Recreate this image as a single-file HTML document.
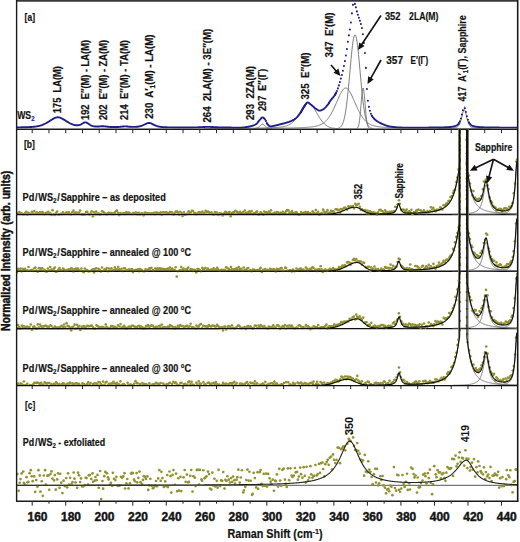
<!DOCTYPE html>
<html><head><meta charset="utf-8"><style>
html,body{margin:0;padding:0;background:#fff;}
body{width:520px;height:542px;overflow:hidden;}
svg{display:block;}
</style></head><body>
<svg width="520" height="542" viewBox="0 0 520 542">
<rect width="520" height="542" fill="#fff"/>
<defs><clipPath id="pa"><rect x="17" y="0" width="500" height="128.5"/></clipPath><clipPath id="pb"><rect x="17" y="129.5" width="500" height="256.5"/></clipPath><clipPath id="pc"><rect x="17" y="386" width="500" height="115"/></clipPath></defs>
<g clip-path="url(#pa)">
<path d="M253.00,128.57 L253.50,128.56 L254.00,128.54 L254.50,128.51 L255.00,128.47 L255.50,128.42 L256.00,128.34 L256.50,128.23 L257.00,128.08 L257.50,127.88 L258.00,127.62 L258.50,127.30 L259.00,126.90 L259.50,126.45 L260.00,125.96 L260.50,125.45 L261.00,124.97 L261.50,124.57 L262.00,124.30 L262.50,124.20 L263.00,124.30 L263.50,124.57 L264.00,124.97 L264.50,125.45 L265.00,125.96 L265.50,126.45 L266.00,126.90 L266.50,127.30 L267.00,127.62 L267.50,127.88 L268.00,128.08 L268.50,128.23 L269.00,128.34 L269.50,128.42 L270.00,128.47 L270.50,128.51 L271.00,128.54 L271.50,128.56 L272.00,128.57" fill="none" stroke="#6e6e6e" stroke-width="0.9"/>
<path d="M204.00,128.58 L204.50,128.58 L205.00,128.58 L205.50,128.58 L206.00,128.57 L206.50,128.57 L207.00,128.57 L207.50,128.57 L208.00,128.57 L208.50,128.57 L209.00,128.57 L209.50,128.57 L210.00,128.56 L210.50,128.56 L211.00,128.56 L211.50,128.56 L212.00,128.56 L212.50,128.56 L213.00,128.56 L213.50,128.55 L214.00,128.55 L214.50,128.55 L215.00,128.55 L215.50,128.55 L216.00,128.55 L216.50,128.54 L217.00,128.54 L217.50,128.54 L218.00,128.54 L218.50,128.54 L219.00,128.54 L219.50,128.53 L220.00,128.53 L220.50,128.53 L221.00,128.53 L221.50,128.53 L222.00,128.52 L222.50,128.52 L223.00,128.52 L223.50,128.52 L224.00,128.52 L224.50,128.51 L225.00,128.51 L225.50,128.51 L226.00,128.51 L226.50,128.50 L227.00,128.50 L227.50,128.50 L228.00,128.50 L228.50,128.49 L229.00,128.49 L229.50,128.49 L230.00,128.49 L230.50,128.48 L231.00,128.48 L231.50,128.48 L232.00,128.48 L232.50,128.47 L233.00,128.47 L233.50,128.47 L234.00,128.46 L234.50,128.46 L235.00,128.46 L235.50,128.45 L236.00,128.45 L236.50,128.45 L237.00,128.44 L237.50,128.44 L238.00,128.44 L238.50,128.43 L239.00,128.43 L239.50,128.42 L240.00,128.42 L240.50,128.42 L241.00,128.41 L241.50,128.41 L242.00,128.40 L242.50,128.40 L243.00,128.39 L243.50,128.39 L244.00,128.38 L244.50,128.38 L245.00,128.37 L245.50,128.37 L246.00,128.36 L246.50,128.36 L247.00,128.35 L247.50,128.35 L248.00,128.34 L248.50,128.34 L249.00,128.33 L249.50,128.32 L250.00,128.32 L250.50,128.31 L251.00,128.30 L251.50,128.30 L252.00,128.29 L252.50,128.28 L253.00,128.28 L253.50,128.27 L254.00,128.26 L254.50,128.25 L255.00,128.24 L255.50,128.23 L256.00,128.23 L256.50,128.22 L257.00,128.21 L257.50,128.20 L258.00,128.19 L258.50,128.18 L259.00,128.17 L259.50,128.16 L260.00,128.15 L260.50,128.13 L261.00,128.12 L261.50,128.11 L262.00,128.10 L262.50,128.09 L263.00,128.07 L263.50,128.06 L264.00,128.04 L264.50,128.03 L265.00,128.01 L265.50,128.00 L266.00,127.98 L266.50,127.97 L267.00,127.95 L267.50,127.93 L268.00,127.91 L268.50,127.89 L269.00,127.87 L269.50,127.85 L270.00,127.83 L270.50,127.81 L271.00,127.79 L271.50,127.76 L272.00,127.74 L272.50,127.71 L273.00,127.68 L273.50,127.65 L274.00,127.63 L274.50,127.59 L275.00,127.56 L275.50,127.53 L276.00,127.49 L276.50,127.46 L277.00,127.42 L277.50,127.37 L278.00,127.33 L278.50,127.29 L279.00,127.24 L279.50,127.18 L280.00,127.13 L280.50,127.07 L281.00,127.01 L281.50,126.94 L282.00,126.86 L282.50,126.78 L283.00,126.70 L283.50,126.61 L284.00,126.51 L284.50,126.40 L285.00,126.28 L285.50,126.15 L286.00,126.01 L286.50,125.85 L287.00,125.68 L287.50,125.50 L288.00,125.30 L288.50,125.08 L289.00,124.84 L289.50,124.58 L290.00,124.30 L290.50,123.99 L291.00,123.66 L291.50,123.29 L292.00,122.90 L292.50,122.48 L293.00,122.03 L293.50,121.54 L294.00,121.02 L294.50,120.46 L295.00,119.87 L295.50,119.25 L296.00,118.59 L296.50,117.89 L297.00,117.16 L297.50,116.39 L298.00,115.60 L298.50,114.78 L299.00,113.93 L299.50,113.06 L300.00,112.17 L300.50,111.27 L301.00,110.36 L301.50,109.46 L302.00,108.56 L302.50,107.69 L303.00,106.84 L303.50,106.03 L304.00,105.28 L304.50,104.59 L305.00,103.99 L305.50,103.47 L306.00,103.05 L306.50,102.75 L307.00,102.56 L307.50,102.50 L308.00,102.54 L308.50,102.66 L309.00,102.85 L309.50,103.12 L310.00,103.46 L310.50,103.86 L311.00,104.34 L311.50,104.88 L312.00,105.47 L312.50,106.12 L313.00,106.81 L313.50,107.55 L314.00,108.32 L314.50,109.12 L315.00,109.94 L315.50,110.79 L316.00,111.65 L316.50,112.51 L317.00,113.38 L317.50,114.24 L318.00,115.09 L318.50,115.93 L319.00,116.76 L319.50,117.57 L320.00,118.35 L320.50,119.10 L321.00,119.83 L321.50,120.53 L322.00,121.19 L322.50,121.82 L323.00,122.42 L323.50,122.98 L324.00,123.50 L324.50,124.00 L325.00,124.45 L325.50,124.88 L326.00,125.27 L326.50,125.63 L327.00,125.97 L327.50,126.27 L328.00,126.54 L328.50,126.79 L329.00,127.02 L329.50,127.22 L330.00,127.41 L330.50,127.57 L331.00,127.72 L331.50,127.85 L332.00,127.96 L332.50,128.06 L333.00,128.15 L333.50,128.23 L334.00,128.30 L334.50,128.36 L335.00,128.41 L335.50,128.45 L336.00,128.49 L336.50,128.52 L337.00,128.55 L337.50,128.58" fill="none" stroke="#6e6e6e" stroke-width="0.9"/>
<path d="M209.00,128.58 L209.50,128.58 L210.00,128.58 L210.50,128.58 L211.00,128.58 L211.50,128.58 L212.00,128.57 L212.50,128.57 L213.00,128.57 L213.50,128.57 L214.00,128.57 L214.50,128.57 L215.00,128.57 L215.50,128.57 L216.00,128.57 L216.50,128.57 L217.00,128.56 L217.50,128.56 L218.00,128.56 L218.50,128.56 L219.00,128.56 L219.50,128.56 L220.00,128.56 L220.50,128.56 L221.00,128.56 L221.50,128.55 L222.00,128.55 L222.50,128.55 L223.00,128.55 L223.50,128.55 L224.00,128.55 L224.50,128.55 L225.00,128.55 L225.50,128.54 L226.00,128.54 L226.50,128.54 L227.00,128.54 L227.50,128.54 L228.00,128.54 L228.50,128.54 L229.00,128.54 L229.50,128.53 L230.00,128.53 L230.50,128.53 L231.00,128.53 L231.50,128.53 L232.00,128.53 L232.50,128.53 L233.00,128.52 L233.50,128.52 L234.00,128.52 L234.50,128.52 L235.00,128.52 L235.50,128.52 L236.00,128.51 L236.50,128.51 L237.00,128.51 L237.50,128.51 L238.00,128.51 L238.50,128.51 L239.00,128.50 L239.50,128.50 L240.00,128.50 L240.50,128.50 L241.00,128.50 L241.50,128.49 L242.00,128.49 L242.50,128.49 L243.00,128.49 L243.50,128.49 L244.00,128.48 L244.50,128.48 L245.00,128.48 L245.50,128.48 L246.00,128.48 L246.50,128.47 L247.00,128.47 L247.50,128.47 L248.00,128.47 L248.50,128.46 L249.00,128.46 L249.50,128.46 L250.00,128.46 L250.50,128.45 L251.00,128.45 L251.50,128.45 L252.00,128.45 L252.50,128.44 L253.00,128.44 L253.50,128.44 L254.00,128.43 L254.50,128.43 L255.00,128.43 L255.50,128.43 L256.00,128.42 L256.50,128.42 L257.00,128.42 L257.50,128.41 L258.00,128.41 L258.50,128.41 L259.00,128.40 L259.50,128.40 L260.00,128.40 L260.50,128.39 L261.00,128.39 L261.50,128.39 L262.00,128.38 L262.50,128.38 L263.00,128.38 L263.50,128.37 L264.00,128.37 L264.50,128.36 L265.00,128.36 L265.50,128.36 L266.00,128.35 L266.50,128.35 L267.00,128.34 L267.50,128.34 L268.00,128.33 L268.50,128.33 L269.00,128.32 L269.50,128.32 L270.00,128.31 L270.50,128.31 L271.00,128.30 L271.50,128.30 L272.00,128.29 L272.50,128.29 L273.00,128.28 L273.50,128.28 L274.00,128.27 L274.50,128.26 L275.00,128.26 L275.50,128.25 L276.00,128.25 L276.50,128.24 L277.00,128.23 L277.50,128.23 L278.00,128.22 L278.50,128.21 L279.00,128.21 L279.50,128.20 L280.00,128.19 L280.50,128.18 L281.00,128.18 L281.50,128.17 L282.00,128.16 L282.50,128.15 L283.00,128.14 L283.50,128.13 L284.00,128.13 L284.50,128.12 L285.00,128.11 L285.50,128.10 L286.00,128.09 L286.50,128.08 L287.00,128.07 L287.50,128.06 L288.00,128.05 L288.50,128.04 L289.00,128.02 L289.50,128.01 L290.00,128.00 L290.50,127.99 L291.00,127.98 L291.50,127.96 L292.00,127.95 L292.50,127.94 L293.00,127.92 L293.50,127.91 L294.00,127.89 L294.50,127.88 L295.00,127.86 L295.50,127.85 L296.00,127.83 L296.50,127.81 L297.00,127.80 L297.50,127.78 L298.00,127.76 L298.50,127.74 L299.00,127.72 L299.50,127.70 L300.00,127.68 L300.50,127.66 L301.00,127.64 L301.50,127.62 L302.00,127.59 L302.50,127.57 L303.00,127.54 L303.50,127.52 L304.00,127.49 L304.50,127.46 L305.00,127.43 L305.50,127.40 L306.00,127.37 L306.50,127.34 L307.00,127.30 L307.50,127.26 L308.00,127.23 L308.50,127.19 L309.00,127.14 L309.50,127.10 L310.00,127.05 L310.50,127.00 L311.00,126.95 L311.50,126.90 L312.00,126.84 L312.50,126.77 L313.00,126.71 L313.50,126.63 L314.00,126.55 L314.50,126.47 L315.00,126.38 L315.50,126.28 L316.00,126.18 L316.50,126.06 L317.00,125.94 L317.50,125.81 L318.00,125.66 L318.50,125.51 L319.00,125.34 L319.50,125.15 L320.00,124.95 L320.50,124.74 L321.00,124.50 L321.50,124.25 L322.00,123.98 L322.50,123.68 L323.00,123.36 L323.50,123.01 L324.00,122.64 L324.50,122.24 L325.00,121.81 L325.50,121.35 L326.00,120.86 L326.50,120.34 L327.00,119.78 L327.50,119.19 L328.00,118.56 L328.50,117.89 L329.00,117.19 L329.50,116.44 L330.00,115.66 L330.50,114.85 L331.00,113.99 L331.50,113.10 L332.00,112.17 L332.50,111.21 L333.00,110.22 L333.50,109.19 L334.00,108.14 L334.50,107.06 L335.00,105.95 L335.50,104.83 L336.00,103.70 L336.50,102.55 L337.00,101.40 L337.50,100.25 L338.00,99.10 L338.50,97.97 L339.00,96.86 L339.50,95.78 L340.00,94.73 L340.50,93.72 L341.00,92.77 L341.50,91.88 L342.00,91.07 L342.50,90.33 L343.00,89.68 L343.50,89.13 L344.00,88.68 L344.50,88.34 L345.00,88.12 L345.50,88.01 L346.00,88.02 L346.50,88.15 L347.00,88.40 L347.50,88.76 L348.00,89.23 L348.50,89.80 L349.00,90.47 L349.50,91.22 L350.00,92.06 L350.50,92.96 L351.00,93.92 L351.50,94.93 L352.00,95.99 L352.50,97.08 L353.00,98.20 L353.50,99.33 L354.00,100.48 L354.50,101.63 L355.00,102.78 L355.50,103.93 L356.00,105.06 L356.50,106.18 L357.00,107.28 L357.50,108.35 L358.00,109.40 L358.50,110.42 L359.00,111.41 L359.50,112.36 L360.00,113.28 L360.50,114.17 L361.00,115.01 L361.50,115.82 L362.00,116.60 L362.50,117.33 L363.00,118.03 L363.50,118.69 L364.00,119.31 L364.50,119.90 L365.00,120.45 L365.50,120.96 L366.00,121.45 L366.50,121.90 L367.00,122.32 L367.50,122.72 L368.00,123.08 L368.50,123.42 L369.00,123.74 L369.50,124.03 L370.00,124.30 L370.50,124.55 L371.00,124.78 L371.50,125.00 L372.00,125.19 L372.50,125.37 L373.00,125.54 L373.50,125.69 L374.00,125.84 L374.50,125.97 L375.00,126.09 L375.50,126.20 L376.00,126.30 L376.50,126.40 L377.00,126.49 L377.50,126.57 L378.00,126.65 L378.50,126.72 L379.00,126.79 L379.50,126.85 L380.00,126.91 L380.50,126.96 L381.00,127.01 L381.50,127.06 L382.00,127.11 L382.50,127.15 L383.00,127.19 L383.50,127.23 L384.00,127.27 L384.50,127.31 L385.00,127.34 L385.50,127.38 L386.00,127.41 L386.50,127.44 L387.00,127.47 L387.50,127.49 L388.00,127.52 L388.50,127.55 L389.00,127.57 L389.50,127.60 L390.00,127.62 L390.50,127.64 L391.00,127.66 L391.50,127.69 L392.00,127.71 L392.50,127.73 L393.00,127.75 L393.50,127.76 L394.00,127.78 L394.50,127.80 L395.00,127.82 L395.50,127.83 L396.00,127.85 L396.50,127.87 L397.00,127.88 L397.50,127.90 L398.00,127.91 L398.50,127.93 L399.00,127.94 L399.50,127.95 L400.00,127.97 L400.50,127.98 L401.00,127.99 L401.50,128.00 L402.00,128.01 L402.50,128.03 L403.00,128.04 L403.50,128.05 L404.00,128.06 L404.50,128.07 L405.00,128.08 L405.50,128.09 L406.00,128.10 L406.50,128.11 L407.00,128.12 L407.50,128.13 L408.00,128.14 L408.50,128.14 L409.00,128.15 L409.50,128.16 L410.00,128.17 L410.50,128.18 L411.00,128.19 L411.50,128.19 L412.00,128.20 L412.50,128.21 L413.00,128.21 L413.50,128.22 L414.00,128.23 L414.50,128.23 L415.00,128.24 L415.50,128.25 L416.00,128.25 L416.50,128.26 L417.00,128.27 L417.50,128.27 L418.00,128.28 L418.50,128.28 L419.00,128.29 L419.50,128.29 L420.00,128.30 L420.50,128.30 L421.00,128.31 L421.50,128.31 L422.00,128.32 L422.50,128.32 L423.00,128.33 L423.50,128.33 L424.00,128.34 L424.50,128.34 L425.00,128.35 L425.50,128.35 L426.00,128.36 L426.50,128.36 L427.00,128.36 L427.50,128.37 L428.00,128.37 L428.50,128.38 L429.00,128.38 L429.50,128.38 L430.00,128.39 L430.50,128.39 L431.00,128.39 L431.50,128.40 L432.00,128.40 L432.50,128.40 L433.00,128.41 L433.50,128.41 L434.00,128.41 L434.50,128.42 L435.00,128.42 L435.50,128.42 L436.00,128.43 L436.50,128.43 L437.00,128.43 L437.50,128.44 L438.00,128.44 L438.50,128.44 L439.00,128.44 L439.50,128.45 L440.00,128.45 L440.50,128.45 L441.00,128.45 L441.50,128.46 L442.00,128.46 L442.50,128.46 L443.00,128.46 L443.50,128.47 L444.00,128.47 L444.50,128.47 L445.00,128.47 L445.50,128.48 L446.00,128.48 L446.50,128.48 L447.00,128.48 L447.50,128.48 L448.00,128.49 L448.50,128.49 L449.00,128.49 L449.50,128.49 L450.00,128.49 L450.50,128.50 L451.00,128.50 L451.50,128.50 L452.00,128.50 L452.50,128.50 L453.00,128.51 L453.50,128.51 L454.00,128.51 L454.50,128.51 L455.00,128.51 L455.50,128.51 L456.00,128.52 L456.50,128.52 L457.00,128.52 L457.50,128.52 L458.00,128.52 L458.50,128.52 L459.00,128.53 L459.50,128.53 L460.00,128.53 L460.50,128.53 L461.00,128.53 L461.50,128.53 L462.00,128.53 L462.50,128.54 L463.00,128.54 L463.50,128.54 L464.00,128.54 L464.50,128.54 L465.00,128.54 L465.50,128.54 L466.00,128.54 L466.50,128.55 L467.00,128.55 L467.50,128.55 L468.00,128.55 L468.50,128.55 L469.00,128.55 L469.50,128.55 L470.00,128.55 L470.50,128.56 L471.00,128.56 L471.50,128.56 L472.00,128.56 L472.50,128.56 L473.00,128.56 L473.50,128.56 L474.00,128.56 L474.50,128.56 L475.00,128.57 L475.50,128.57 L476.00,128.57 L476.50,128.57 L477.00,128.57 L477.50,128.57 L478.00,128.57 L478.50,128.57 L479.00,128.57 L479.50,128.57 L480.00,128.58 L480.50,128.58 L481.00,128.58 L481.50,128.58 L482.00,128.58 L482.50,128.58" fill="none" stroke="#6e6e6e" stroke-width="0.9"/>
<path d="M336.50,128.57 L337.00,128.52 L337.50,128.44 L338.00,128.34 L338.50,128.20 L339.00,128.02 L339.50,127.78 L340.00,127.46 L340.50,127.06 L341.00,126.54 L341.50,125.89 L342.00,125.07 L342.50,124.06 L343.00,122.82 L343.50,121.33 L344.00,119.55 L344.50,117.45 L345.00,114.99 L345.50,112.16 L346.00,108.94 L346.50,105.31 L347.00,101.29 L347.50,96.87 L348.00,92.11 L348.50,87.03 L349.00,81.70 L349.50,76.20 L350.00,70.61 L350.50,65.05 L351.00,59.62 L351.50,54.45 L352.00,49.66 L352.50,45.36 L353.00,41.67 L353.50,38.69 L354.00,36.49 L354.50,35.15 L355.00,34.70 L355.50,35.15 L356.00,36.49 L356.50,38.69 L357.00,41.67 L357.50,45.36 L358.00,49.66 L358.50,54.45 L359.00,59.62 L359.50,65.05 L360.00,70.61 L360.50,76.20 L361.00,81.70 L361.50,87.03 L362.00,92.11 L362.50,96.87 L363.00,101.29 L363.50,105.31 L364.00,108.94 L364.50,112.16 L365.00,114.99 L365.50,117.45 L366.00,119.55 L366.50,121.33 L367.00,122.82 L367.50,124.06 L368.00,125.07 L368.50,125.89 L369.00,126.54 L369.50,127.06 L370.00,127.46 L370.50,127.78 L371.00,128.02 L371.50,128.20 L372.00,128.34 L372.50,128.44 L373.00,128.52 L373.50,128.57" fill="none" stroke="#6e6e6e" stroke-width="0.9"/>
<path d="M356.50,128.53 L357.00,128.32 L357.50,127.91 L358.00,127.14 L358.50,125.84 L359.00,123.76 L359.50,120.70 L360.00,116.52 L360.50,111.28 L361.00,105.30 L361.50,99.18 L362.00,93.73 L362.50,89.80 L363.00,88.05 L363.50,88.81 L364.00,91.93 L364.50,96.88 L365.00,102.83 L365.50,108.95 L366.00,114.54 L366.50,119.16 L367.00,122.67 L367.50,125.12 L368.00,126.70 L368.50,127.65 L369.00,128.18 L369.50,128.46" fill="none" stroke="#6e6e6e" stroke-width="0.9"/>
<path d="M438.00,128.58 L438.50,128.57 L439.00,128.57 L439.50,128.56 L440.00,128.56 L440.50,128.55 L441.00,128.54 L441.50,128.54 L442.00,128.53 L442.50,128.52 L443.00,128.51 L443.50,128.50 L444.00,128.49 L444.50,128.48 L445.00,128.47 L445.50,128.46 L446.00,128.45 L446.50,128.43 L447.00,128.42 L447.50,128.40 L448.00,128.39 L448.50,128.37 L449.00,128.34 L449.50,128.32 L450.00,128.29 L450.50,128.27 L451.00,128.23 L451.50,128.20 L452.00,128.16 L452.50,128.11 L453.00,128.06 L453.50,128.01 L454.00,127.94 L454.50,127.86 L455.00,127.77 L455.50,127.66 L456.00,127.52 L456.50,127.35 L457.00,127.12 L457.50,126.81 L458.00,126.41 L458.50,125.86 L459.00,125.14 L459.50,124.22 L460.00,123.05 L460.50,121.62 L461.00,119.94 L461.50,118.03 L462.00,115.98 L462.50,113.90 L463.00,112.01 L463.50,110.54 L464.00,109.77 L464.50,109.86 L465.00,110.79 L465.50,112.36 L466.00,114.31 L466.50,116.40 L467.00,118.43 L467.50,120.29 L468.00,121.93 L468.50,123.30 L469.00,124.42 L469.50,125.30 L470.00,125.98 L470.50,126.50 L471.00,126.88 L471.50,127.17 L472.00,127.39 L472.50,127.56 L473.00,127.69 L473.50,127.79 L474.00,127.88 L474.50,127.95 L475.00,128.02 L475.50,128.07 L476.00,128.12 L476.50,128.17 L477.00,128.21 L477.50,128.24 L478.00,128.27 L478.50,128.30 L479.00,128.33 L479.50,128.35 L480.00,128.37 L480.50,128.39 L481.00,128.41 L481.50,128.42 L482.00,128.44 L482.50,128.45 L483.00,128.46 L483.50,128.48 L484.00,128.49 L484.50,128.50 L485.00,128.51 L485.50,128.52 L486.00,128.52 L486.50,128.53 L487.00,128.54 L487.50,128.55 L488.00,128.55 L488.50,128.56 L489.00,128.56 L489.50,128.57 L490.00,128.57 L490.50,128.58" fill="none" stroke="#6e6e6e" stroke-width="0.9"/>
<path d="M16.50,127.40 L17.00,127.39 L17.50,127.38 L18.00,127.37 L18.50,127.37 L19.00,127.36 L19.50,127.35 L20.00,127.34 L20.50,127.33 L21.00,127.32 L21.50,127.31 L22.00,127.31 L22.50,127.29 L23.00,127.28 L23.50,127.27 L24.00,127.26 L24.50,127.25 L25.00,127.23 L25.50,127.22 L26.00,127.21 L26.50,127.19 L27.00,127.17 L27.50,127.16 L28.00,127.14 L28.50,127.12 L29.00,127.09 L29.50,127.07 L30.00,127.05 L30.50,127.02 L31.00,126.99 L31.50,126.96 L32.00,126.92 L32.50,126.88 L33.00,126.84 L33.50,126.80 L34.00,126.75 L34.50,126.69 L35.00,126.64 L35.50,126.57 L36.00,126.50 L36.50,126.43 L37.00,126.35 L37.50,126.26 L38.00,126.16 L38.50,126.06 L39.00,125.94 L39.50,125.82 L40.00,125.69 L40.50,125.55 L41.00,125.39 L41.50,125.23 L42.00,125.05 L42.50,124.87 L43.00,124.67 L43.50,124.46 L44.00,124.24 L44.50,124.01 L45.00,123.76 L45.50,123.51 L46.00,123.24 L46.50,122.96 L47.00,122.67 L47.50,122.37 L48.00,122.07 L48.50,121.75 L49.00,121.44 L49.50,121.11 L50.00,120.79 L50.50,120.46 L51.00,120.13 L51.50,119.81 L52.00,119.50 L52.50,119.19 L53.00,118.89 L53.50,118.61 L54.00,118.35 L54.50,118.11 L55.00,117.90 L55.50,117.72 L56.00,117.56 L56.50,117.44 L57.00,117.36 L57.50,117.32 L58.00,117.31 L58.50,117.34 L59.00,117.41 L59.50,117.52 L60.00,117.66 L60.50,117.83 L61.00,118.04 L61.50,118.26 L62.00,118.52 L62.50,118.79 L63.00,119.07 L63.50,119.37 L64.00,119.68 L64.50,119.99 L65.00,120.31 L65.50,120.63 L66.00,120.95 L66.50,121.27 L67.00,121.58 L67.50,121.88 L68.00,122.18 L68.50,122.47 L69.00,122.75 L69.50,123.02 L70.00,123.28 L70.50,123.52 L71.00,123.75 L71.50,123.97 L72.00,124.18 L72.50,124.37 L73.00,124.55 L73.50,124.71 L74.00,124.85 L74.50,124.98 L75.00,125.09 L75.50,125.18 L76.00,125.24 L76.50,125.29 L77.00,125.31 L77.50,125.30 L78.00,125.26 L78.50,125.19 L79.00,125.09 L79.50,124.95 L80.00,124.78 L80.50,124.57 L81.00,124.33 L81.50,124.07 L82.00,123.78 L82.50,123.49 L83.00,123.20 L83.50,122.92 L84.00,122.68 L84.50,122.49 L85.00,122.38 L85.50,122.35 L86.00,122.42 L86.50,122.58 L87.00,122.81 L87.50,123.09 L88.00,123.42 L88.50,123.76 L89.00,124.11 L89.50,124.44 L90.00,124.76 L90.50,125.06 L91.00,125.33 L91.50,125.57 L92.00,125.78 L92.50,125.96 L93.00,126.11 L93.50,126.24 L94.00,126.34 L94.50,126.42 L95.00,126.48 L95.50,126.53 L96.00,126.56 L96.50,126.57 L97.00,126.58 L97.50,126.57 L98.00,126.55 L98.50,126.53 L99.00,126.49 L99.50,126.45 L100.00,126.41 L100.50,126.36 L101.00,126.31 L101.50,126.27 L102.00,126.24 L102.50,126.22 L103.00,126.22 L103.50,126.24 L104.00,126.27 L104.50,126.33 L105.00,126.39 L105.50,126.46 L106.00,126.53 L106.50,126.59 L107.00,126.66 L107.50,126.72 L108.00,126.77 L108.50,126.82 L109.00,126.87 L109.50,126.90 L110.00,126.94 L110.50,126.96 L111.00,126.99 L111.50,127.01 L112.00,127.03 L112.50,127.04 L113.00,127.05 L113.50,127.06 L114.00,127.06 L114.50,127.06 L115.00,127.06 L115.50,127.05 L116.00,127.04 L116.50,127.03 L117.00,127.02 L117.50,127.00 L118.00,126.97 L118.50,126.95 L119.00,126.91 L119.50,126.88 L120.00,126.83 L120.50,126.78 L121.00,126.73 L121.50,126.67 L122.00,126.61 L122.50,126.54 L123.00,126.48 L123.50,126.43 L124.00,126.38 L124.50,126.35 L125.00,126.34 L125.50,126.35 L126.00,126.37 L126.50,126.41 L127.00,126.47 L127.50,126.52 L128.00,126.58 L128.50,126.64 L129.00,126.69 L129.50,126.74 L130.00,126.79 L130.50,126.82 L131.00,126.85 L131.50,126.88 L132.00,126.90 L132.50,126.91 L133.00,126.92 L133.50,126.92 L134.00,126.92 L134.50,126.91 L135.00,126.89 L135.50,126.87 L136.00,126.84 L136.50,126.80 L137.00,126.76 L137.50,126.70 L138.00,126.63 L138.50,126.55 L139.00,126.46 L139.50,126.36 L140.00,126.24 L140.50,126.11 L141.00,125.96 L141.50,125.80 L142.00,125.62 L142.50,125.43 L143.00,125.22 L143.50,124.99 L144.00,124.76 L144.50,124.52 L145.00,124.27 L145.50,124.02 L146.00,123.79 L146.50,123.56 L147.00,123.36 L147.50,123.19 L148.00,123.06 L148.50,122.98 L149.00,122.96 L149.50,122.99 L150.00,123.07 L150.50,123.21 L151.00,123.38 L151.50,123.59 L152.00,123.82 L152.50,124.06 L153.00,124.31 L153.50,124.56 L154.00,124.81 L154.50,125.05 L155.00,125.28 L155.50,125.50 L156.00,125.70 L156.50,125.89 L157.00,126.06 L157.50,126.21 L158.00,126.35 L158.50,126.48 L159.00,126.59 L159.50,126.69 L160.00,126.78 L160.50,126.86 L161.00,126.93 L161.50,126.99 L162.00,127.04 L162.50,127.09 L163.00,127.13 L163.50,127.16 L164.00,127.19 L164.50,127.22 L165.00,127.24 L165.50,127.27 L166.00,127.29 L166.50,127.30 L167.00,127.32 L167.50,127.33 L168.00,127.35 L168.50,127.36 L169.00,127.37 L169.50,127.38 L170.00,127.39 L170.50,127.40 L171.00,127.41 L171.50,127.42 L172.00,127.42 L172.50,127.43 L173.00,127.44 L173.50,127.44 L174.00,127.45 L174.50,127.45 L175.00,127.46 L175.50,127.46 L176.00,127.47 L176.50,127.47 L177.00,127.47 L177.50,127.48 L178.00,127.48 L178.50,127.48 L179.00,127.48 L179.50,127.48 L180.00,127.49 L180.50,127.49 L181.00,127.49 L181.50,127.49 L182.00,127.49 L182.50,127.49 L183.00,127.49 L183.50,127.49 L184.00,127.49 L184.50,127.49 L185.00,127.49 L185.50,127.49 L186.00,127.49 L186.50,127.49 L187.00,127.48 L187.50,127.48 L188.00,127.48 L188.50,127.48 L189.00,127.47 L189.50,127.47 L190.00,127.47 L190.50,127.46 L191.00,127.46 L191.50,127.45 L192.00,127.44 L192.50,127.44 L193.00,127.43 L193.50,127.42 L194.00,127.41 L194.50,127.40 L195.00,127.39 L195.50,127.38 L196.00,127.37 L196.50,127.36 L197.00,127.34 L197.50,127.33 L198.00,127.31 L198.50,127.29 L199.00,127.27 L199.50,127.25 L200.00,127.22 L200.50,127.20 L201.00,127.17 L201.50,127.15 L202.00,127.12 L202.50,127.09 L203.00,127.05 L203.50,127.02 L204.00,126.99 L204.50,126.96 L205.00,126.93 L205.50,126.91 L206.00,126.88 L206.50,126.86 L207.00,126.85 L207.50,126.84 L208.00,126.84 L208.50,126.84 L209.00,126.85 L209.50,126.87 L210.00,126.89 L210.50,126.91 L211.00,126.94 L211.50,126.97 L212.00,127.00 L212.50,127.04 L213.00,127.07 L213.50,127.10 L214.00,127.13 L214.50,127.16 L215.00,127.19 L215.50,127.22 L216.00,127.25 L216.50,127.27 L217.00,127.30 L217.50,127.32 L218.00,127.34 L218.50,127.36 L219.00,127.37 L219.50,127.39 L220.00,127.41 L220.50,127.42 L221.00,127.43 L221.50,127.44 L222.00,127.46 L222.50,127.47 L223.00,127.48 L223.50,127.49 L224.00,127.49 L224.50,127.50 L225.00,127.51 L225.50,127.52 L226.00,127.52 L226.50,127.53 L227.00,127.54 L227.50,127.54 L228.00,127.55 L228.50,127.55 L229.00,127.56 L229.50,127.56 L230.00,127.57 L230.50,127.57 L231.00,127.57 L231.50,127.58 L232.00,127.58 L232.50,127.58 L233.00,127.59 L233.50,127.59 L234.00,127.59 L234.50,127.59 L235.00,127.60 L235.50,127.60 L236.00,127.60 L236.50,127.63 L237.00,127.65 L237.50,127.67 L238.00,127.69 L238.50,127.70 L239.00,127.71 L239.50,127.71 L240.00,127.70 L240.50,127.68 L241.00,127.65 L241.50,127.63 L242.00,127.60 L242.50,127.57 L243.00,127.53 L243.50,127.48 L244.00,127.42 L244.50,127.36 L245.00,127.29 L245.50,127.22 L246.00,127.14 L246.50,127.06 L247.00,126.97 L247.50,126.89 L248.00,126.80 L248.50,126.71 L249.00,126.62 L249.50,126.52 L250.00,126.41 L250.50,126.30 L251.00,126.18 L251.50,126.05 L252.00,125.91 L252.50,125.76 L253.00,125.60 L253.50,125.42 L254.00,125.22 L254.50,124.99 L255.00,124.74 L255.50,124.46 L256.00,124.15 L256.50,123.80 L257.00,123.35 L257.50,122.77 L258.00,122.11 L258.50,121.43 L259.00,120.77 L259.50,120.20 L260.00,119.64 L260.50,119.04 L261.00,118.46 L261.50,117.95 L262.00,117.58 L262.50,117.41 L263.00,117.48 L263.50,117.76 L264.00,118.21 L264.50,118.76 L265.00,119.36 L265.50,120.05" fill="none" stroke="#1f1f8c" stroke-width="1.9" stroke-linejoin="round"/>
<path d="M267.00,123.39 L267.50,124.20 L268.00,124.77 L268.50,125.31 L269.00,125.79 L269.50,126.15 L270.00,126.36 L270.50,126.40 L271.00,126.37 L271.50,126.32 L272.00,126.24 L272.50,126.15 L273.00,126.04 L273.50,125.93 L274.00,125.82 L274.50,125.70 L275.00,125.60 L275.50,125.50 L276.00,125.39 L276.50,125.27 L277.00,125.15 L277.50,125.03 L278.00,124.91 L278.50,124.78 L279.00,124.65 L279.50,124.53 L280.00,124.40 L280.50,124.28 L281.00,124.15 L281.50,124.03 L282.00,123.90 L282.50,123.77 L283.00,123.64 L283.50,123.51 L284.00,123.38 L284.50,123.24 L285.00,123.10 L285.50,122.96 L286.00,122.81 L286.50,122.67 L287.00,122.52 L287.50,122.37 L288.00,122.21 L288.50,122.05 L289.00,121.88 L289.50,121.69 L290.00,121.50 L290.50,121.30 L291.00,121.08 L291.50,120.86 L292.00,120.62 L292.50,120.38 L293.00,120.11 L293.50,119.83 L294.00,119.54 L294.50,119.22 L295.00,118.88 L295.50,118.53 L296.00,118.12 L296.50,117.66 L297.00,117.16 L297.50,116.62 L298.00,116.04 L298.50,115.43 L299.00,114.80 L299.50,114.16 L300.00,113.50 L300.50,112.80 L301.00,112.02 L301.50,111.19 L302.00,110.32 L302.50,109.44 L303.00,108.56 L303.50,107.71 L304.00,106.89 L304.50,106.14 L305.00,105.40 L305.50,104.58 L306.00,103.77 L306.50,103.07 L307.00,102.58 L307.50,102.40 L308.00,102.49 L308.50,102.74 L309.00,103.09 L309.50,103.49 L310.00,103.90 L310.50,104.27 L311.00,104.65 L311.50,105.05 L312.00,105.48 L312.50,105.93 L313.00,106.38 L313.50,106.83 L314.00,107.27 L314.50,107.70 L315.00,108.10 L315.50,108.47 L316.00,108.80 L316.50,109.12 L317.00,109.46 L317.50,109.79 L318.00,110.09 L318.50,110.34 L319.00,110.52 L319.50,110.60 L320.00,110.58 L320.50,110.48 L321.00,110.33 L321.50,110.13 L322.00,109.90 L322.50,109.65 L323.00,109.40 L323.50,109.11 L324.00,108.75 L324.50,108.34 L325.00,107.87 L325.50,107.36 L326.00,106.82 L326.50,106.24 L327.00,105.65 L327.50,105.04 L328.00,104.41 L328.50,103.67 L329.00,102.88 L329.50,102.07 L330.00,101.30 L330.50,100.60 L331.00,99.94 L331.50,99.31 L332.00,98.70 L332.50,98.09 L333.00,97.48 L333.50,96.86 L334.00,96.20 L334.50,95.49 L335.00,94.73 L335.50,93.91 L336.00,93.00 L336.50,91.98" fill="none" stroke="#1f1f8c" stroke-width="1.9" stroke-linejoin="round"/>
<path d="M371.50,115.09 L372.00,116.00 L372.50,116.74 L373.00,117.38 L373.50,117.98 L374.00,118.53 L374.50,119.04 L375.00,119.51 L375.50,119.95 L376.00,120.35 L376.50,120.73 L377.00,121.08 L377.50,121.40 L378.00,121.71 L378.50,122.00 L379.00,122.28 L379.50,122.54 L380.00,122.80 L380.50,123.05 L381.00,123.30 L381.50,123.55 L382.00,123.79 L382.50,124.02 L383.00,124.25 L383.50,124.47 L384.00,124.68 L384.50,124.88 L385.00,125.08 L385.50,125.27 L386.00,125.45 L386.50,125.62 L387.00,125.78 L387.50,125.93 L388.00,126.07 L388.50,126.20 L389.00,126.32 L389.50,126.43 L390.00,126.52 L390.50,126.60 L391.00,126.67 L391.50,126.74 L392.00,126.81 L392.50,126.88 L393.00,126.94 L393.50,127.00 L394.00,127.05 L394.50,127.11 L395.00,127.16 L395.50,127.20 L396.00,127.25 L396.50,127.29 L397.00,127.33 L397.50,127.37 L398.00,127.40 L398.50,127.43 L399.00,127.46 L399.50,127.48 L400.00,127.50 L400.50,127.52 L401.00,127.54 L401.50,127.56 L402.00,127.58 L402.50,127.59 L403.00,127.61 L403.50,127.62 L404.00,127.64 L404.50,127.65 L405.00,127.66 L405.50,127.67 L406.00,127.67 L406.50,127.66 L407.00,127.66 L407.50,127.65 L408.00,127.65 L408.50,127.64 L409.00,127.64 L409.50,127.64 L410.00,127.64 L410.50,127.64 L411.00,127.64 L411.50,127.64 L412.00,127.64 L412.50,127.64 L413.00,127.64 L413.50,127.64 L414.00,127.63 L414.50,127.63 L415.00,127.63 L415.50,127.63 L416.00,127.63 L416.50,127.63 L417.00,127.63 L417.50,127.63 L418.00,127.62 L418.50,127.62 L419.00,127.62 L419.50,127.62 L420.00,127.62 L420.50,127.62 L421.00,127.61 L421.50,127.61 L422.00,127.61 L422.50,127.61 L423.00,127.61 L423.50,127.60 L424.00,127.60 L424.50,127.60 L425.00,127.60 L425.50,127.59 L426.00,127.59 L426.50,127.59 L427.00,127.59 L427.50,127.58 L428.00,127.58 L428.50,127.58 L429.00,127.57 L429.50,127.57 L430.00,127.57 L430.50,127.56 L431.00,127.56 L431.50,127.56 L432.00,127.55 L432.50,127.55 L433.00,127.54 L433.50,127.54 L434.00,127.53 L434.50,127.53 L435.00,127.52 L435.50,127.52 L436.00,127.51 L436.50,127.50 L437.00,127.50 L437.50,127.49 L438.00,127.48 L438.50,127.47 L439.00,127.46 L439.50,127.46 L440.00,127.45 L440.50,127.43 L441.00,127.42 L441.50,127.41 L442.00,127.40 L442.50,127.39 L443.00,127.37 L443.50,127.36 L444.00,127.34 L444.50,127.32 L445.00,127.30 L445.50,127.28 L446.00,127.26 L446.50,127.24 L447.00,127.21 L447.50,127.18 L448.00,127.15 L448.50,127.12 L449.00,127.08 L449.50,127.04 L450.00,126.99 L450.50,126.94 L451.00,126.89 L451.50,126.83 L452.00,126.76 L452.50,126.68 L453.00,126.60 L453.50,126.50 L454.00,126.39 L454.50,126.26 L455.00,126.11 L455.50,125.94 L456.00,125.74 L456.50,125.49 L457.00,125.19 L457.50,124.83 L458.00,124.37 L458.50,123.80 L459.00,123.09 L459.50,122.20" fill="none" stroke="#1f1f8c" stroke-width="1.9" stroke-linejoin="round"/>
<path d="M464.00,107.28 L464.50,107.39" fill="none" stroke="#1f1f8c" stroke-width="1.9" stroke-linejoin="round"/>
<path d="M469.00,122.39 L469.50,123.24 L470.00,123.93 L470.50,124.47 L471.00,124.91 L471.50,125.26 L472.00,125.54 L472.50,125.78 L473.00,125.98 L473.50,126.14 L474.00,126.29 L474.50,126.41 L475.00,126.52 L475.50,126.61 L476.00,126.70 L476.50,126.77 L477.00,126.84 L477.50,126.90 L478.00,126.95 L478.50,127.00 L479.00,127.05 L479.50,127.09 L480.00,127.12 L480.50,127.16 L481.00,127.19 L481.50,127.22 L482.00,127.24 L482.50,127.27 L483.00,127.29 L483.50,127.31 L484.00,127.33 L484.50,127.34 L485.00,127.36 L485.50,127.38 L486.00,127.39 L486.50,127.40 L487.00,127.42 L487.50,127.43 L488.00,127.44 L488.50,127.45 L489.00,127.46 L489.50,127.47 L490.00,127.48 L490.50,127.48 L491.00,127.49 L491.50,127.50 L492.00,127.51 L492.50,127.51 L493.00,127.52 L493.50,127.53 L494.00,127.53 L494.50,127.54 L495.00,127.54 L495.50,127.55 L496.00,127.55 L496.50,127.56 L497.00,127.56 L497.50,127.56 L498.00,127.57 L498.50,127.57 L499.00,127.57 L499.50,127.58 L500.00,127.58 L500.50,127.58 L501.00,127.59 L501.50,127.59 L502.00,127.59 L502.50,127.60 L503.00,127.60 L503.50,127.60 L504.00,127.60 L504.50,127.61 L505.00,127.61 L505.50,127.61 L506.00,127.61 L506.50,127.61 L507.00,127.62 L507.50,127.62 L508.00,127.62 L508.50,127.62 L509.00,127.62 L509.50,127.62 L510.00,127.63 L510.50,127.63 L511.00,127.63 L511.50,127.63 L512.00,127.63 L512.50,127.63 L513.00,127.63 L513.50,127.64 L514.00,127.64 L514.50,127.64 L515.00,127.64 L515.50,127.64 L516.00,127.64 L516.50,127.64 L517.00,127.64 L517.50,127.64" fill="none" stroke="#1f1f8c" stroke-width="1.9" stroke-linejoin="round"/>
<g fill="#1f1f8c"><circle cx="265.90" cy="120.88" r="1.05"/><circle cx="266.90" cy="123.17" r="1.05"/><circle cx="300.90" cy="112.18" r="1.05"/><circle cx="301.90" cy="110.50" r="1.05"/><circle cx="302.90" cy="108.74" r="1.05"/><circle cx="303.90" cy="107.06" r="1.05"/><circle cx="304.90" cy="105.55" r="1.05"/><circle cx="305.90" cy="103.93" r="1.05"/><circle cx="328.90" cy="103.04" r="1.05"/><circle cx="334.90" cy="94.89" r="1.05"/><circle cx="335.90" cy="93.18" r="1.05"/><circle cx="336.90" cy="91.05" r="1.05"/><circle cx="337.90" cy="88.42" r="1.05"/><circle cx="338.90" cy="85.41" r="1.05"/><circle cx="339.90" cy="82.10" r="1.05"/><circle cx="340.90" cy="78.62" r="1.05"/><circle cx="341.90" cy="74.93" r="1.05"/><circle cx="342.90" cy="70.72" r="1.05"/><circle cx="343.90" cy="66.11" r="1.05"/><circle cx="344.90" cy="61.11" r="1.05"/><circle cx="345.90" cy="55.57" r="1.05"/><circle cx="346.90" cy="49.08" r="1.05"/><circle cx="347.90" cy="41.78" r="1.05"/><circle cx="348.90" cy="35.33" r="1.05"/><circle cx="349.90" cy="29.53" r="1.05"/><circle cx="350.90" cy="22.47" r="1.05"/><circle cx="351.90" cy="13.39" r="1.05"/><circle cx="352.90" cy="4.84" r="1.05"/><circle cx="354.90" cy="3.92" r="1.05"/><circle cx="355.90" cy="7.35" r="1.05"/><circle cx="356.90" cy="11.38" r="1.05"/><circle cx="357.90" cy="14.76" r="1.05"/><circle cx="358.90" cy="17.71" r="1.05"/><circle cx="359.90" cy="20.82" r="1.05"/><circle cx="360.90" cy="23.95" r="1.05"/><circle cx="361.90" cy="28.01" r="1.05"/><circle cx="362.90" cy="34.30" r="1.05"/><circle cx="363.90" cy="42.94" r="1.05"/><circle cx="364.90" cy="53.00" r="1.05"/><circle cx="365.90" cy="67.90" r="1.05"/><circle cx="366.90" cy="88.99" r="1.05"/><circle cx="367.90" cy="100.73" r="1.05"/><circle cx="368.90" cy="106.85" r="1.05"/><circle cx="369.90" cy="110.76" r="1.05"/><circle cx="370.90" cy="113.71" r="1.05"/><circle cx="371.90" cy="115.82" r="1.05"/><circle cx="458.90" cy="123.23" r="1.05"/><circle cx="459.90" cy="121.32" r="1.05"/><circle cx="460.90" cy="118.48" r="1.05"/><circle cx="461.90" cy="114.62" r="1.05"/><circle cx="462.90" cy="110.31" r="1.05"/><circle cx="464.90" cy="108.26" r="1.05"/><circle cx="465.90" cy="112.01" r="1.05"/><circle cx="466.90" cy="116.28" r="1.05"/><circle cx="467.90" cy="119.74" r="1.05"/><circle cx="468.90" cy="122.18" r="1.05"/></g>
</g>
<line x1="16.5" y1="129.20" x2="517.5" y2="129.20" stroke="#1a1a1a" stroke-width="1.5"/>
<line x1="32.20" y1="129.20" x2="32.20" y2="133.20" stroke="#222" stroke-width="1"/>
<line x1="48.96" y1="129.20" x2="48.96" y2="133.20" stroke="#222" stroke-width="1"/>
<line x1="65.72" y1="129.20" x2="65.72" y2="133.20" stroke="#222" stroke-width="1"/>
<line x1="82.48" y1="129.20" x2="82.48" y2="133.20" stroke="#222" stroke-width="1"/>
<line x1="99.24" y1="129.20" x2="99.24" y2="133.20" stroke="#222" stroke-width="1"/>
<line x1="116.00" y1="129.20" x2="116.00" y2="133.20" stroke="#222" stroke-width="1"/>
<line x1="132.76" y1="129.20" x2="132.76" y2="133.20" stroke="#222" stroke-width="1"/>
<line x1="149.52" y1="129.20" x2="149.52" y2="133.20" stroke="#222" stroke-width="1"/>
<line x1="166.28" y1="129.20" x2="166.28" y2="133.20" stroke="#222" stroke-width="1"/>
<line x1="183.04" y1="129.20" x2="183.04" y2="133.20" stroke="#222" stroke-width="1"/>
<line x1="199.80" y1="129.20" x2="199.80" y2="133.20" stroke="#222" stroke-width="1"/>
<line x1="216.56" y1="129.20" x2="216.56" y2="133.20" stroke="#222" stroke-width="1"/>
<line x1="233.32" y1="129.20" x2="233.32" y2="133.20" stroke="#222" stroke-width="1"/>
<line x1="250.08" y1="129.20" x2="250.08" y2="133.20" stroke="#222" stroke-width="1"/>
<line x1="266.84" y1="129.20" x2="266.84" y2="133.20" stroke="#222" stroke-width="1"/>
<line x1="283.60" y1="129.20" x2="283.60" y2="133.20" stroke="#222" stroke-width="1"/>
<line x1="300.36" y1="129.20" x2="300.36" y2="133.20" stroke="#222" stroke-width="1"/>
<line x1="317.12" y1="129.20" x2="317.12" y2="133.20" stroke="#222" stroke-width="1"/>
<line x1="333.88" y1="129.20" x2="333.88" y2="133.20" stroke="#222" stroke-width="1"/>
<line x1="350.64" y1="129.20" x2="350.64" y2="133.20" stroke="#222" stroke-width="1"/>
<line x1="367.40" y1="129.20" x2="367.40" y2="133.20" stroke="#222" stroke-width="1"/>
<line x1="384.16" y1="129.20" x2="384.16" y2="133.20" stroke="#222" stroke-width="1"/>
<line x1="400.92" y1="129.20" x2="400.92" y2="133.20" stroke="#222" stroke-width="1"/>
<line x1="417.68" y1="129.20" x2="417.68" y2="133.20" stroke="#222" stroke-width="1"/>
<line x1="434.44" y1="129.20" x2="434.44" y2="133.20" stroke="#222" stroke-width="1"/>
<line x1="451.20" y1="129.20" x2="451.20" y2="133.20" stroke="#222" stroke-width="1"/>
<line x1="467.96" y1="129.20" x2="467.96" y2="133.20" stroke="#222" stroke-width="1"/>
<line x1="484.72" y1="129.20" x2="484.72" y2="133.20" stroke="#222" stroke-width="1"/>
<line x1="501.48" y1="129.20" x2="501.48" y2="133.20" stroke="#222" stroke-width="1"/>
<g clip-path="url(#pb)">
<line x1="16.5" y1="214.50" x2="517.5" y2="214.50" stroke="#111" stroke-width="1.4"/>
<path d="M403.50,213.74 L404.00,213.73 L404.50,213.72 L405.00,213.70 L405.50,213.69 L406.00,213.68 L406.50,213.66 L407.00,213.65 L407.50,213.63 L408.00,213.62 L408.50,213.60 L409.00,213.59 L409.50,213.57 L410.00,213.55 L410.50,213.53 L411.00,213.51 L411.50,213.50 L412.00,213.48 L412.50,213.46 L413.00,213.44 L413.50,213.42 L414.00,213.39 L414.50,213.37 L415.00,213.35 L415.50,213.32 L416.00,213.30 L416.50,213.28 L417.00,213.25 L417.50,213.22 L418.00,213.19 L418.50,213.17 L419.00,213.14 L419.50,213.11 L420.00,213.07 L420.50,213.04 L421.00,213.01 L421.50,212.97 L422.00,212.94 L422.50,212.90 L423.00,212.86 L423.50,212.82 L424.00,212.78 L424.50,212.73 L425.00,212.69 L425.50,212.64 L426.00,212.59 L426.50,212.54 L427.00,212.49 L427.50,212.44 L428.00,212.38 L428.50,212.32 L429.00,212.26 L429.50,212.20 L430.00,212.13 L430.50,212.06 L431.00,211.99 L431.50,211.91 L432.00,211.83 L432.50,211.75 L433.00,211.66 L433.50,211.57 L434.00,211.47 L434.50,211.37 L435.00,211.26 L435.50,211.15 L436.00,211.04 L436.50,210.91 L437.00,210.78 L437.50,210.65 L438.00,210.50 L438.50,210.35 L439.00,210.19 L439.50,210.02 L440.00,209.84 L440.50,209.65 L441.00,209.45 L441.50,209.24 L442.00,209.01 L442.50,208.77 L443.00,208.51 L443.50,208.23 L444.00,207.94 L444.50,207.63 L445.00,207.29 L445.50,206.93 L446.00,206.54 L446.50,206.12 L447.00,205.68 L447.50,205.19 L448.00,204.67 L448.50,204.11 L449.00,203.50 L449.50,202.84 L450.00,202.12 L450.50,201.34 L451.00,200.49 L451.50,199.56 L452.00,198.55 L452.50,197.45 L453.00,196.24 L453.50,194.92 L454.00,193.47 L454.50,191.89 L455.00,190.16 L455.50,188.26 L456.00,186.19 L456.50,183.94 L457.00,181.50 L457.50,178.86 L458.00,176.04 L458.50,173.05 L458.55,172.75 L458.55,100.00 L468.05,100.00 L468.05,176.08 L468.50,179.03 L469.00,182.06 L469.50,184.83 L470.00,187.35 L470.50,189.63 L471.00,191.68 L471.50,193.53 L472.00,195.19 L472.50,196.69 L473.00,198.04 L473.50,199.26 L474.00,200.36 L474.50,201.35 L475.00,202.25 L475.50,203.07 L476.00,203.81 L476.50,204.49 L477.00,205.11 L477.50,205.67 L478.00,206.19 L478.50,206.67 L479.00,207.10 L479.50,207.51 L480.00,207.88 L480.50,208.22 L481.00,208.54 L481.50,208.84 L482.00,209.12 L482.50,209.37 L483.00,209.61 L483.50,209.83 L484.00,210.04 L484.50,210.24 L485.00,210.42 L485.50,210.59 L486.00,210.75 L486.50,210.90 L487.00,211.05 L487.50,211.18 L488.00,211.31 L488.50,211.43 L489.00,211.54 L489.50,211.65 L490.00,211.75 L490.50,211.85 L491.00,211.94 L491.50,212.03 L492.00,212.11 L492.50,212.19 L493.00,212.26 L493.50,212.33 L494.00,212.40 L494.50,212.47 L495.00,212.53 L495.50,212.59 L496.00,212.64 L496.50,212.70 L497.00,212.75 L497.50,212.80 L498.00,212.85 L498.50,212.89 L499.00,212.94 L499.50,212.98 L500.00,213.02 L500.50,213.06 L501.00,213.09 L501.50,213.13 L502.00,213.16 L502.50,213.20 L503.00,213.23 L503.50,213.26 L504.00,213.29 L504.50,213.32 L505.00,213.35 L505.50,213.37 L506.00,213.40 L506.50,213.42 L507.00,213.45 L507.50,213.47 L508.00,213.49 L508.50,213.52 L509.00,213.54 L509.50,213.56 L510.00,213.58 L510.50,213.60 L511.00,213.62 L511.50,213.63 L512.00,213.65 L512.50,213.67 L513.00,213.68 L513.50,213.70 L514.00,213.72 L514.50,213.73 L515.00,213.75 L515.50,213.76 L516.00,213.77 L516.50,213.79 L517.00,213.80 L517.50,213.81 L528.90,214.03 L528.90,100.00" fill="none" stroke="#707070" stroke-width="0.9"/>
<path d="M452.50,214.20 L453.00,214.19 L453.50,214.18 L454.00,214.17 L454.50,214.16 L455.00,214.15 L455.50,214.14 L456.00,214.13 L456.50,214.11 L457.00,214.10 L457.50,214.09 L458.00,214.07 L458.50,214.06 L459.00,214.04 L459.50,214.02 L460.00,214.00 L460.50,213.98 L461.00,213.96 L461.50,213.94 L462.00,213.92 L462.50,213.90 L463.00,213.87 L463.50,213.84 L464.00,213.81 L464.50,213.78 L465.00,213.75 L465.50,213.71 L466.00,213.67 L466.50,213.63 L467.00,213.58 L467.50,213.54 L468.00,213.48 L468.50,213.43 L469.00,213.37 L469.50,213.30 L470.00,213.23 L470.50,213.15 L471.00,213.06 L471.50,212.96 L472.00,212.86 L472.50,212.74 L473.00,212.61 L473.50,212.47 L474.00,212.31 L474.50,212.13 L475.00,211.93 L475.50,211.70 L476.00,211.44 L476.50,211.15 L477.00,210.82 L477.50,210.43 L478.00,209.99 L478.50,209.47 L479.00,208.87 L479.50,208.16 L480.00,207.33 L480.50,206.34 L481.00,205.17 L481.50,203.78 L482.00,202.13 L482.50,200.18 L483.00,197.91 L483.50,195.35 L484.00,192.58 L484.50,189.81 L485.00,187.35 L485.50,185.62 L486.00,185.00 L486.50,185.62 L487.00,187.35 L487.50,189.81 L488.00,192.58 L488.50,195.35 L489.00,197.91 L489.50,200.18 L490.00,202.13 L490.50,203.78 L491.00,205.17 L491.50,206.34 L492.00,207.33 L492.50,208.16 L493.00,208.87 L493.50,209.47 L494.00,209.99 L494.50,210.43 L495.00,210.82 L495.50,211.15 L496.00,211.44 L496.50,211.70 L497.00,211.93 L497.50,212.13 L498.00,212.31 L498.50,212.47 L499.00,212.61 L499.50,212.74 L500.00,212.86 L500.50,212.96 L501.00,213.06 L501.50,213.15 L502.00,213.23 L502.50,213.30 L503.00,213.37 L503.50,213.43 L504.00,213.48 L504.50,213.54 L505.00,213.58 L505.50,213.63 L506.00,213.67 L506.50,213.71 L507.00,213.75 L507.50,213.78 L508.00,213.81 L508.50,213.84 L509.00,213.87 L509.50,213.90 L510.00,213.92 L510.50,213.94 L511.00,213.96 L511.50,213.98 L512.00,214.00 L512.50,214.02 L513.00,214.04 L513.50,214.06 L514.00,214.07 L514.50,214.09 L515.00,214.10 L515.50,214.11 L516.00,214.13 L516.50,214.14 L517.00,214.15 L517.50,214.16" fill="none" stroke="#707070" stroke-width="0.85"/>
<path d="M470.50,214.39 L471.00,214.39 L471.50,214.39 L472.00,214.39 L472.50,214.38 L473.00,214.38 L473.50,214.38 L474.00,214.38 L474.50,214.37 L475.00,214.37 L475.50,214.37 L476.00,214.36 L476.50,214.36 L477.00,214.36 L477.50,214.35 L478.00,214.35 L478.50,214.35 L479.00,214.34 L479.50,214.34 L480.00,214.33 L480.50,214.33 L481.00,214.32 L481.50,214.32 L482.00,214.31 L482.50,214.31 L483.00,214.30 L483.50,214.30 L484.00,214.29 L484.50,214.28 L485.00,214.28 L485.50,214.27 L486.00,214.26 L486.50,214.25 L487.00,214.25 L487.50,214.24 L488.00,214.23 L488.50,214.22 L489.00,214.21 L489.50,214.20 L490.00,214.19 L490.50,214.18 L491.00,214.16 L491.50,214.15 L492.00,214.14 L492.50,214.12 L493.00,214.10 L493.50,214.09 L494.00,214.07 L494.50,214.05 L495.00,214.03 L495.50,214.01 L496.00,213.99 L496.50,213.96 L497.00,213.93 L497.50,213.90 L498.00,213.87 L498.50,213.84 L499.00,213.80 L499.50,213.76 L500.00,213.72 L500.50,213.67 L501.00,213.62 L501.50,213.56 L502.00,213.50 L502.50,213.43 L503.00,213.36 L503.50,213.27 L504.00,213.18 L504.50,213.07 L505.00,212.95 L505.50,212.82 L506.00,212.67 L506.50,212.50 L507.00,212.30 L507.50,212.08 L508.00,211.82 L508.50,211.51 L509.00,211.15 L509.50,210.72 L510.00,210.21 L510.50,209.59 L511.00,208.83 L511.50,207.88 L512.00,206.70 L512.50,205.20 L513.00,203.26 L513.50,200.74 L514.00,197.40 L514.50,192.99 L515.00,187.23 L515.50,180.07 L516.00,172.11 L516.50,165.29 L517.00,162.50 L517.50,165.29" fill="none" stroke="#707070" stroke-width="0.85"/>
<line x1="16.5" y1="271.30" x2="517.5" y2="271.30" stroke="#111" stroke-width="1.4"/>
<path d="M403.50,270.54 L404.00,270.53 L404.50,270.52 L405.00,270.50 L405.50,270.49 L406.00,270.48 L406.50,270.46 L407.00,270.45 L407.50,270.43 L408.00,270.42 L408.50,270.40 L409.00,270.39 L409.50,270.37 L410.00,270.35 L410.50,270.33 L411.00,270.31 L411.50,270.30 L412.00,270.28 L412.50,270.26 L413.00,270.24 L413.50,270.22 L414.00,270.19 L414.50,270.17 L415.00,270.15 L415.50,270.12 L416.00,270.10 L416.50,270.08 L417.00,270.05 L417.50,270.02 L418.00,269.99 L418.50,269.97 L419.00,269.94 L419.50,269.91 L420.00,269.87 L420.50,269.84 L421.00,269.81 L421.50,269.77 L422.00,269.74 L422.50,269.70 L423.00,269.66 L423.50,269.62 L424.00,269.58 L424.50,269.53 L425.00,269.49 L425.50,269.44 L426.00,269.39 L426.50,269.34 L427.00,269.29 L427.50,269.24 L428.00,269.18 L428.50,269.12 L429.00,269.06 L429.50,269.00 L430.00,268.93 L430.50,268.86 L431.00,268.79 L431.50,268.71 L432.00,268.63 L432.50,268.55 L433.00,268.46 L433.50,268.37 L434.00,268.27 L434.50,268.17 L435.00,268.06 L435.50,267.95 L436.00,267.84 L436.50,267.71 L437.00,267.58 L437.50,267.45 L438.00,267.30 L438.50,267.15 L439.00,266.99 L439.50,266.82 L440.00,266.64 L440.50,266.45 L441.00,266.25 L441.50,266.04 L442.00,265.81 L442.50,265.57 L443.00,265.31 L443.50,265.03 L444.00,264.74 L444.50,264.43 L445.00,264.09 L445.50,263.73 L446.00,263.34 L446.50,262.92 L447.00,262.48 L447.50,261.99 L448.00,261.47 L448.50,260.91 L449.00,260.30 L449.50,259.64 L450.00,258.92 L450.50,258.14 L451.00,257.29 L451.50,256.36 L452.00,255.35 L452.50,254.25 L453.00,253.04 L453.50,251.72 L454.00,250.27 L454.50,248.69 L455.00,246.96 L455.50,245.06 L456.00,242.99 L456.50,240.74 L457.00,238.30 L457.50,235.66 L458.00,232.84 L458.50,229.85 L458.55,229.55 L458.55,100.00 L468.05,100.00 L468.05,232.88 L468.50,235.83 L469.00,238.86 L469.50,241.63 L470.00,244.15 L470.50,246.43 L471.00,248.48 L471.50,250.33 L472.00,251.99 L472.50,253.49 L473.00,254.84 L473.50,256.06 L474.00,257.16 L474.50,258.15 L475.00,259.05 L475.50,259.87 L476.00,260.61 L476.50,261.29 L477.00,261.91 L477.50,262.47 L478.00,262.99 L478.50,263.47 L479.00,263.90 L479.50,264.31 L480.00,264.68 L480.50,265.02 L481.00,265.34 L481.50,265.64 L482.00,265.92 L482.50,266.17 L483.00,266.41 L483.50,266.63 L484.00,266.84 L484.50,267.04 L485.00,267.22 L485.50,267.39 L486.00,267.55 L486.50,267.70 L487.00,267.85 L487.50,267.98 L488.00,268.11 L488.50,268.23 L489.00,268.34 L489.50,268.45 L490.00,268.55 L490.50,268.65 L491.00,268.74 L491.50,268.83 L492.00,268.91 L492.50,268.99 L493.00,269.06 L493.50,269.13 L494.00,269.20 L494.50,269.27 L495.00,269.33 L495.50,269.39 L496.00,269.44 L496.50,269.50 L497.00,269.55 L497.50,269.60 L498.00,269.65 L498.50,269.69 L499.00,269.74 L499.50,269.78 L500.00,269.82 L500.50,269.86 L501.00,269.89 L501.50,269.93 L502.00,269.96 L502.50,270.00 L503.00,270.03 L503.50,270.06 L504.00,270.09 L504.50,270.12 L505.00,270.15 L505.50,270.17 L506.00,270.20 L506.50,270.22 L507.00,270.25 L507.50,270.27 L508.00,270.29 L508.50,270.32 L509.00,270.34 L509.50,270.36 L510.00,270.38 L510.50,270.40 L511.00,270.42 L511.50,270.43 L512.00,270.45 L512.50,270.47 L513.00,270.48 L513.50,270.50 L514.00,270.52 L514.50,270.53 L515.00,270.55 L515.50,270.56 L516.00,270.57 L516.50,270.59 L517.00,270.60 L517.50,270.61 L528.90,270.83 L528.90,100.00" fill="none" stroke="#707070" stroke-width="0.9"/>
<path d="M452.50,271.00 L453.00,270.99 L453.50,270.98 L454.00,270.97 L454.50,270.96 L455.00,270.95 L455.50,270.94 L456.00,270.93 L456.50,270.91 L457.00,270.90 L457.50,270.89 L458.00,270.87 L458.50,270.86 L459.00,270.84 L459.50,270.82 L460.00,270.80 L460.50,270.78 L461.00,270.76 L461.50,270.74 L462.00,270.72 L462.50,270.70 L463.00,270.67 L463.50,270.64 L464.00,270.61 L464.50,270.58 L465.00,270.55 L465.50,270.51 L466.00,270.47 L466.50,270.43 L467.00,270.38 L467.50,270.34 L468.00,270.28 L468.50,270.23 L469.00,270.17 L469.50,270.10 L470.00,270.03 L470.50,269.95 L471.00,269.86 L471.50,269.76 L472.00,269.66 L472.50,269.54 L473.00,269.41 L473.50,269.27 L474.00,269.11 L474.50,268.93 L475.00,268.73 L475.50,268.50 L476.00,268.24 L476.50,267.95 L477.00,267.62 L477.50,267.23 L478.00,266.79 L478.50,266.27 L479.00,265.67 L479.50,264.96 L480.00,264.13 L480.50,263.14 L481.00,261.97 L481.50,260.58 L482.00,258.93 L482.50,256.98 L483.00,254.71 L483.50,252.15 L484.00,249.38 L484.50,246.61 L485.00,244.15 L485.50,242.42 L486.00,241.80 L486.50,242.42 L487.00,244.15 L487.50,246.61 L488.00,249.38 L488.50,252.15 L489.00,254.71 L489.50,256.98 L490.00,258.93 L490.50,260.58 L491.00,261.97 L491.50,263.14 L492.00,264.13 L492.50,264.96 L493.00,265.67 L493.50,266.27 L494.00,266.79 L494.50,267.23 L495.00,267.62 L495.50,267.95 L496.00,268.24 L496.50,268.50 L497.00,268.73 L497.50,268.93 L498.00,269.11 L498.50,269.27 L499.00,269.41 L499.50,269.54 L500.00,269.66 L500.50,269.76 L501.00,269.86 L501.50,269.95 L502.00,270.03 L502.50,270.10 L503.00,270.17 L503.50,270.23 L504.00,270.28 L504.50,270.34 L505.00,270.38 L505.50,270.43 L506.00,270.47 L506.50,270.51 L507.00,270.55 L507.50,270.58 L508.00,270.61 L508.50,270.64 L509.00,270.67 L509.50,270.70 L510.00,270.72 L510.50,270.74 L511.00,270.76 L511.50,270.78 L512.00,270.80 L512.50,270.82 L513.00,270.84 L513.50,270.86 L514.00,270.87 L514.50,270.89 L515.00,270.90 L515.50,270.91 L516.00,270.93 L516.50,270.94 L517.00,270.95 L517.50,270.96" fill="none" stroke="#707070" stroke-width="0.85"/>
<path d="M470.50,271.19 L471.00,271.19 L471.50,271.19 L472.00,271.19 L472.50,271.18 L473.00,271.18 L473.50,271.18 L474.00,271.18 L474.50,271.17 L475.00,271.17 L475.50,271.17 L476.00,271.16 L476.50,271.16 L477.00,271.16 L477.50,271.15 L478.00,271.15 L478.50,271.15 L479.00,271.14 L479.50,271.14 L480.00,271.13 L480.50,271.13 L481.00,271.12 L481.50,271.12 L482.00,271.11 L482.50,271.11 L483.00,271.10 L483.50,271.10 L484.00,271.09 L484.50,271.08 L485.00,271.08 L485.50,271.07 L486.00,271.06 L486.50,271.05 L487.00,271.05 L487.50,271.04 L488.00,271.03 L488.50,271.02 L489.00,271.01 L489.50,271.00 L490.00,270.99 L490.50,270.98 L491.00,270.96 L491.50,270.95 L492.00,270.94 L492.50,270.92 L493.00,270.90 L493.50,270.89 L494.00,270.87 L494.50,270.85 L495.00,270.83 L495.50,270.81 L496.00,270.79 L496.50,270.76 L497.00,270.73 L497.50,270.70 L498.00,270.67 L498.50,270.64 L499.00,270.60 L499.50,270.56 L500.00,270.52 L500.50,270.47 L501.00,270.42 L501.50,270.36 L502.00,270.30 L502.50,270.23 L503.00,270.16 L503.50,270.07 L504.00,269.98 L504.50,269.87 L505.00,269.75 L505.50,269.62 L506.00,269.47 L506.50,269.30 L507.00,269.10 L507.50,268.88 L508.00,268.62 L508.50,268.31 L509.00,267.95 L509.50,267.52 L510.00,267.01 L510.50,266.39 L511.00,265.63 L511.50,264.68 L512.00,263.50 L512.50,262.00 L513.00,260.06 L513.50,257.54 L514.00,254.20 L514.50,249.79 L515.00,244.03 L515.50,236.87 L516.00,228.91 L516.50,222.09 L517.00,219.30 L517.50,222.09" fill="none" stroke="#707070" stroke-width="0.85"/>
<line x1="16.5" y1="328.60" x2="517.5" y2="328.60" stroke="#111" stroke-width="1.4"/>
<path d="M403.50,327.84 L404.00,327.83 L404.50,327.82 L405.00,327.80 L405.50,327.79 L406.00,327.78 L406.50,327.76 L407.00,327.75 L407.50,327.73 L408.00,327.72 L408.50,327.70 L409.00,327.69 L409.50,327.67 L410.00,327.65 L410.50,327.63 L411.00,327.61 L411.50,327.60 L412.00,327.58 L412.50,327.56 L413.00,327.54 L413.50,327.52 L414.00,327.49 L414.50,327.47 L415.00,327.45 L415.50,327.42 L416.00,327.40 L416.50,327.38 L417.00,327.35 L417.50,327.32 L418.00,327.29 L418.50,327.27 L419.00,327.24 L419.50,327.21 L420.00,327.17 L420.50,327.14 L421.00,327.11 L421.50,327.07 L422.00,327.04 L422.50,327.00 L423.00,326.96 L423.50,326.92 L424.00,326.88 L424.50,326.83 L425.00,326.79 L425.50,326.74 L426.00,326.69 L426.50,326.64 L427.00,326.59 L427.50,326.54 L428.00,326.48 L428.50,326.42 L429.00,326.36 L429.50,326.30 L430.00,326.23 L430.50,326.16 L431.00,326.09 L431.50,326.01 L432.00,325.93 L432.50,325.85 L433.00,325.76 L433.50,325.67 L434.00,325.57 L434.50,325.47 L435.00,325.36 L435.50,325.25 L436.00,325.14 L436.50,325.01 L437.00,324.88 L437.50,324.75 L438.00,324.60 L438.50,324.45 L439.00,324.29 L439.50,324.12 L440.00,323.94 L440.50,323.75 L441.00,323.55 L441.50,323.34 L442.00,323.11 L442.50,322.87 L443.00,322.61 L443.50,322.33 L444.00,322.04 L444.50,321.73 L445.00,321.39 L445.50,321.03 L446.00,320.64 L446.50,320.22 L447.00,319.78 L447.50,319.29 L448.00,318.77 L448.50,318.21 L449.00,317.60 L449.50,316.94 L450.00,316.22 L450.50,315.44 L451.00,314.59 L451.50,313.66 L452.00,312.65 L452.50,311.55 L453.00,310.34 L453.50,309.02 L454.00,307.57 L454.50,305.99 L455.00,304.26 L455.50,302.36 L456.00,300.29 L456.50,298.04 L457.00,295.60 L457.50,292.96 L458.00,290.14 L458.50,287.15 L458.55,286.85 L458.55,100.00 L468.05,100.00 L468.05,290.18 L468.50,293.13 L469.00,296.16 L469.50,298.93 L470.00,301.45 L470.50,303.73 L471.00,305.78 L471.50,307.63 L472.00,309.29 L472.50,310.79 L473.00,312.14 L473.50,313.36 L474.00,314.46 L474.50,315.45 L475.00,316.35 L475.50,317.17 L476.00,317.91 L476.50,318.59 L477.00,319.21 L477.50,319.77 L478.00,320.29 L478.50,320.77 L479.00,321.20 L479.50,321.61 L480.00,321.98 L480.50,322.32 L481.00,322.64 L481.50,322.94 L482.00,323.22 L482.50,323.47 L483.00,323.71 L483.50,323.93 L484.00,324.14 L484.50,324.34 L485.00,324.52 L485.50,324.69 L486.00,324.85 L486.50,325.00 L487.00,325.15 L487.50,325.28 L488.00,325.41 L488.50,325.53 L489.00,325.64 L489.50,325.75 L490.00,325.85 L490.50,325.95 L491.00,326.04 L491.50,326.13 L492.00,326.21 L492.50,326.29 L493.00,326.36 L493.50,326.43 L494.00,326.50 L494.50,326.57 L495.00,326.63 L495.50,326.69 L496.00,326.74 L496.50,326.80 L497.00,326.85 L497.50,326.90 L498.00,326.95 L498.50,326.99 L499.00,327.04 L499.50,327.08 L500.00,327.12 L500.50,327.16 L501.00,327.19 L501.50,327.23 L502.00,327.26 L502.50,327.30 L503.00,327.33 L503.50,327.36 L504.00,327.39 L504.50,327.42 L505.00,327.45 L505.50,327.47 L506.00,327.50 L506.50,327.52 L507.00,327.55 L507.50,327.57 L508.00,327.59 L508.50,327.62 L509.00,327.64 L509.50,327.66 L510.00,327.68 L510.50,327.70 L511.00,327.72 L511.50,327.73 L512.00,327.75 L512.50,327.77 L513.00,327.78 L513.50,327.80 L514.00,327.82 L514.50,327.83 L515.00,327.85 L515.50,327.86 L516.00,327.87 L516.50,327.89 L517.00,327.90 L517.50,327.91 L528.90,328.13 L528.90,100.00" fill="none" stroke="#707070" stroke-width="0.9"/>
<path d="M452.50,328.30 L453.00,328.29 L453.50,328.28 L454.00,328.27 L454.50,328.26 L455.00,328.25 L455.50,328.24 L456.00,328.23 L456.50,328.21 L457.00,328.20 L457.50,328.19 L458.00,328.17 L458.50,328.16 L459.00,328.14 L459.50,328.12 L460.00,328.10 L460.50,328.08 L461.00,328.06 L461.50,328.04 L462.00,328.02 L462.50,328.00 L463.00,327.97 L463.50,327.94 L464.00,327.91 L464.50,327.88 L465.00,327.85 L465.50,327.81 L466.00,327.77 L466.50,327.73 L467.00,327.68 L467.50,327.64 L468.00,327.58 L468.50,327.53 L469.00,327.47 L469.50,327.40 L470.00,327.33 L470.50,327.25 L471.00,327.16 L471.50,327.06 L472.00,326.96 L472.50,326.84 L473.00,326.71 L473.50,326.57 L474.00,326.41 L474.50,326.23 L475.00,326.03 L475.50,325.80 L476.00,325.54 L476.50,325.25 L477.00,324.92 L477.50,324.53 L478.00,324.09 L478.50,323.57 L479.00,322.97 L479.50,322.26 L480.00,321.43 L480.50,320.44 L481.00,319.27 L481.50,317.88 L482.00,316.23 L482.50,314.28 L483.00,312.01 L483.50,309.45 L484.00,306.68 L484.50,303.91 L485.00,301.45 L485.50,299.72 L486.00,299.10 L486.50,299.72 L487.00,301.45 L487.50,303.91 L488.00,306.68 L488.50,309.45 L489.00,312.01 L489.50,314.28 L490.00,316.23 L490.50,317.88 L491.00,319.27 L491.50,320.44 L492.00,321.43 L492.50,322.26 L493.00,322.97 L493.50,323.57 L494.00,324.09 L494.50,324.53 L495.00,324.92 L495.50,325.25 L496.00,325.54 L496.50,325.80 L497.00,326.03 L497.50,326.23 L498.00,326.41 L498.50,326.57 L499.00,326.71 L499.50,326.84 L500.00,326.96 L500.50,327.06 L501.00,327.16 L501.50,327.25 L502.00,327.33 L502.50,327.40 L503.00,327.47 L503.50,327.53 L504.00,327.58 L504.50,327.64 L505.00,327.68 L505.50,327.73 L506.00,327.77 L506.50,327.81 L507.00,327.85 L507.50,327.88 L508.00,327.91 L508.50,327.94 L509.00,327.97 L509.50,328.00 L510.00,328.02 L510.50,328.04 L511.00,328.06 L511.50,328.08 L512.00,328.10 L512.50,328.12 L513.00,328.14 L513.50,328.16 L514.00,328.17 L514.50,328.19 L515.00,328.20 L515.50,328.21 L516.00,328.23 L516.50,328.24 L517.00,328.25 L517.50,328.26" fill="none" stroke="#707070" stroke-width="0.85"/>
<path d="M470.50,328.49 L471.00,328.49 L471.50,328.49 L472.00,328.49 L472.50,328.48 L473.00,328.48 L473.50,328.48 L474.00,328.48 L474.50,328.47 L475.00,328.47 L475.50,328.47 L476.00,328.46 L476.50,328.46 L477.00,328.46 L477.50,328.45 L478.00,328.45 L478.50,328.45 L479.00,328.44 L479.50,328.44 L480.00,328.43 L480.50,328.43 L481.00,328.42 L481.50,328.42 L482.00,328.41 L482.50,328.41 L483.00,328.40 L483.50,328.40 L484.00,328.39 L484.50,328.38 L485.00,328.38 L485.50,328.37 L486.00,328.36 L486.50,328.35 L487.00,328.35 L487.50,328.34 L488.00,328.33 L488.50,328.32 L489.00,328.31 L489.50,328.30 L490.00,328.29 L490.50,328.28 L491.00,328.26 L491.50,328.25 L492.00,328.24 L492.50,328.22 L493.00,328.20 L493.50,328.19 L494.00,328.17 L494.50,328.15 L495.00,328.13 L495.50,328.11 L496.00,328.09 L496.50,328.06 L497.00,328.03 L497.50,328.00 L498.00,327.97 L498.50,327.94 L499.00,327.90 L499.50,327.86 L500.00,327.82 L500.50,327.77 L501.00,327.72 L501.50,327.66 L502.00,327.60 L502.50,327.53 L503.00,327.46 L503.50,327.37 L504.00,327.28 L504.50,327.17 L505.00,327.05 L505.50,326.92 L506.00,326.77 L506.50,326.60 L507.00,326.40 L507.50,326.18 L508.00,325.92 L508.50,325.61 L509.00,325.25 L509.50,324.82 L510.00,324.31 L510.50,323.69 L511.00,322.93 L511.50,321.98 L512.00,320.80 L512.50,319.30 L513.00,317.36 L513.50,314.84 L514.00,311.50 L514.50,307.09 L515.00,301.33 L515.50,294.17 L516.00,286.21 L516.50,279.39 L517.00,276.60 L517.50,279.39" fill="none" stroke="#707070" stroke-width="0.85"/>
<line x1="16.5" y1="385.60" x2="517.5" y2="385.60" stroke="#111" stroke-width="1.4"/>
<path d="M403.50,384.84 L404.00,384.83 L404.50,384.82 L405.00,384.80 L405.50,384.79 L406.00,384.78 L406.50,384.76 L407.00,384.75 L407.50,384.73 L408.00,384.72 L408.50,384.70 L409.00,384.69 L409.50,384.67 L410.00,384.65 L410.50,384.63 L411.00,384.61 L411.50,384.60 L412.00,384.58 L412.50,384.56 L413.00,384.54 L413.50,384.52 L414.00,384.49 L414.50,384.47 L415.00,384.45 L415.50,384.42 L416.00,384.40 L416.50,384.38 L417.00,384.35 L417.50,384.32 L418.00,384.29 L418.50,384.27 L419.00,384.24 L419.50,384.21 L420.00,384.17 L420.50,384.14 L421.00,384.11 L421.50,384.07 L422.00,384.04 L422.50,384.00 L423.00,383.96 L423.50,383.92 L424.00,383.88 L424.50,383.83 L425.00,383.79 L425.50,383.74 L426.00,383.69 L426.50,383.64 L427.00,383.59 L427.50,383.54 L428.00,383.48 L428.50,383.42 L429.00,383.36 L429.50,383.30 L430.00,383.23 L430.50,383.16 L431.00,383.09 L431.50,383.01 L432.00,382.93 L432.50,382.85 L433.00,382.76 L433.50,382.67 L434.00,382.57 L434.50,382.47 L435.00,382.36 L435.50,382.25 L436.00,382.14 L436.50,382.01 L437.00,381.88 L437.50,381.75 L438.00,381.60 L438.50,381.45 L439.00,381.29 L439.50,381.12 L440.00,380.94 L440.50,380.75 L441.00,380.55 L441.50,380.34 L442.00,380.11 L442.50,379.87 L443.00,379.61 L443.50,379.33 L444.00,379.04 L444.50,378.73 L445.00,378.39 L445.50,378.03 L446.00,377.64 L446.50,377.22 L447.00,376.78 L447.50,376.29 L448.00,375.77 L448.50,375.21 L449.00,374.60 L449.50,373.94 L450.00,373.22 L450.50,372.44 L451.00,371.59 L451.50,370.66 L452.00,369.65 L452.50,368.55 L453.00,367.34 L453.50,366.02 L454.00,364.57 L454.50,362.99 L455.00,361.26 L455.50,359.36 L456.00,357.29 L456.50,355.04 L457.00,352.60 L457.50,349.96 L458.00,347.14 L458.50,344.15 L458.55,343.85 L458.55,100.00 L468.05,100.00 L468.05,347.18 L468.50,350.13 L469.00,353.16 L469.50,355.93 L470.00,358.45 L470.50,360.73 L471.00,362.78 L471.50,364.63 L472.00,366.29 L472.50,367.79 L473.00,369.14 L473.50,370.36 L474.00,371.46 L474.50,372.45 L475.00,373.35 L475.50,374.17 L476.00,374.91 L476.50,375.59 L477.00,376.21 L477.50,376.77 L478.00,377.29 L478.50,377.77 L479.00,378.20 L479.50,378.61 L480.00,378.98 L480.50,379.32 L481.00,379.64 L481.50,379.94 L482.00,380.22 L482.50,380.47 L483.00,380.71 L483.50,380.93 L484.00,381.14 L484.50,381.34 L485.00,381.52 L485.50,381.69 L486.00,381.85 L486.50,382.00 L487.00,382.15 L487.50,382.28 L488.00,382.41 L488.50,382.53 L489.00,382.64 L489.50,382.75 L490.00,382.85 L490.50,382.95 L491.00,383.04 L491.50,383.13 L492.00,383.21 L492.50,383.29 L493.00,383.36 L493.50,383.43 L494.00,383.50 L494.50,383.57 L495.00,383.63 L495.50,383.69 L496.00,383.74 L496.50,383.80 L497.00,383.85 L497.50,383.90 L498.00,383.95 L498.50,383.99 L499.00,384.04 L499.50,384.08 L500.00,384.12 L500.50,384.16 L501.00,384.19 L501.50,384.23 L502.00,384.26 L502.50,384.30 L503.00,384.33 L503.50,384.36 L504.00,384.39 L504.50,384.42 L505.00,384.45 L505.50,384.47 L506.00,384.50 L506.50,384.52 L507.00,384.55 L507.50,384.57 L508.00,384.59 L508.50,384.62 L509.00,384.64 L509.50,384.66 L510.00,384.68 L510.50,384.70 L511.00,384.72 L511.50,384.73 L512.00,384.75 L512.50,384.77 L513.00,384.78 L513.50,384.80 L514.00,384.82 L514.50,384.83 L515.00,384.85 L515.50,384.86 L516.00,384.87 L516.50,384.89 L517.00,384.90 L517.50,384.91 L528.90,385.13 L528.90,100.00" fill="none" stroke="#707070" stroke-width="0.9"/>
<path d="M452.50,385.30 L453.00,385.29 L453.50,385.28 L454.00,385.27 L454.50,385.26 L455.00,385.25 L455.50,385.24 L456.00,385.23 L456.50,385.21 L457.00,385.20 L457.50,385.19 L458.00,385.17 L458.50,385.16 L459.00,385.14 L459.50,385.12 L460.00,385.10 L460.50,385.08 L461.00,385.06 L461.50,385.04 L462.00,385.02 L462.50,385.00 L463.00,384.97 L463.50,384.94 L464.00,384.91 L464.50,384.88 L465.00,384.85 L465.50,384.81 L466.00,384.77 L466.50,384.73 L467.00,384.68 L467.50,384.64 L468.00,384.58 L468.50,384.53 L469.00,384.47 L469.50,384.40 L470.00,384.33 L470.50,384.25 L471.00,384.16 L471.50,384.06 L472.00,383.96 L472.50,383.84 L473.00,383.71 L473.50,383.57 L474.00,383.41 L474.50,383.23 L475.00,383.03 L475.50,382.80 L476.00,382.54 L476.50,382.25 L477.00,381.92 L477.50,381.53 L478.00,381.09 L478.50,380.57 L479.00,379.97 L479.50,379.26 L480.00,378.43 L480.50,377.44 L481.00,376.27 L481.50,374.88 L482.00,373.23 L482.50,371.28 L483.00,369.01 L483.50,366.45 L484.00,363.68 L484.50,360.91 L485.00,358.45 L485.50,356.72 L486.00,356.10 L486.50,356.72 L487.00,358.45 L487.50,360.91 L488.00,363.68 L488.50,366.45 L489.00,369.01 L489.50,371.28 L490.00,373.23 L490.50,374.88 L491.00,376.27 L491.50,377.44 L492.00,378.43 L492.50,379.26 L493.00,379.97 L493.50,380.57 L494.00,381.09 L494.50,381.53 L495.00,381.92 L495.50,382.25 L496.00,382.54 L496.50,382.80 L497.00,383.03 L497.50,383.23 L498.00,383.41 L498.50,383.57 L499.00,383.71 L499.50,383.84 L500.00,383.96 L500.50,384.06 L501.00,384.16 L501.50,384.25 L502.00,384.33 L502.50,384.40 L503.00,384.47 L503.50,384.53 L504.00,384.58 L504.50,384.64 L505.00,384.68 L505.50,384.73 L506.00,384.77 L506.50,384.81 L507.00,384.85 L507.50,384.88 L508.00,384.91 L508.50,384.94 L509.00,384.97 L509.50,385.00 L510.00,385.02 L510.50,385.04 L511.00,385.06 L511.50,385.08 L512.00,385.10 L512.50,385.12 L513.00,385.14 L513.50,385.16 L514.00,385.17 L514.50,385.19 L515.00,385.20 L515.50,385.21 L516.00,385.23 L516.50,385.24 L517.00,385.25 L517.50,385.26" fill="none" stroke="#707070" stroke-width="0.85"/>
<path d="M470.50,385.49 L471.00,385.49 L471.50,385.49 L472.00,385.49 L472.50,385.48 L473.00,385.48 L473.50,385.48 L474.00,385.48 L474.50,385.47 L475.00,385.47 L475.50,385.47 L476.00,385.46 L476.50,385.46 L477.00,385.46 L477.50,385.45 L478.00,385.45 L478.50,385.45 L479.00,385.44 L479.50,385.44 L480.00,385.43 L480.50,385.43 L481.00,385.42 L481.50,385.42 L482.00,385.41 L482.50,385.41 L483.00,385.40 L483.50,385.40 L484.00,385.39 L484.50,385.38 L485.00,385.38 L485.50,385.37 L486.00,385.36 L486.50,385.35 L487.00,385.35 L487.50,385.34 L488.00,385.33 L488.50,385.32 L489.00,385.31 L489.50,385.30 L490.00,385.29 L490.50,385.28 L491.00,385.26 L491.50,385.25 L492.00,385.24 L492.50,385.22 L493.00,385.20 L493.50,385.19 L494.00,385.17 L494.50,385.15 L495.00,385.13 L495.50,385.11 L496.00,385.09 L496.50,385.06 L497.00,385.03 L497.50,385.00 L498.00,384.97 L498.50,384.94 L499.00,384.90 L499.50,384.86 L500.00,384.82 L500.50,384.77 L501.00,384.72 L501.50,384.66 L502.00,384.60 L502.50,384.53 L503.00,384.46 L503.50,384.37 L504.00,384.28 L504.50,384.17 L505.00,384.05 L505.50,383.92 L506.00,383.77 L506.50,383.60 L507.00,383.40 L507.50,383.18 L508.00,382.92 L508.50,382.61 L509.00,382.25 L509.50,381.82 L510.00,381.31 L510.50,380.69 L511.00,379.93 L511.50,378.98 L512.00,377.80 L512.50,376.30 L513.00,374.36 L513.50,371.84 L514.00,368.50 L514.50,364.09 L515.00,358.33 L515.50,351.17 L516.00,343.21 L516.50,336.39 L517.00,333.60 L517.50,336.39" fill="none" stroke="#707070" stroke-width="0.85"/>
<g fill="#929230"><circle cx="17.05" cy="213.43" r="1.3"/><circle cx="18.31" cy="212.94" r="1.3"/><circle cx="19.41" cy="211.94" r="1.3"/><circle cx="20.34" cy="213.88" r="1.3"/><circle cx="21.52" cy="213.25" r="1.3"/><circle cx="22.90" cy="214.12" r="1.3"/><circle cx="23.70" cy="214.43" r="1.3"/><circle cx="25.18" cy="212.94" r="1.3"/><circle cx="26.32" cy="211.82" r="1.3"/><circle cx="27.34" cy="214.72" r="1.3"/><circle cx="28.42" cy="212.88" r="1.3"/><circle cx="29.56" cy="213.66" r="1.3"/><circle cx="30.70" cy="214.05" r="1.3"/><circle cx="31.93" cy="211.86" r="1.3"/><circle cx="33.10" cy="213.50" r="1.3"/><circle cx="34.27" cy="211.08" r="1.3"/><circle cx="35.60" cy="213.82" r="1.3"/><circle cx="36.67" cy="212.42" r="1.3"/><circle cx="37.75" cy="213.15" r="1.3"/><circle cx="39.05" cy="213.79" r="1.3"/><circle cx="39.89" cy="212.18" r="1.3"/><circle cx="41.01" cy="213.07" r="1.3"/><circle cx="42.35" cy="212.16" r="1.3"/><circle cx="43.27" cy="212.94" r="1.3"/><circle cx="44.41" cy="214.18" r="1.3"/><circle cx="45.76" cy="213.00" r="1.3"/><circle cx="46.89" cy="212.82" r="1.3"/><circle cx="48.22" cy="211.73" r="1.3"/><circle cx="49.25" cy="213.97" r="1.3"/><circle cx="50.36" cy="212.93" r="1.3"/><circle cx="51.50" cy="214.95" r="1.3"/><circle cx="52.55" cy="210.13" r="1.3"/><circle cx="53.60" cy="214.18" r="1.3"/><circle cx="54.83" cy="215.05" r="1.3"/><circle cx="56.18" cy="212.95" r="1.3"/><circle cx="57.13" cy="211.55" r="1.3"/><circle cx="58.35" cy="214.71" r="1.3"/><circle cx="59.35" cy="214.19" r="1.3"/><circle cx="60.83" cy="213.77" r="1.3"/><circle cx="61.71" cy="214.23" r="1.3"/><circle cx="62.91" cy="212.42" r="1.3"/><circle cx="64.30" cy="213.85" r="1.3"/><circle cx="65.30" cy="213.74" r="1.3"/><circle cx="66.59" cy="212.18" r="1.3"/><circle cx="67.66" cy="213.79" r="1.3"/><circle cx="68.85" cy="212.36" r="1.3"/><circle cx="69.74" cy="214.04" r="1.3"/><circle cx="71.07" cy="214.33" r="1.3"/><circle cx="72.20" cy="212.29" r="1.3"/><circle cx="73.50" cy="210.64" r="1.3"/><circle cx="74.44" cy="213.26" r="1.3"/><circle cx="75.69" cy="212.58" r="1.3"/><circle cx="76.62" cy="212.91" r="1.3"/><circle cx="77.91" cy="212.69" r="1.3"/><circle cx="79.03" cy="212.82" r="1.3"/><circle cx="80.11" cy="210.59" r="1.3"/><circle cx="81.53" cy="214.12" r="1.3"/><circle cx="82.50" cy="214.75" r="1.3"/><circle cx="83.89" cy="214.09" r="1.3"/><circle cx="84.89" cy="214.48" r="1.3"/><circle cx="86.04" cy="211.98" r="1.3"/><circle cx="87.21" cy="211.89" r="1.3"/><circle cx="88.37" cy="214.03" r="1.3"/><circle cx="89.31" cy="214.55" r="1.3"/><circle cx="90.58" cy="213.30" r="1.3"/><circle cx="91.65" cy="211.21" r="1.3"/><circle cx="92.86" cy="216.26" r="1.3"/><circle cx="93.89" cy="212.24" r="1.3"/><circle cx="95.39" cy="214.17" r="1.3"/><circle cx="96.24" cy="211.63" r="1.3"/><circle cx="97.57" cy="214.17" r="1.3"/><circle cx="98.57" cy="213.22" r="1.3"/><circle cx="99.95" cy="214.68" r="1.3"/><circle cx="101.01" cy="214.05" r="1.3"/><circle cx="101.95" cy="211.21" r="1.3"/><circle cx="103.39" cy="211.89" r="1.3"/><circle cx="104.58" cy="213.36" r="1.3"/><circle cx="105.71" cy="213.92" r="1.3"/><circle cx="106.73" cy="214.42" r="1.3"/><circle cx="107.71" cy="213.35" r="1.3"/><circle cx="108.88" cy="212.91" r="1.3"/><circle cx="110.32" cy="212.97" r="1.3"/><circle cx="111.32" cy="212.99" r="1.3"/><circle cx="112.32" cy="214.22" r="1.3"/><circle cx="113.75" cy="212.95" r="1.3"/><circle cx="114.81" cy="212.92" r="1.3"/><circle cx="115.93" cy="211.32" r="1.3"/><circle cx="117.00" cy="210.63" r="1.3"/><circle cx="118.16" cy="213.04" r="1.3"/><circle cx="119.25" cy="215.11" r="1.3"/><circle cx="120.32" cy="212.95" r="1.3"/><circle cx="121.80" cy="213.60" r="1.3"/><circle cx="122.79" cy="213.76" r="1.3"/><circle cx="123.97" cy="212.94" r="1.3"/><circle cx="125.03" cy="214.12" r="1.3"/><circle cx="126.35" cy="212.14" r="1.3"/><circle cx="127.21" cy="212.99" r="1.3"/><circle cx="128.50" cy="212.57" r="1.3"/><circle cx="129.51" cy="213.09" r="1.3"/><circle cx="130.70" cy="213.74" r="1.3"/><circle cx="132.19" cy="214.01" r="1.3"/><circle cx="133.21" cy="213.15" r="1.3"/><circle cx="134.27" cy="213.53" r="1.3"/><circle cx="135.46" cy="212.59" r="1.3"/><circle cx="136.75" cy="212.87" r="1.3"/><circle cx="137.69" cy="214.50" r="1.3"/><circle cx="138.94" cy="212.79" r="1.3"/><circle cx="140.12" cy="214.48" r="1.3"/><circle cx="141.14" cy="213.61" r="1.3"/><circle cx="142.36" cy="213.22" r="1.3"/><circle cx="143.61" cy="215.36" r="1.3"/><circle cx="144.81" cy="212.76" r="1.3"/><circle cx="145.66" cy="212.69" r="1.3"/><circle cx="147.12" cy="213.06" r="1.3"/><circle cx="147.90" cy="213.38" r="1.3"/><circle cx="149.35" cy="213.31" r="1.3"/><circle cx="150.52" cy="214.04" r="1.3"/><circle cx="151.40" cy="213.19" r="1.3"/><circle cx="152.67" cy="213.53" r="1.3"/><circle cx="153.98" cy="212.75" r="1.3"/><circle cx="154.81" cy="214.31" r="1.3"/><circle cx="156.20" cy="212.58" r="1.3"/><circle cx="157.42" cy="212.69" r="1.3"/><circle cx="158.46" cy="213.03" r="1.3"/><circle cx="159.69" cy="213.39" r="1.3"/><circle cx="160.64" cy="212.20" r="1.3"/><circle cx="161.78" cy="214.86" r="1.3"/><circle cx="163.00" cy="212.31" r="1.3"/><circle cx="164.07" cy="212.57" r="1.3"/><circle cx="165.29" cy="212.52" r="1.3"/><circle cx="166.68" cy="212.40" r="1.3"/><circle cx="167.68" cy="213.65" r="1.3"/><circle cx="168.74" cy="213.17" r="1.3"/><circle cx="169.86" cy="212.10" r="1.3"/><circle cx="171.28" cy="212.34" r="1.3"/><circle cx="172.23" cy="212.61" r="1.3"/><circle cx="173.59" cy="214.68" r="1.3"/><circle cx="174.56" cy="213.40" r="1.3"/><circle cx="175.71" cy="211.46" r="1.3"/><circle cx="177.01" cy="211.65" r="1.3"/><circle cx="178.10" cy="212.58" r="1.3"/><circle cx="179.18" cy="214.73" r="1.3"/><circle cx="180.27" cy="211.73" r="1.3"/><circle cx="181.60" cy="213.03" r="1.3"/><circle cx="182.56" cy="215.90" r="1.3"/><circle cx="183.92" cy="212.40" r="1.3"/><circle cx="184.73" cy="214.65" r="1.3"/><circle cx="186.02" cy="214.41" r="1.3"/><circle cx="187.21" cy="213.62" r="1.3"/><circle cx="188.53" cy="211.33" r="1.3"/><circle cx="189.40" cy="213.30" r="1.3"/><circle cx="190.77" cy="212.53" r="1.3"/><circle cx="191.87" cy="210.76" r="1.3"/><circle cx="193.04" cy="210.94" r="1.3"/><circle cx="194.15" cy="212.98" r="1.3"/><circle cx="195.44" cy="213.14" r="1.3"/><circle cx="196.33" cy="214.37" r="1.3"/><circle cx="197.51" cy="213.69" r="1.3"/><circle cx="198.58" cy="212.34" r="1.3"/><circle cx="199.67" cy="212.38" r="1.3"/><circle cx="200.89" cy="212.72" r="1.3"/><circle cx="202.32" cy="211.66" r="1.3"/><circle cx="203.44" cy="213.78" r="1.3"/><circle cx="204.29" cy="212.92" r="1.3"/><circle cx="205.64" cy="210.85" r="1.3"/><circle cx="206.74" cy="212.15" r="1.3"/><circle cx="207.94" cy="211.56" r="1.3"/><circle cx="209.11" cy="212.37" r="1.3"/><circle cx="210.12" cy="213.22" r="1.3"/><circle cx="211.53" cy="212.41" r="1.3"/><circle cx="212.49" cy="214.05" r="1.3"/><circle cx="213.70" cy="214.82" r="1.3"/><circle cx="214.85" cy="212.15" r="1.3"/><circle cx="215.82" cy="212.91" r="1.3"/><circle cx="216.92" cy="212.47" r="1.3"/><circle cx="218.21" cy="214.88" r="1.3"/><circle cx="219.51" cy="213.28" r="1.3"/><circle cx="220.68" cy="213.56" r="1.3"/><circle cx="221.79" cy="213.88" r="1.3"/><circle cx="222.70" cy="215.55" r="1.3"/><circle cx="224.17" cy="213.24" r="1.3"/><circle cx="225.27" cy="211.76" r="1.3"/><circle cx="226.45" cy="212.38" r="1.3"/><circle cx="227.46" cy="213.56" r="1.3"/><circle cx="228.77" cy="212.86" r="1.3"/><circle cx="229.57" cy="211.93" r="1.3"/><circle cx="230.71" cy="216.15" r="1.3"/><circle cx="231.86" cy="212.99" r="1.3"/><circle cx="233.10" cy="212.18" r="1.3"/><circle cx="234.25" cy="212.02" r="1.3"/><circle cx="235.38" cy="210.79" r="1.3"/><circle cx="236.68" cy="211.47" r="1.3"/><circle cx="237.62" cy="212.46" r="1.3"/><circle cx="238.99" cy="212.47" r="1.3"/><circle cx="239.97" cy="211.89" r="1.3"/><circle cx="241.32" cy="213.48" r="1.3"/><circle cx="242.21" cy="212.88" r="1.3"/><circle cx="243.47" cy="211.74" r="1.3"/><circle cx="244.88" cy="210.48" r="1.3"/><circle cx="245.87" cy="213.02" r="1.3"/><circle cx="247.12" cy="212.89" r="1.3"/><circle cx="248.21" cy="212.59" r="1.3"/><circle cx="249.34" cy="211.21" r="1.3"/><circle cx="250.33" cy="212.86" r="1.3"/><circle cx="251.63" cy="211.06" r="1.3"/><circle cx="252.57" cy="213.99" r="1.3"/><circle cx="254.02" cy="213.05" r="1.3"/><circle cx="255.23" cy="213.06" r="1.3"/><circle cx="256.34" cy="211.88" r="1.3"/><circle cx="257.17" cy="211.57" r="1.3"/><circle cx="258.44" cy="214.63" r="1.3"/><circle cx="259.58" cy="213.92" r="1.3"/><circle cx="260.65" cy="212.41" r="1.3"/><circle cx="262.00" cy="213.61" r="1.3"/><circle cx="263.22" cy="214.65" r="1.3"/><circle cx="264.18" cy="211.57" r="1.3"/><circle cx="265.55" cy="212.22" r="1.3"/><circle cx="266.67" cy="212.22" r="1.3"/><circle cx="267.55" cy="213.38" r="1.3"/><circle cx="268.96" cy="211.58" r="1.3"/><circle cx="270.15" cy="213.10" r="1.3"/><circle cx="271.03" cy="210.21" r="1.3"/><circle cx="272.33" cy="213.90" r="1.3"/><circle cx="273.51" cy="213.83" r="1.3"/><circle cx="274.64" cy="212.56" r="1.3"/><circle cx="275.59" cy="213.65" r="1.3"/><circle cx="276.96" cy="211.99" r="1.3"/><circle cx="278.10" cy="212.49" r="1.3"/><circle cx="279.33" cy="213.91" r="1.3"/><circle cx="280.47" cy="212.71" r="1.3"/><circle cx="281.43" cy="213.22" r="1.3"/><circle cx="282.74" cy="211.70" r="1.3"/><circle cx="283.95" cy="213.56" r="1.3"/><circle cx="285.11" cy="213.32" r="1.3"/><circle cx="285.96" cy="211.34" r="1.3"/><circle cx="287.06" cy="210.10" r="1.3"/><circle cx="288.46" cy="210.39" r="1.3"/><circle cx="289.44" cy="212.71" r="1.3"/><circle cx="290.73" cy="212.53" r="1.3"/><circle cx="292.03" cy="210.94" r="1.3"/><circle cx="292.95" cy="212.93" r="1.3"/><circle cx="294.05" cy="213.96" r="1.3"/><circle cx="295.28" cy="212.64" r="1.3"/><circle cx="296.51" cy="212.24" r="1.3"/><circle cx="297.44" cy="213.78" r="1.3"/><circle cx="298.70" cy="214.76" r="1.3"/><circle cx="299.75" cy="214.50" r="1.3"/><circle cx="301.11" cy="211.97" r="1.3"/><circle cx="302.33" cy="213.68" r="1.3"/><circle cx="303.30" cy="212.94" r="1.3"/><circle cx="304.45" cy="212.51" r="1.3"/><circle cx="305.67" cy="212.02" r="1.3"/><circle cx="306.69" cy="213.17" r="1.3"/><circle cx="307.85" cy="212.16" r="1.3"/><circle cx="309.03" cy="213.83" r="1.3"/><circle cx="310.23" cy="213.19" r="1.3"/><circle cx="311.23" cy="213.99" r="1.3"/><circle cx="312.65" cy="211.39" r="1.3"/><circle cx="313.73" cy="212.78" r="1.3"/><circle cx="314.77" cy="213.64" r="1.3"/><circle cx="315.83" cy="210.08" r="1.3"/><circle cx="317.26" cy="213.00" r="1.3"/><circle cx="318.15" cy="211.89" r="1.3"/><circle cx="319.30" cy="214.65" r="1.3"/><circle cx="320.45" cy="213.97" r="1.3"/><circle cx="321.58" cy="213.16" r="1.3"/><circle cx="323.06" cy="209.64" r="1.3"/><circle cx="323.96" cy="211.52" r="1.3"/><circle cx="325.12" cy="212.78" r="1.3"/><circle cx="326.48" cy="211.74" r="1.3"/><circle cx="327.55" cy="210.07" r="1.3"/><circle cx="328.52" cy="212.78" r="1.3"/><circle cx="329.77" cy="212.86" r="1.3"/><circle cx="331.10" cy="210.83" r="1.3"/><circle cx="332.05" cy="211.59" r="1.3"/><circle cx="333.33" cy="211.20" r="1.3"/><circle cx="334.24" cy="212.49" r="1.3"/><circle cx="335.64" cy="209.23" r="1.3"/><circle cx="336.81" cy="209.21" r="1.3"/><circle cx="337.98" cy="210.30" r="1.3"/><circle cx="339.07" cy="209.81" r="1.3"/><circle cx="340.10" cy="212.85" r="1.3"/><circle cx="341.13" cy="209.13" r="1.3"/><circle cx="342.46" cy="209.64" r="1.3"/><circle cx="343.70" cy="208.31" r="1.3"/><circle cx="344.63" cy="207.59" r="1.3"/><circle cx="345.81" cy="208.39" r="1.3"/><circle cx="347.06" cy="209.61" r="1.3"/><circle cx="348.30" cy="206.42" r="1.3"/><circle cx="349.51" cy="207.44" r="1.3"/><circle cx="350.35" cy="206.62" r="1.3"/><circle cx="351.52" cy="206.67" r="1.3"/><circle cx="352.92" cy="206.05" r="1.3"/><circle cx="354.01" cy="208.57" r="1.3"/><circle cx="355.19" cy="203.79" r="1.3"/><circle cx="356.45" cy="205.23" r="1.3"/><circle cx="357.58" cy="204.39" r="1.3"/><circle cx="358.69" cy="203.70" r="1.3"/><circle cx="359.81" cy="206.87" r="1.3"/><circle cx="360.81" cy="209.83" r="1.3"/><circle cx="362.06" cy="209.39" r="1.3"/><circle cx="363.02" cy="210.37" r="1.3"/><circle cx="364.40" cy="210.26" r="1.3"/><circle cx="365.55" cy="210.13" r="1.3"/><circle cx="366.69" cy="213.23" r="1.3"/><circle cx="367.73" cy="210.72" r="1.3"/><circle cx="368.85" cy="213.34" r="1.3"/><circle cx="370.02" cy="211.41" r="1.3"/><circle cx="371.01" cy="212.09" r="1.3"/><circle cx="372.49" cy="212.53" r="1.3"/><circle cx="373.52" cy="212.32" r="1.3"/><circle cx="374.61" cy="212.95" r="1.3"/><circle cx="375.82" cy="213.07" r="1.3"/><circle cx="377.04" cy="214.38" r="1.3"/><circle cx="378.05" cy="212.38" r="1.3"/><circle cx="379.38" cy="210.10" r="1.3"/><circle cx="380.57" cy="209.91" r="1.3"/><circle cx="381.50" cy="210.69" r="1.3"/><circle cx="382.56" cy="211.41" r="1.3"/><circle cx="383.95" cy="213.04" r="1.3"/><circle cx="385.20" cy="210.42" r="1.3"/><circle cx="386.01" cy="212.20" r="1.3"/><circle cx="387.39" cy="212.13" r="1.3"/><circle cx="388.58" cy="212.31" r="1.3"/><circle cx="389.77" cy="211.72" r="1.3"/><circle cx="390.60" cy="212.25" r="1.3"/><circle cx="391.74" cy="211.60" r="1.3"/><circle cx="393.25" cy="212.36" r="1.3"/><circle cx="394.05" cy="211.07" r="1.3"/><circle cx="395.22" cy="206.69" r="1.3"/><circle cx="396.53" cy="207.35" r="1.3"/><circle cx="397.63" cy="204.21" r="1.3"/><circle cx="398.90" cy="200.29" r="1.3"/><circle cx="399.83" cy="203.72" r="1.3"/><circle cx="401.27" cy="209.85" r="1.3"/><circle cx="402.14" cy="209.86" r="1.3"/><circle cx="403.51" cy="209.45" r="1.3"/><circle cx="404.38" cy="210.60" r="1.3"/><circle cx="405.69" cy="211.08" r="1.3"/><circle cx="406.66" cy="209.45" r="1.3"/><circle cx="407.93" cy="212.30" r="1.3"/><circle cx="409.07" cy="211.42" r="1.3"/><circle cx="410.39" cy="212.18" r="1.3"/><circle cx="411.43" cy="209.72" r="1.3"/><circle cx="412.42" cy="213.93" r="1.3"/><circle cx="413.95" cy="212.33" r="1.3"/><circle cx="415.06" cy="212.12" r="1.3"/><circle cx="416.22" cy="210.62" r="1.3"/><circle cx="417.10" cy="210.65" r="1.3"/><circle cx="418.31" cy="209.62" r="1.3"/><circle cx="419.39" cy="213.22" r="1.3"/><circle cx="420.50" cy="210.29" r="1.3"/><circle cx="421.61" cy="211.50" r="1.3"/><circle cx="422.95" cy="211.86" r="1.3"/><circle cx="423.95" cy="210.29" r="1.3"/><circle cx="425.12" cy="211.99" r="1.3"/><circle cx="426.54" cy="213.29" r="1.3"/><circle cx="427.54" cy="211.06" r="1.3"/><circle cx="428.57" cy="212.34" r="1.3"/><circle cx="429.92" cy="211.10" r="1.3"/><circle cx="430.91" cy="207.24" r="1.3"/><circle cx="432.16" cy="209.55" r="1.3"/><circle cx="433.21" cy="207.75" r="1.3"/><circle cx="434.46" cy="209.75" r="1.3"/><circle cx="435.65" cy="211.18" r="1.3"/><circle cx="436.76" cy="209.91" r="1.3"/><circle cx="437.86" cy="209.81" r="1.3"/><circle cx="439.17" cy="209.77" r="1.3"/><circle cx="440.35" cy="207.19" r="1.3"/><circle cx="441.22" cy="208.23" r="1.3"/><circle cx="442.35" cy="209.45" r="1.3"/><circle cx="443.50" cy="205.29" r="1.3"/><circle cx="444.99" cy="205.38" r="1.3"/><circle cx="446.13" cy="203.85" r="1.3"/><circle cx="446.99" cy="203.41" r="1.3"/><circle cx="448.44" cy="201.10" r="1.3"/><circle cx="449.28" cy="200.85" r="1.3"/><circle cx="450.55" cy="197.14" r="1.3"/><circle cx="451.70" cy="196.16" r="1.3"/><circle cx="453.02" cy="193.11" r="1.3"/><circle cx="453.82" cy="190.81" r="1.3"/><circle cx="455.08" cy="189.66" r="1.3"/><circle cx="456.34" cy="182.11" r="1.3"/><circle cx="457.28" cy="177.54" r="1.3"/><circle cx="458.49" cy="169.42" r="1.3"/><circle cx="467.87" cy="173.82" r="1.3"/><circle cx="469.04" cy="175.52" r="1.3"/><circle cx="470.02" cy="183.52" r="1.3"/><circle cx="471.12" cy="190.35" r="1.3"/><circle cx="472.50" cy="195.42" r="1.3"/><circle cx="473.42" cy="190.98" r="1.3"/><circle cx="474.87" cy="197.50" r="1.3"/><circle cx="475.89" cy="199.60" r="1.3"/><circle cx="476.93" cy="199.15" r="1.3"/><circle cx="478.32" cy="200.49" r="1.3"/><circle cx="479.16" cy="198.46" r="1.3"/><circle cx="480.46" cy="199.05" r="1.3"/><circle cx="481.44" cy="196.11" r="1.3"/><circle cx="482.94" cy="189.33" r="1.3"/><circle cx="483.93" cy="181.54" r="1.3"/><circle cx="485.17" cy="181.80" r="1.3"/><circle cx="486.11" cy="179.45" r="1.3"/><circle cx="487.47" cy="185.18" r="1.3"/><circle cx="488.58" cy="188.97" r="1.3"/><circle cx="489.71" cy="197.62" r="1.3"/><circle cx="490.98" cy="200.99" r="1.3"/><circle cx="491.92" cy="202.59" r="1.3"/><circle cx="493.07" cy="205.84" r="1.3"/><circle cx="494.33" cy="207.28" r="1.3"/><circle cx="495.53" cy="207.64" r="1.3"/><circle cx="496.48" cy="210.34" r="1.3"/><circle cx="497.77" cy="210.08" r="1.3"/><circle cx="498.73" cy="209.09" r="1.3"/><circle cx="500.02" cy="208.70" r="1.3"/><circle cx="501.26" cy="209.34" r="1.3"/><circle cx="502.13" cy="211.46" r="1.3"/><circle cx="503.54" cy="209.85" r="1.3"/><circle cx="504.41" cy="208.22" r="1.3"/><circle cx="505.93" cy="208.34" r="1.3"/><circle cx="506.89" cy="208.92" r="1.3"/><circle cx="508.01" cy="209.54" r="1.3"/><circle cx="509.29" cy="206.78" r="1.3"/><circle cx="510.36" cy="207.30" r="1.3"/><circle cx="511.59" cy="206.08" r="1.3"/><circle cx="512.48" cy="203.19" r="1.3"/><circle cx="513.83" cy="193.16" r="1.3"/><circle cx="514.97" cy="183.68" r="1.3"/><circle cx="516.27" cy="161.62" r="1.3"/><circle cx="517.07" cy="159.57" r="1.3"/><circle cx="459.49" cy="159.17" r="1.2"/><circle cx="459.79" cy="150.38" r="1.2"/><circle cx="459.63" cy="141.59" r="1.2"/><circle cx="459.80" cy="132.80" r="1.2"/><circle cx="466.70" cy="163.17" r="1.2"/><circle cx="466.98" cy="154.71" r="1.2"/><circle cx="467.02" cy="146.26" r="1.2"/><circle cx="467.20" cy="137.80" r="1.2"/><circle cx="467.18" cy="129.34" r="1.2"/><circle cx="16.82" cy="272.54" r="1.3"/><circle cx="18.26" cy="268.88" r="1.3"/><circle cx="19.20" cy="270.48" r="1.3"/><circle cx="20.53" cy="268.64" r="1.3"/><circle cx="21.55" cy="271.36" r="1.3"/><circle cx="22.68" cy="268.85" r="1.3"/><circle cx="23.90" cy="269.97" r="1.3"/><circle cx="25.06" cy="268.71" r="1.3"/><circle cx="26.28" cy="270.79" r="1.3"/><circle cx="27.41" cy="270.42" r="1.3"/><circle cx="28.57" cy="266.99" r="1.3"/><circle cx="29.60" cy="270.68" r="1.3"/><circle cx="30.87" cy="270.53" r="1.3"/><circle cx="31.89" cy="270.01" r="1.3"/><circle cx="33.14" cy="270.91" r="1.3"/><circle cx="34.23" cy="268.25" r="1.3"/><circle cx="35.43" cy="267.61" r="1.3"/><circle cx="36.36" cy="270.53" r="1.3"/><circle cx="37.70" cy="271.75" r="1.3"/><circle cx="38.74" cy="268.27" r="1.3"/><circle cx="39.95" cy="268.35" r="1.3"/><circle cx="40.98" cy="268.69" r="1.3"/><circle cx="42.36" cy="268.29" r="1.3"/><circle cx="43.61" cy="270.72" r="1.3"/><circle cx="44.54" cy="269.88" r="1.3"/><circle cx="45.59" cy="271.34" r="1.3"/><circle cx="46.95" cy="271.38" r="1.3"/><circle cx="47.90" cy="268.50" r="1.3"/><circle cx="49.36" cy="270.49" r="1.3"/><circle cx="50.20" cy="266.94" r="1.3"/><circle cx="51.44" cy="269.59" r="1.3"/><circle cx="52.65" cy="270.45" r="1.3"/><circle cx="53.65" cy="268.72" r="1.3"/><circle cx="54.88" cy="267.52" r="1.3"/><circle cx="56.01" cy="271.73" r="1.3"/><circle cx="57.34" cy="271.14" r="1.3"/><circle cx="58.59" cy="269.23" r="1.3"/><circle cx="59.50" cy="268.03" r="1.3"/><circle cx="60.82" cy="270.27" r="1.3"/><circle cx="61.71" cy="270.61" r="1.3"/><circle cx="63.03" cy="268.46" r="1.3"/><circle cx="64.12" cy="269.51" r="1.3"/><circle cx="65.22" cy="271.00" r="1.3"/><circle cx="66.58" cy="270.13" r="1.3"/><circle cx="67.70" cy="270.59" r="1.3"/><circle cx="68.60" cy="269.32" r="1.3"/><circle cx="69.82" cy="269.55" r="1.3"/><circle cx="71.18" cy="268.30" r="1.3"/><circle cx="72.40" cy="268.83" r="1.3"/><circle cx="73.39" cy="271.55" r="1.3"/><circle cx="74.65" cy="269.19" r="1.3"/><circle cx="75.84" cy="268.60" r="1.3"/><circle cx="76.90" cy="269.13" r="1.3"/><circle cx="78.01" cy="268.44" r="1.3"/><circle cx="78.99" cy="270.34" r="1.3"/><circle cx="80.20" cy="270.82" r="1.3"/><circle cx="81.45" cy="268.56" r="1.3"/><circle cx="82.72" cy="270.96" r="1.3"/><circle cx="83.62" cy="272.27" r="1.3"/><circle cx="84.81" cy="268.45" r="1.3"/><circle cx="85.81" cy="270.55" r="1.3"/><circle cx="87.23" cy="270.04" r="1.3"/><circle cx="88.28" cy="271.35" r="1.3"/><circle cx="89.57" cy="271.27" r="1.3"/><circle cx="90.49" cy="271.06" r="1.3"/><circle cx="91.81" cy="270.11" r="1.3"/><circle cx="92.97" cy="269.23" r="1.3"/><circle cx="94.04" cy="272.43" r="1.3"/><circle cx="95.08" cy="268.77" r="1.3"/><circle cx="96.31" cy="268.22" r="1.3"/><circle cx="97.60" cy="270.95" r="1.3"/><circle cx="98.53" cy="268.86" r="1.3"/><circle cx="99.64" cy="269.76" r="1.3"/><circle cx="100.94" cy="271.52" r="1.3"/><circle cx="101.99" cy="267.46" r="1.3"/><circle cx="103.37" cy="270.71" r="1.3"/><circle cx="104.53" cy="269.38" r="1.3"/><circle cx="105.73" cy="269.43" r="1.3"/><circle cx="106.84" cy="267.98" r="1.3"/><circle cx="107.91" cy="271.13" r="1.3"/><circle cx="108.87" cy="268.46" r="1.3"/><circle cx="110.28" cy="270.56" r="1.3"/><circle cx="111.39" cy="268.33" r="1.3"/><circle cx="112.55" cy="270.59" r="1.3"/><circle cx="113.68" cy="270.11" r="1.3"/><circle cx="114.88" cy="267.40" r="1.3"/><circle cx="115.82" cy="269.29" r="1.3"/><circle cx="117.12" cy="269.54" r="1.3"/><circle cx="118.21" cy="266.98" r="1.3"/><circle cx="119.29" cy="269.24" r="1.3"/><circle cx="120.43" cy="270.65" r="1.3"/><circle cx="121.51" cy="268.79" r="1.3"/><circle cx="122.80" cy="271.09" r="1.3"/><circle cx="123.90" cy="268.32" r="1.3"/><circle cx="125.07" cy="268.22" r="1.3"/><circle cx="126.39" cy="270.36" r="1.3"/><circle cx="127.47" cy="270.42" r="1.3"/><circle cx="128.62" cy="269.46" r="1.3"/><circle cx="129.89" cy="269.65" r="1.3"/><circle cx="130.74" cy="270.84" r="1.3"/><circle cx="132.00" cy="268.99" r="1.3"/><circle cx="132.99" cy="272.12" r="1.3"/><circle cx="134.26" cy="270.19" r="1.3"/><circle cx="135.63" cy="270.15" r="1.3"/><circle cx="136.43" cy="270.00" r="1.3"/><circle cx="137.85" cy="269.30" r="1.3"/><circle cx="139.05" cy="271.14" r="1.3"/><circle cx="140.05" cy="268.96" r="1.3"/><circle cx="141.32" cy="269.88" r="1.3"/><circle cx="142.33" cy="270.45" r="1.3"/><circle cx="143.44" cy="271.31" r="1.3"/><circle cx="144.65" cy="271.09" r="1.3"/><circle cx="145.68" cy="269.23" r="1.3"/><circle cx="146.87" cy="270.82" r="1.3"/><circle cx="148.02" cy="269.59" r="1.3"/><circle cx="149.45" cy="268.39" r="1.3"/><circle cx="150.33" cy="268.43" r="1.3"/><circle cx="151.44" cy="267.79" r="1.3"/><circle cx="152.88" cy="270.02" r="1.3"/><circle cx="153.71" cy="270.97" r="1.3"/><circle cx="155.19" cy="268.44" r="1.3"/><circle cx="156.29" cy="269.96" r="1.3"/><circle cx="157.36" cy="268.31" r="1.3"/><circle cx="158.42" cy="269.65" r="1.3"/><circle cx="159.48" cy="268.23" r="1.3"/><circle cx="160.59" cy="268.65" r="1.3"/><circle cx="161.74" cy="268.80" r="1.3"/><circle cx="162.99" cy="269.06" r="1.3"/><circle cx="164.16" cy="269.19" r="1.3"/><circle cx="165.52" cy="269.38" r="1.3"/><circle cx="166.51" cy="269.39" r="1.3"/><circle cx="167.85" cy="268.47" r="1.3"/><circle cx="168.89" cy="270.28" r="1.3"/><circle cx="169.81" cy="267.58" r="1.3"/><circle cx="171.12" cy="269.79" r="1.3"/><circle cx="172.11" cy="268.48" r="1.3"/><circle cx="173.22" cy="269.77" r="1.3"/><circle cx="174.73" cy="269.96" r="1.3"/><circle cx="175.64" cy="267.22" r="1.3"/><circle cx="176.73" cy="276.62" r="1.3"/><circle cx="177.84" cy="271.19" r="1.3"/><circle cx="179.21" cy="270.52" r="1.3"/><circle cx="180.28" cy="270.04" r="1.3"/><circle cx="181.25" cy="267.07" r="1.3"/><circle cx="182.69" cy="269.41" r="1.3"/><circle cx="183.65" cy="268.53" r="1.3"/><circle cx="185.01" cy="270.86" r="1.3"/><circle cx="186.05" cy="269.23" r="1.3"/><circle cx="187.21" cy="268.85" r="1.3"/><circle cx="188.33" cy="267.49" r="1.3"/><circle cx="189.57" cy="270.49" r="1.3"/><circle cx="190.85" cy="268.93" r="1.3"/><circle cx="191.92" cy="269.29" r="1.3"/><circle cx="192.78" cy="270.88" r="1.3"/><circle cx="194.10" cy="269.68" r="1.3"/><circle cx="195.14" cy="269.97" r="1.3"/><circle cx="196.24" cy="272.45" r="1.3"/><circle cx="197.43" cy="268.93" r="1.3"/><circle cx="198.60" cy="269.00" r="1.3"/><circle cx="200.03" cy="270.18" r="1.3"/><circle cx="201.10" cy="271.26" r="1.3"/><circle cx="202.29" cy="267.87" r="1.3"/><circle cx="203.38" cy="269.33" r="1.3"/><circle cx="204.38" cy="268.43" r="1.3"/><circle cx="205.56" cy="267.96" r="1.3"/><circle cx="206.73" cy="270.27" r="1.3"/><circle cx="207.82" cy="268.67" r="1.3"/><circle cx="209.02" cy="269.94" r="1.3"/><circle cx="210.31" cy="269.72" r="1.3"/><circle cx="211.18" cy="269.75" r="1.3"/><circle cx="212.41" cy="269.65" r="1.3"/><circle cx="213.64" cy="268.31" r="1.3"/><circle cx="214.87" cy="269.50" r="1.3"/><circle cx="216.01" cy="269.83" r="1.3"/><circle cx="217.19" cy="267.77" r="1.3"/><circle cx="218.09" cy="269.23" r="1.3"/><circle cx="219.27" cy="270.72" r="1.3"/><circle cx="220.47" cy="270.25" r="1.3"/><circle cx="221.61" cy="269.71" r="1.3"/><circle cx="222.95" cy="270.32" r="1.3"/><circle cx="224.20" cy="269.78" r="1.3"/><circle cx="225.22" cy="270.37" r="1.3"/><circle cx="226.11" cy="267.23" r="1.3"/><circle cx="227.37" cy="268.04" r="1.3"/><circle cx="228.72" cy="269.10" r="1.3"/><circle cx="229.92" cy="269.70" r="1.3"/><circle cx="230.94" cy="267.01" r="1.3"/><circle cx="231.99" cy="269.25" r="1.3"/><circle cx="233.14" cy="269.74" r="1.3"/><circle cx="234.40" cy="269.27" r="1.3"/><circle cx="235.65" cy="269.27" r="1.3"/><circle cx="236.59" cy="267.94" r="1.3"/><circle cx="237.68" cy="269.66" r="1.3"/><circle cx="238.75" cy="267.11" r="1.3"/><circle cx="239.95" cy="268.89" r="1.3"/><circle cx="241.39" cy="268.80" r="1.3"/><circle cx="242.45" cy="270.84" r="1.3"/><circle cx="243.75" cy="267.45" r="1.3"/><circle cx="244.53" cy="270.03" r="1.3"/><circle cx="245.80" cy="269.70" r="1.3"/><circle cx="247.12" cy="268.52" r="1.3"/><circle cx="248.21" cy="268.12" r="1.3"/><circle cx="249.13" cy="270.96" r="1.3"/><circle cx="250.41" cy="270.04" r="1.3"/><circle cx="251.66" cy="271.30" r="1.3"/><circle cx="252.83" cy="269.46" r="1.3"/><circle cx="253.88" cy="269.75" r="1.3"/><circle cx="254.93" cy="270.04" r="1.3"/><circle cx="256.39" cy="270.44" r="1.3"/><circle cx="257.34" cy="270.09" r="1.3"/><circle cx="258.59" cy="270.52" r="1.3"/><circle cx="259.66" cy="268.98" r="1.3"/><circle cx="260.63" cy="267.80" r="1.3"/><circle cx="261.84" cy="271.94" r="1.3"/><circle cx="262.93" cy="269.76" r="1.3"/><circle cx="264.13" cy="270.12" r="1.3"/><circle cx="265.28" cy="269.02" r="1.3"/><circle cx="266.52" cy="270.76" r="1.3"/><circle cx="267.63" cy="269.79" r="1.3"/><circle cx="268.80" cy="270.86" r="1.3"/><circle cx="270.13" cy="268.77" r="1.3"/><circle cx="270.96" cy="269.49" r="1.3"/><circle cx="272.14" cy="269.80" r="1.3"/><circle cx="273.57" cy="269.16" r="1.3"/><circle cx="274.61" cy="269.90" r="1.3"/><circle cx="275.73" cy="271.47" r="1.3"/><circle cx="276.81" cy="268.89" r="1.3"/><circle cx="278.07" cy="269.26" r="1.3"/><circle cx="279.09" cy="269.79" r="1.3"/><circle cx="280.49" cy="268.42" r="1.3"/><circle cx="281.63" cy="268.13" r="1.3"/><circle cx="282.58" cy="270.91" r="1.3"/><circle cx="283.61" cy="270.54" r="1.3"/><circle cx="285.11" cy="267.74" r="1.3"/><circle cx="286.02" cy="267.89" r="1.3"/><circle cx="287.31" cy="270.48" r="1.3"/><circle cx="288.54" cy="271.01" r="1.3"/><circle cx="289.67" cy="270.36" r="1.3"/><circle cx="290.85" cy="270.19" r="1.3"/><circle cx="291.85" cy="271.49" r="1.3"/><circle cx="293.14" cy="269.55" r="1.3"/><circle cx="294.13" cy="271.12" r="1.3"/><circle cx="295.21" cy="271.04" r="1.3"/><circle cx="296.44" cy="268.48" r="1.3"/><circle cx="297.53" cy="270.40" r="1.3"/><circle cx="298.86" cy="269.66" r="1.3"/><circle cx="300.03" cy="268.82" r="1.3"/><circle cx="300.91" cy="268.60" r="1.3"/><circle cx="302.07" cy="269.98" r="1.3"/><circle cx="303.30" cy="269.52" r="1.3"/><circle cx="304.49" cy="270.56" r="1.3"/><circle cx="305.83" cy="267.46" r="1.3"/><circle cx="306.98" cy="268.78" r="1.3"/><circle cx="308.14" cy="270.89" r="1.3"/><circle cx="309.19" cy="269.56" r="1.3"/><circle cx="310.32" cy="268.70" r="1.3"/><circle cx="311.31" cy="268.98" r="1.3"/><circle cx="312.50" cy="267.35" r="1.3"/><circle cx="313.50" cy="267.90" r="1.3"/><circle cx="314.98" cy="270.20" r="1.3"/><circle cx="315.91" cy="269.65" r="1.3"/><circle cx="316.98" cy="271.08" r="1.3"/><circle cx="318.23" cy="269.24" r="1.3"/><circle cx="319.38" cy="269.35" r="1.3"/><circle cx="320.69" cy="266.27" r="1.3"/><circle cx="321.55" cy="269.40" r="1.3"/><circle cx="322.79" cy="272.03" r="1.3"/><circle cx="324.21" cy="270.30" r="1.3"/><circle cx="325.34" cy="269.33" r="1.3"/><circle cx="326.40" cy="270.96" r="1.3"/><circle cx="327.52" cy="270.45" r="1.3"/><circle cx="328.54" cy="269.81" r="1.3"/><circle cx="329.95" cy="268.87" r="1.3"/><circle cx="331.05" cy="269.41" r="1.3"/><circle cx="332.11" cy="270.19" r="1.3"/><circle cx="333.11" cy="268.04" r="1.3"/><circle cx="334.29" cy="269.49" r="1.3"/><circle cx="335.50" cy="269.24" r="1.3"/><circle cx="336.63" cy="270.09" r="1.3"/><circle cx="337.67" cy="269.11" r="1.3"/><circle cx="338.96" cy="266.96" r="1.3"/><circle cx="340.13" cy="269.39" r="1.3"/><circle cx="341.21" cy="267.05" r="1.3"/><circle cx="342.40" cy="265.56" r="1.3"/><circle cx="343.53" cy="266.42" r="1.3"/><circle cx="344.70" cy="265.06" r="1.3"/><circle cx="345.95" cy="266.17" r="1.3"/><circle cx="347.05" cy="262.42" r="1.3"/><circle cx="348.08" cy="262.13" r="1.3"/><circle cx="349.47" cy="262.55" r="1.3"/><circle cx="350.51" cy="264.72" r="1.3"/><circle cx="351.63" cy="263.29" r="1.3"/><circle cx="352.89" cy="260.07" r="1.3"/><circle cx="354.05" cy="258.72" r="1.3"/><circle cx="355.24" cy="260.41" r="1.3"/><circle cx="356.37" cy="258.98" r="1.3"/><circle cx="357.47" cy="261.53" r="1.3"/><circle cx="358.64" cy="261.19" r="1.3"/><circle cx="359.56" cy="261.31" r="1.3"/><circle cx="360.93" cy="261.53" r="1.3"/><circle cx="361.90" cy="264.84" r="1.3"/><circle cx="363.05" cy="262.46" r="1.3"/><circle cx="364.15" cy="262.86" r="1.3"/><circle cx="365.41" cy="267.03" r="1.3"/><circle cx="366.41" cy="267.99" r="1.3"/><circle cx="367.81" cy="266.69" r="1.3"/><circle cx="369.00" cy="266.71" r="1.3"/><circle cx="370.16" cy="271.08" r="1.3"/><circle cx="371.05" cy="267.45" r="1.3"/><circle cx="372.41" cy="268.55" r="1.3"/><circle cx="373.64" cy="269.50" r="1.3"/><circle cx="374.46" cy="266.44" r="1.3"/><circle cx="375.68" cy="268.91" r="1.3"/><circle cx="376.86" cy="270.03" r="1.3"/><circle cx="378.08" cy="269.01" r="1.3"/><circle cx="379.12" cy="270.40" r="1.3"/><circle cx="380.42" cy="270.04" r="1.3"/><circle cx="381.49" cy="268.63" r="1.3"/><circle cx="382.76" cy="269.74" r="1.3"/><circle cx="383.86" cy="269.58" r="1.3"/><circle cx="385.07" cy="266.97" r="1.3"/><circle cx="386.05" cy="267.90" r="1.3"/><circle cx="387.38" cy="267.90" r="1.3"/><circle cx="388.54" cy="268.15" r="1.3"/><circle cx="389.69" cy="268.09" r="1.3"/><circle cx="390.58" cy="264.60" r="1.3"/><circle cx="392.08" cy="268.33" r="1.3"/><circle cx="393.08" cy="265.73" r="1.3"/><circle cx="394.11" cy="268.74" r="1.3"/><circle cx="395.32" cy="266.93" r="1.3"/><circle cx="396.51" cy="266.59" r="1.3"/><circle cx="397.66" cy="262.11" r="1.3"/><circle cx="398.70" cy="258.51" r="1.3"/><circle cx="399.86" cy="259.34" r="1.3"/><circle cx="401.05" cy="265.46" r="1.3"/><circle cx="402.36" cy="266.54" r="1.3"/><circle cx="403.37" cy="267.74" r="1.3"/><circle cx="404.37" cy="268.63" r="1.3"/><circle cx="405.68" cy="269.50" r="1.3"/><circle cx="406.73" cy="268.10" r="1.3"/><circle cx="407.80" cy="270.39" r="1.3"/><circle cx="409.34" cy="268.19" r="1.3"/><circle cx="410.22" cy="264.52" r="1.3"/><circle cx="411.46" cy="269.16" r="1.3"/><circle cx="412.54" cy="269.58" r="1.3"/><circle cx="413.57" cy="270.02" r="1.3"/><circle cx="415.06" cy="265.98" r="1.3"/><circle cx="416.22" cy="269.88" r="1.3"/><circle cx="417.07" cy="266.28" r="1.3"/><circle cx="418.32" cy="267.40" r="1.3"/><circle cx="419.45" cy="268.53" r="1.3"/><circle cx="420.52" cy="269.44" r="1.3"/><circle cx="421.86" cy="266.63" r="1.3"/><circle cx="423.06" cy="265.69" r="1.3"/><circle cx="424.20" cy="268.89" r="1.3"/><circle cx="425.32" cy="268.00" r="1.3"/><circle cx="426.21" cy="266.24" r="1.3"/><circle cx="427.44" cy="266.99" r="1.3"/><circle cx="428.71" cy="264.76" r="1.3"/><circle cx="429.93" cy="267.81" r="1.3"/><circle cx="430.95" cy="266.26" r="1.3"/><circle cx="432.13" cy="268.32" r="1.3"/><circle cx="433.44" cy="263.86" r="1.3"/><circle cx="434.26" cy="267.27" r="1.3"/><circle cx="435.51" cy="268.87" r="1.3"/><circle cx="436.67" cy="265.93" r="1.3"/><circle cx="438.10" cy="265.53" r="1.3"/><circle cx="438.94" cy="262.61" r="1.3"/><circle cx="440.02" cy="265.12" r="1.3"/><circle cx="441.32" cy="264.16" r="1.3"/><circle cx="442.56" cy="262.75" r="1.3"/><circle cx="443.51" cy="260.89" r="1.3"/><circle cx="444.94" cy="262.16" r="1.3"/><circle cx="445.83" cy="259.97" r="1.3"/><circle cx="447.18" cy="259.45" r="1.3"/><circle cx="448.11" cy="259.59" r="1.3"/><circle cx="449.55" cy="257.21" r="1.3"/><circle cx="450.43" cy="255.92" r="1.3"/><circle cx="451.79" cy="254.79" r="1.3"/><circle cx="452.99" cy="248.70" r="1.3"/><circle cx="453.90" cy="250.26" r="1.3"/><circle cx="454.99" cy="242.34" r="1.3"/><circle cx="456.33" cy="236.92" r="1.3"/><circle cx="457.45" cy="233.07" r="1.3"/><circle cx="458.59" cy="227.60" r="1.3"/><circle cx="467.72" cy="227.25" r="1.3"/><circle cx="468.86" cy="233.37" r="1.3"/><circle cx="470.00" cy="239.08" r="1.3"/><circle cx="471.36" cy="245.52" r="1.3"/><circle cx="472.25" cy="247.19" r="1.3"/><circle cx="473.43" cy="252.56" r="1.3"/><circle cx="474.71" cy="253.59" r="1.3"/><circle cx="475.78" cy="257.55" r="1.3"/><circle cx="476.90" cy="254.95" r="1.3"/><circle cx="478.10" cy="256.15" r="1.3"/><circle cx="479.30" cy="256.59" r="1.3"/><circle cx="480.52" cy="252.94" r="1.3"/><circle cx="481.79" cy="250.84" r="1.3"/><circle cx="482.89" cy="252.50" r="1.3"/><circle cx="483.87" cy="243.02" r="1.3"/><circle cx="485.03" cy="239.94" r="1.3"/><circle cx="486.17" cy="233.45" r="1.3"/><circle cx="487.25" cy="234.79" r="1.3"/><circle cx="488.68" cy="248.46" r="1.3"/><circle cx="489.48" cy="251.54" r="1.3"/><circle cx="490.68" cy="256.58" r="1.3"/><circle cx="492.01" cy="259.04" r="1.3"/><circle cx="493.14" cy="260.53" r="1.3"/><circle cx="494.16" cy="260.91" r="1.3"/><circle cx="495.57" cy="265.14" r="1.3"/><circle cx="496.51" cy="262.38" r="1.3"/><circle cx="497.74" cy="266.20" r="1.3"/><circle cx="498.69" cy="264.98" r="1.3"/><circle cx="500.16" cy="264.24" r="1.3"/><circle cx="500.99" cy="264.96" r="1.3"/><circle cx="502.26" cy="267.21" r="1.3"/><circle cx="503.60" cy="266.95" r="1.3"/><circle cx="504.78" cy="266.60" r="1.3"/><circle cx="505.91" cy="265.92" r="1.3"/><circle cx="507.03" cy="264.11" r="1.3"/><circle cx="507.94" cy="266.89" r="1.3"/><circle cx="509.01" cy="264.00" r="1.3"/><circle cx="510.33" cy="262.56" r="1.3"/><circle cx="511.33" cy="261.08" r="1.3"/><circle cx="512.83" cy="256.89" r="1.3"/><circle cx="513.60" cy="251.37" r="1.3"/><circle cx="514.88" cy="241.21" r="1.3"/><circle cx="515.98" cy="223.58" r="1.3"/><circle cx="517.06" cy="214.00" r="1.3"/><circle cx="459.48" cy="215.97" r="1.2"/><circle cx="459.54" cy="208.96" r="1.2"/><circle cx="459.61" cy="201.95" r="1.2"/><circle cx="459.62" cy="194.94" r="1.2"/><circle cx="459.68" cy="187.93" r="1.2"/><circle cx="459.63" cy="180.92" r="1.2"/><circle cx="459.37" cy="173.91" r="1.2"/><circle cx="459.51" cy="166.90" r="1.2"/><circle cx="459.93" cy="159.89" r="1.2"/><circle cx="459.37" cy="152.88" r="1.2"/><circle cx="459.79" cy="145.87" r="1.2"/><circle cx="459.64" cy="138.86" r="1.2"/><circle cx="459.77" cy="131.85" r="1.2"/><circle cx="466.87" cy="219.97" r="1.2"/><circle cx="466.96" cy="211.64" r="1.2"/><circle cx="467.20" cy="203.31" r="1.2"/><circle cx="466.85" cy="194.98" r="1.2"/><circle cx="466.70" cy="186.65" r="1.2"/><circle cx="466.67" cy="178.32" r="1.2"/><circle cx="467.18" cy="169.99" r="1.2"/><circle cx="466.84" cy="161.66" r="1.2"/><circle cx="466.72" cy="153.33" r="1.2"/><circle cx="467.01" cy="145.00" r="1.2"/><circle cx="467.16" cy="136.67" r="1.2"/><circle cx="467.01" cy="128.34" r="1.2"/><circle cx="16.86" cy="328.39" r="1.3"/><circle cx="18.11" cy="325.10" r="1.3"/><circle cx="19.21" cy="327.14" r="1.3"/><circle cx="20.26" cy="328.64" r="1.3"/><circle cx="21.79" cy="325.66" r="1.3"/><circle cx="22.73" cy="327.88" r="1.3"/><circle cx="23.75" cy="326.37" r="1.3"/><circle cx="25.20" cy="327.00" r="1.3"/><circle cx="26.39" cy="326.68" r="1.3"/><circle cx="27.48" cy="326.78" r="1.3"/><circle cx="28.40" cy="327.67" r="1.3"/><circle cx="29.53" cy="326.93" r="1.3"/><circle cx="30.81" cy="324.54" r="1.3"/><circle cx="31.98" cy="329.67" r="1.3"/><circle cx="33.25" cy="326.90" r="1.3"/><circle cx="34.44" cy="326.46" r="1.3"/><circle cx="35.56" cy="328.24" r="1.3"/><circle cx="36.49" cy="328.63" r="1.3"/><circle cx="37.73" cy="324.39" r="1.3"/><circle cx="38.70" cy="327.43" r="1.3"/><circle cx="40.01" cy="324.49" r="1.3"/><circle cx="40.98" cy="326.34" r="1.3"/><circle cx="42.14" cy="326.89" r="1.3"/><circle cx="43.30" cy="326.41" r="1.3"/><circle cx="44.52" cy="326.22" r="1.3"/><circle cx="45.67" cy="325.56" r="1.3"/><circle cx="46.98" cy="326.46" r="1.3"/><circle cx="47.88" cy="326.81" r="1.3"/><circle cx="49.04" cy="326.77" r="1.3"/><circle cx="50.41" cy="325.36" r="1.3"/><circle cx="51.57" cy="326.00" r="1.3"/><circle cx="52.73" cy="328.18" r="1.3"/><circle cx="53.89" cy="327.74" r="1.3"/><circle cx="55.02" cy="326.58" r="1.3"/><circle cx="56.12" cy="327.73" r="1.3"/><circle cx="57.35" cy="327.43" r="1.3"/><circle cx="58.23" cy="328.13" r="1.3"/><circle cx="59.43" cy="327.29" r="1.3"/><circle cx="60.80" cy="326.47" r="1.3"/><circle cx="61.73" cy="325.78" r="1.3"/><circle cx="63.01" cy="326.97" r="1.3"/><circle cx="64.05" cy="324.49" r="1.3"/><circle cx="65.27" cy="327.07" r="1.3"/><circle cx="66.58" cy="323.15" r="1.3"/><circle cx="67.66" cy="325.78" r="1.3"/><circle cx="68.73" cy="326.38" r="1.3"/><circle cx="69.81" cy="327.58" r="1.3"/><circle cx="71.17" cy="330.37" r="1.3"/><circle cx="72.26" cy="327.16" r="1.3"/><circle cx="73.33" cy="326.76" r="1.3"/><circle cx="74.65" cy="324.67" r="1.3"/><circle cx="75.73" cy="328.63" r="1.3"/><circle cx="76.99" cy="324.69" r="1.3"/><circle cx="78.02" cy="327.28" r="1.3"/><circle cx="79.26" cy="326.11" r="1.3"/><circle cx="80.27" cy="330.03" r="1.3"/><circle cx="81.48" cy="326.81" r="1.3"/><circle cx="82.69" cy="327.39" r="1.3"/><circle cx="83.54" cy="326.16" r="1.3"/><circle cx="84.84" cy="326.87" r="1.3"/><circle cx="86.04" cy="328.35" r="1.3"/><circle cx="86.97" cy="325.84" r="1.3"/><circle cx="88.42" cy="326.14" r="1.3"/><circle cx="89.54" cy="326.26" r="1.3"/><circle cx="90.77" cy="325.76" r="1.3"/><circle cx="91.70" cy="325.65" r="1.3"/><circle cx="92.89" cy="327.00" r="1.3"/><circle cx="94.21" cy="328.61" r="1.3"/><circle cx="95.16" cy="328.64" r="1.3"/><circle cx="96.48" cy="325.35" r="1.3"/><circle cx="97.47" cy="326.12" r="1.3"/><circle cx="98.59" cy="326.85" r="1.3"/><circle cx="99.71" cy="327.50" r="1.3"/><circle cx="100.84" cy="326.94" r="1.3"/><circle cx="102.07" cy="326.94" r="1.3"/><circle cx="103.11" cy="327.38" r="1.3"/><circle cx="104.53" cy="327.81" r="1.3"/><circle cx="105.74" cy="324.38" r="1.3"/><circle cx="106.54" cy="326.70" r="1.3"/><circle cx="107.67" cy="327.70" r="1.3"/><circle cx="108.80" cy="328.54" r="1.3"/><circle cx="110.32" cy="327.84" r="1.3"/><circle cx="111.13" cy="326.11" r="1.3"/><circle cx="112.52" cy="326.06" r="1.3"/><circle cx="113.52" cy="327.23" r="1.3"/><circle cx="114.63" cy="326.91" r="1.3"/><circle cx="115.80" cy="327.34" r="1.3"/><circle cx="117.13" cy="328.30" r="1.3"/><circle cx="118.01" cy="325.41" r="1.3"/><circle cx="119.50" cy="326.52" r="1.3"/><circle cx="120.53" cy="324.00" r="1.3"/><circle cx="121.54" cy="327.88" r="1.3"/><circle cx="122.68" cy="327.14" r="1.3"/><circle cx="124.01" cy="325.91" r="1.3"/><circle cx="125.15" cy="327.26" r="1.3"/><circle cx="126.18" cy="328.64" r="1.3"/><circle cx="127.33" cy="328.11" r="1.3"/><circle cx="128.54" cy="326.85" r="1.3"/><circle cx="129.86" cy="326.56" r="1.3"/><circle cx="130.87" cy="327.08" r="1.3"/><circle cx="132.14" cy="325.76" r="1.3"/><circle cx="133.21" cy="325.78" r="1.3"/><circle cx="134.32" cy="326.58" r="1.3"/><circle cx="135.45" cy="326.94" r="1.3"/><circle cx="136.67" cy="327.27" r="1.3"/><circle cx="137.75" cy="326.31" r="1.3"/><circle cx="138.99" cy="325.86" r="1.3"/><circle cx="139.92" cy="326.90" r="1.3"/><circle cx="141.13" cy="326.43" r="1.3"/><circle cx="142.50" cy="327.36" r="1.3"/><circle cx="143.46" cy="328.66" r="1.3"/><circle cx="144.79" cy="328.17" r="1.3"/><circle cx="145.98" cy="326.05" r="1.3"/><circle cx="146.98" cy="326.43" r="1.3"/><circle cx="147.94" cy="325.06" r="1.3"/><circle cx="149.35" cy="326.90" r="1.3"/><circle cx="150.47" cy="325.93" r="1.3"/><circle cx="151.47" cy="325.38" r="1.3"/><circle cx="152.85" cy="325.77" r="1.3"/><circle cx="153.84" cy="327.70" r="1.3"/><circle cx="154.82" cy="327.19" r="1.3"/><circle cx="155.98" cy="326.81" r="1.3"/><circle cx="157.19" cy="328.15" r="1.3"/><circle cx="158.49" cy="326.39" r="1.3"/><circle cx="159.73" cy="325.73" r="1.3"/><circle cx="160.59" cy="327.54" r="1.3"/><circle cx="161.71" cy="324.59" r="1.3"/><circle cx="163.10" cy="327.31" r="1.3"/><circle cx="164.16" cy="327.21" r="1.3"/><circle cx="165.33" cy="327.25" r="1.3"/><circle cx="166.63" cy="327.81" r="1.3"/><circle cx="167.82" cy="326.46" r="1.3"/><circle cx="168.99" cy="326.94" r="1.3"/><circle cx="170.06" cy="324.97" r="1.3"/><circle cx="170.90" cy="326.23" r="1.3"/><circle cx="172.11" cy="326.31" r="1.3"/><circle cx="173.43" cy="327.23" r="1.3"/><circle cx="174.73" cy="328.66" r="1.3"/><circle cx="175.53" cy="327.07" r="1.3"/><circle cx="176.86" cy="327.98" r="1.3"/><circle cx="177.96" cy="325.82" r="1.3"/><circle cx="179.11" cy="326.99" r="1.3"/><circle cx="180.21" cy="324.96" r="1.3"/><circle cx="181.36" cy="326.07" r="1.3"/><circle cx="182.50" cy="325.95" r="1.3"/><circle cx="183.59" cy="326.68" r="1.3"/><circle cx="184.92" cy="326.71" r="1.3"/><circle cx="186.03" cy="326.17" r="1.3"/><circle cx="187.29" cy="325.85" r="1.3"/><circle cx="188.41" cy="327.81" r="1.3"/><circle cx="189.68" cy="326.36" r="1.3"/><circle cx="190.59" cy="323.81" r="1.3"/><circle cx="191.95" cy="327.06" r="1.3"/><circle cx="192.90" cy="327.26" r="1.3"/><circle cx="194.16" cy="327.79" r="1.3"/><circle cx="195.37" cy="328.69" r="1.3"/><circle cx="196.36" cy="325.53" r="1.3"/><circle cx="197.53" cy="326.88" r="1.3"/><circle cx="198.75" cy="326.59" r="1.3"/><circle cx="199.69" cy="324.74" r="1.3"/><circle cx="201.01" cy="323.94" r="1.3"/><circle cx="201.99" cy="328.02" r="1.3"/><circle cx="203.19" cy="325.68" r="1.3"/><circle cx="204.50" cy="326.20" r="1.3"/><circle cx="205.79" cy="326.47" r="1.3"/><circle cx="206.95" cy="326.37" r="1.3"/><circle cx="207.80" cy="326.97" r="1.3"/><circle cx="208.91" cy="325.04" r="1.3"/><circle cx="210.21" cy="326.21" r="1.3"/><circle cx="211.33" cy="326.53" r="1.3"/><circle cx="212.45" cy="325.45" r="1.3"/><circle cx="213.76" cy="325.87" r="1.3"/><circle cx="214.88" cy="326.39" r="1.3"/><circle cx="215.97" cy="326.55" r="1.3"/><circle cx="217.15" cy="324.83" r="1.3"/><circle cx="218.28" cy="326.33" r="1.3"/><circle cx="219.47" cy="327.05" r="1.3"/><circle cx="220.72" cy="327.97" r="1.3"/><circle cx="221.88" cy="327.35" r="1.3"/><circle cx="223.04" cy="330.42" r="1.3"/><circle cx="224.14" cy="326.81" r="1.3"/><circle cx="224.99" cy="326.63" r="1.3"/><circle cx="226.28" cy="329.40" r="1.3"/><circle cx="227.56" cy="326.91" r="1.3"/><circle cx="228.52" cy="326.16" r="1.3"/><circle cx="229.79" cy="326.74" r="1.3"/><circle cx="230.72" cy="328.08" r="1.3"/><circle cx="231.93" cy="325.41" r="1.3"/><circle cx="233.16" cy="327.77" r="1.3"/><circle cx="234.18" cy="328.41" r="1.3"/><circle cx="235.47" cy="328.23" r="1.3"/><circle cx="236.54" cy="326.95" r="1.3"/><circle cx="237.94" cy="325.75" r="1.3"/><circle cx="238.88" cy="325.53" r="1.3"/><circle cx="240.05" cy="326.68" r="1.3"/><circle cx="241.37" cy="328.36" r="1.3"/><circle cx="242.42" cy="327.72" r="1.3"/><circle cx="243.37" cy="328.01" r="1.3"/><circle cx="244.59" cy="327.14" r="1.3"/><circle cx="245.89" cy="329.06" r="1.3"/><circle cx="246.88" cy="326.79" r="1.3"/><circle cx="248.05" cy="326.15" r="1.3"/><circle cx="249.35" cy="327.10" r="1.3"/><circle cx="250.45" cy="326.37" r="1.3"/><circle cx="251.51" cy="328.05" r="1.3"/><circle cx="252.77" cy="328.67" r="1.3"/><circle cx="253.95" cy="327.69" r="1.3"/><circle cx="254.87" cy="325.53" r="1.3"/><circle cx="256.11" cy="325.68" r="1.3"/><circle cx="257.27" cy="327.98" r="1.3"/><circle cx="258.65" cy="325.47" r="1.3"/><circle cx="259.47" cy="327.31" r="1.3"/><circle cx="260.74" cy="325.10" r="1.3"/><circle cx="261.83" cy="326.34" r="1.3"/><circle cx="263.18" cy="327.46" r="1.3"/><circle cx="264.37" cy="325.96" r="1.3"/><circle cx="265.22" cy="327.85" r="1.3"/><circle cx="266.70" cy="328.04" r="1.3"/><circle cx="267.78" cy="328.66" r="1.3"/><circle cx="268.74" cy="326.60" r="1.3"/><circle cx="270.17" cy="326.97" r="1.3"/><circle cx="271.07" cy="327.00" r="1.3"/><circle cx="272.42" cy="327.40" r="1.3"/><circle cx="273.28" cy="325.18" r="1.3"/><circle cx="274.58" cy="327.42" r="1.3"/><circle cx="275.75" cy="327.77" r="1.3"/><circle cx="277.06" cy="325.41" r="1.3"/><circle cx="278.18" cy="325.19" r="1.3"/><circle cx="279.22" cy="326.49" r="1.3"/><circle cx="280.17" cy="328.99" r="1.3"/><circle cx="281.47" cy="327.62" r="1.3"/><circle cx="282.60" cy="326.16" r="1.3"/><circle cx="284.00" cy="326.87" r="1.3"/><circle cx="285.02" cy="325.03" r="1.3"/><circle cx="286.06" cy="328.54" r="1.3"/><circle cx="287.20" cy="326.08" r="1.3"/><circle cx="288.51" cy="327.64" r="1.3"/><circle cx="289.39" cy="325.30" r="1.3"/><circle cx="290.83" cy="326.98" r="1.3"/><circle cx="291.92" cy="325.65" r="1.3"/><circle cx="292.97" cy="327.66" r="1.3"/><circle cx="294.23" cy="328.58" r="1.3"/><circle cx="295.26" cy="328.22" r="1.3"/><circle cx="296.31" cy="327.61" r="1.3"/><circle cx="297.57" cy="328.11" r="1.3"/><circle cx="298.57" cy="325.43" r="1.3"/><circle cx="299.73" cy="325.27" r="1.3"/><circle cx="301.03" cy="326.54" r="1.3"/><circle cx="302.33" cy="328.11" r="1.3"/><circle cx="303.23" cy="327.01" r="1.3"/><circle cx="304.50" cy="327.69" r="1.3"/><circle cx="305.84" cy="325.12" r="1.3"/><circle cx="306.93" cy="326.48" r="1.3"/><circle cx="308.11" cy="326.27" r="1.3"/><circle cx="309.17" cy="327.34" r="1.3"/><circle cx="310.29" cy="329.28" r="1.3"/><circle cx="311.43" cy="327.78" r="1.3"/><circle cx="312.59" cy="328.19" r="1.3"/><circle cx="313.69" cy="326.40" r="1.3"/><circle cx="314.79" cy="326.73" r="1.3"/><circle cx="315.90" cy="327.80" r="1.3"/><circle cx="316.98" cy="327.30" r="1.3"/><circle cx="318.25" cy="324.94" r="1.3"/><circle cx="319.56" cy="327.96" r="1.3"/><circle cx="320.62" cy="327.90" r="1.3"/><circle cx="321.62" cy="327.05" r="1.3"/><circle cx="323.03" cy="327.59" r="1.3"/><circle cx="323.87" cy="327.24" r="1.3"/><circle cx="325.37" cy="326.03" r="1.3"/><circle cx="326.41" cy="324.53" r="1.3"/><circle cx="327.52" cy="328.70" r="1.3"/><circle cx="328.62" cy="326.49" r="1.3"/><circle cx="329.93" cy="326.29" r="1.3"/><circle cx="330.75" cy="326.35" r="1.3"/><circle cx="331.91" cy="326.31" r="1.3"/><circle cx="333.26" cy="326.27" r="1.3"/><circle cx="334.32" cy="324.40" r="1.3"/><circle cx="335.51" cy="325.92" r="1.3"/><circle cx="336.71" cy="325.17" r="1.3"/><circle cx="337.67" cy="324.71" r="1.3"/><circle cx="339.19" cy="324.02" r="1.3"/><circle cx="340.22" cy="323.95" r="1.3"/><circle cx="341.14" cy="322.05" r="1.3"/><circle cx="342.55" cy="322.67" r="1.3"/><circle cx="343.61" cy="321.89" r="1.3"/><circle cx="344.82" cy="321.54" r="1.3"/><circle cx="346.00" cy="322.17" r="1.3"/><circle cx="347.25" cy="321.27" r="1.3"/><circle cx="348.05" cy="321.15" r="1.3"/><circle cx="349.55" cy="318.72" r="1.3"/><circle cx="350.49" cy="319.52" r="1.3"/><circle cx="351.53" cy="319.57" r="1.3"/><circle cx="352.75" cy="317.34" r="1.3"/><circle cx="353.90" cy="316.61" r="1.3"/><circle cx="355.26" cy="319.53" r="1.3"/><circle cx="356.26" cy="314.61" r="1.3"/><circle cx="357.23" cy="316.90" r="1.3"/><circle cx="358.64" cy="317.38" r="1.3"/><circle cx="359.70" cy="316.26" r="1.3"/><circle cx="360.98" cy="318.48" r="1.3"/><circle cx="361.82" cy="320.07" r="1.3"/><circle cx="363.30" cy="317.64" r="1.3"/><circle cx="364.46" cy="322.99" r="1.3"/><circle cx="365.25" cy="322.41" r="1.3"/><circle cx="366.59" cy="322.26" r="1.3"/><circle cx="367.60" cy="325.38" r="1.3"/><circle cx="368.91" cy="324.91" r="1.3"/><circle cx="369.89" cy="324.74" r="1.3"/><circle cx="371.35" cy="322.78" r="1.3"/><circle cx="372.22" cy="327.02" r="1.3"/><circle cx="373.57" cy="326.22" r="1.3"/><circle cx="374.71" cy="325.49" r="1.3"/><circle cx="375.73" cy="326.26" r="1.3"/><circle cx="376.84" cy="327.86" r="1.3"/><circle cx="378.27" cy="325.93" r="1.3"/><circle cx="379.07" cy="326.29" r="1.3"/><circle cx="380.30" cy="325.87" r="1.3"/><circle cx="381.48" cy="325.01" r="1.3"/><circle cx="382.73" cy="325.12" r="1.3"/><circle cx="383.80" cy="325.82" r="1.3"/><circle cx="384.84" cy="325.90" r="1.3"/><circle cx="386.18" cy="327.55" r="1.3"/><circle cx="387.39" cy="326.30" r="1.3"/><circle cx="388.53" cy="325.78" r="1.3"/><circle cx="389.60" cy="326.43" r="1.3"/><circle cx="390.67" cy="325.68" r="1.3"/><circle cx="391.70" cy="326.63" r="1.3"/><circle cx="393.06" cy="323.33" r="1.3"/><circle cx="394.25" cy="321.98" r="1.3"/><circle cx="395.33" cy="324.25" r="1.3"/><circle cx="396.68" cy="320.97" r="1.3"/><circle cx="397.53" cy="319.28" r="1.3"/><circle cx="398.93" cy="313.18" r="1.3"/><circle cx="400.04" cy="316.74" r="1.3"/><circle cx="401.26" cy="321.15" r="1.3"/><circle cx="402.42" cy="323.59" r="1.3"/><circle cx="403.29" cy="323.99" r="1.3"/><circle cx="404.72" cy="326.13" r="1.3"/><circle cx="405.66" cy="324.32" r="1.3"/><circle cx="406.92" cy="326.25" r="1.3"/><circle cx="408.18" cy="324.84" r="1.3"/><circle cx="409.19" cy="323.51" r="1.3"/><circle cx="410.33" cy="324.25" r="1.3"/><circle cx="411.28" cy="325.62" r="1.3"/><circle cx="412.64" cy="324.34" r="1.3"/><circle cx="413.65" cy="326.72" r="1.3"/><circle cx="414.86" cy="324.81" r="1.3"/><circle cx="416.00" cy="325.80" r="1.3"/><circle cx="417.39" cy="325.23" r="1.3"/><circle cx="418.41" cy="325.33" r="1.3"/><circle cx="419.59" cy="324.20" r="1.3"/><circle cx="420.52" cy="327.79" r="1.3"/><circle cx="421.72" cy="324.82" r="1.3"/><circle cx="423.10" cy="326.96" r="1.3"/><circle cx="423.95" cy="323.55" r="1.3"/><circle cx="425.43" cy="327.36" r="1.3"/><circle cx="426.37" cy="326.07" r="1.3"/><circle cx="427.51" cy="326.78" r="1.3"/><circle cx="428.71" cy="322.50" r="1.3"/><circle cx="429.83" cy="326.01" r="1.3"/><circle cx="430.99" cy="324.09" r="1.3"/><circle cx="432.12" cy="324.72" r="1.3"/><circle cx="433.38" cy="326.09" r="1.3"/><circle cx="434.36" cy="324.04" r="1.3"/><circle cx="435.47" cy="321.06" r="1.3"/><circle cx="436.72" cy="322.62" r="1.3"/><circle cx="437.74" cy="321.55" r="1.3"/><circle cx="439.03" cy="322.81" r="1.3"/><circle cx="440.20" cy="321.90" r="1.3"/><circle cx="441.46" cy="321.88" r="1.3"/><circle cx="442.34" cy="324.48" r="1.3"/><circle cx="443.61" cy="317.71" r="1.3"/><circle cx="444.91" cy="318.90" r="1.3"/><circle cx="445.89" cy="318.37" r="1.3"/><circle cx="447.23" cy="318.27" r="1.3"/><circle cx="448.34" cy="317.28" r="1.3"/><circle cx="449.22" cy="312.99" r="1.3"/><circle cx="450.50" cy="313.79" r="1.3"/><circle cx="451.81" cy="312.06" r="1.3"/><circle cx="452.86" cy="308.38" r="1.3"/><circle cx="454.07" cy="305.48" r="1.3"/><circle cx="455.35" cy="296.87" r="1.3"/><circle cx="456.37" cy="300.05" r="1.3"/><circle cx="457.47" cy="289.39" r="1.3"/><circle cx="458.74" cy="280.91" r="1.3"/><circle cx="468.00" cy="288.28" r="1.3"/><circle cx="468.91" cy="293.10" r="1.3"/><circle cx="469.99" cy="296.89" r="1.3"/><circle cx="471.27" cy="300.26" r="1.3"/><circle cx="472.34" cy="310.82" r="1.3"/><circle cx="473.39" cy="311.36" r="1.3"/><circle cx="474.79" cy="309.88" r="1.3"/><circle cx="475.93" cy="310.42" r="1.3"/><circle cx="477.19" cy="313.99" r="1.3"/><circle cx="478.00" cy="316.90" r="1.3"/><circle cx="479.46" cy="311.03" r="1.3"/><circle cx="480.57" cy="312.19" r="1.3"/><circle cx="481.50" cy="308.27" r="1.3"/><circle cx="482.74" cy="305.93" r="1.3"/><circle cx="483.95" cy="300.61" r="1.3"/><circle cx="484.98" cy="295.63" r="1.3"/><circle cx="486.04" cy="289.88" r="1.3"/><circle cx="487.48" cy="295.34" r="1.3"/><circle cx="488.37" cy="306.68" r="1.3"/><circle cx="489.65" cy="311.14" r="1.3"/><circle cx="490.78" cy="311.20" r="1.3"/><circle cx="492.11" cy="317.53" r="1.3"/><circle cx="493.12" cy="320.54" r="1.3"/><circle cx="494.22" cy="319.99" r="1.3"/><circle cx="495.59" cy="321.29" r="1.3"/><circle cx="496.49" cy="321.84" r="1.3"/><circle cx="497.79" cy="322.94" r="1.3"/><circle cx="498.74" cy="323.06" r="1.3"/><circle cx="500.10" cy="323.59" r="1.3"/><circle cx="501.25" cy="322.78" r="1.3"/><circle cx="502.43" cy="324.36" r="1.3"/><circle cx="503.44" cy="323.73" r="1.3"/><circle cx="504.49" cy="323.51" r="1.3"/><circle cx="505.80" cy="321.51" r="1.3"/><circle cx="507.06" cy="322.39" r="1.3"/><circle cx="507.97" cy="322.65" r="1.3"/><circle cx="509.01" cy="321.22" r="1.3"/><circle cx="510.22" cy="320.26" r="1.3"/><circle cx="511.67" cy="316.92" r="1.3"/><circle cx="512.45" cy="315.55" r="1.3"/><circle cx="513.62" cy="308.13" r="1.3"/><circle cx="514.79" cy="298.17" r="1.3"/><circle cx="516.26" cy="278.53" r="1.3"/><circle cx="517.20" cy="273.97" r="1.3"/><circle cx="459.66" cy="273.27" r="1.2"/><circle cx="459.89" cy="265.27" r="1.2"/><circle cx="459.92" cy="257.28" r="1.2"/><circle cx="459.45" cy="249.28" r="1.2"/><circle cx="459.69" cy="241.28" r="1.2"/><circle cx="459.75" cy="233.29" r="1.2"/><circle cx="459.44" cy="225.29" r="1.2"/><circle cx="459.67" cy="217.30" r="1.2"/><circle cx="459.47" cy="209.30" r="1.2"/><circle cx="459.57" cy="201.30" r="1.2"/><circle cx="459.54" cy="193.31" r="1.2"/><circle cx="459.84" cy="185.31" r="1.2"/><circle cx="459.49" cy="177.32" r="1.2"/><circle cx="459.67" cy="169.32" r="1.2"/><circle cx="459.70" cy="161.32" r="1.2"/><circle cx="459.55" cy="153.33" r="1.2"/><circle cx="459.91" cy="145.33" r="1.2"/><circle cx="459.55" cy="137.34" r="1.2"/><circle cx="459.55" cy="129.34" r="1.2"/><circle cx="466.94" cy="277.27" r="1.2"/><circle cx="467.08" cy="267.50" r="1.2"/><circle cx="466.74" cy="257.73" r="1.2"/><circle cx="466.74" cy="247.96" r="1.2"/><circle cx="467.09" cy="238.19" r="1.2"/><circle cx="466.88" cy="228.42" r="1.2"/><circle cx="467.16" cy="218.65" r="1.2"/><circle cx="466.79" cy="208.88" r="1.2"/><circle cx="466.79" cy="199.11" r="1.2"/><circle cx="467.17" cy="189.34" r="1.2"/><circle cx="466.87" cy="179.56" r="1.2"/><circle cx="466.72" cy="169.79" r="1.2"/><circle cx="466.78" cy="160.02" r="1.2"/><circle cx="467.11" cy="150.25" r="1.2"/><circle cx="466.81" cy="140.48" r="1.2"/><circle cx="466.98" cy="130.71" r="1.2"/><circle cx="17.13" cy="384.12" r="1.3"/><circle cx="18.19" cy="383.63" r="1.3"/><circle cx="19.40" cy="385.38" r="1.3"/><circle cx="20.64" cy="383.56" r="1.3"/><circle cx="21.52" cy="383.80" r="1.3"/><circle cx="22.90" cy="385.08" r="1.3"/><circle cx="23.92" cy="381.47" r="1.3"/><circle cx="24.93" cy="385.21" r="1.3"/><circle cx="26.05" cy="385.09" r="1.3"/><circle cx="27.28" cy="383.71" r="1.3"/><circle cx="28.36" cy="386.37" r="1.3"/><circle cx="29.76" cy="384.99" r="1.3"/><circle cx="30.82" cy="385.87" r="1.3"/><circle cx="31.77" cy="385.20" r="1.3"/><circle cx="33.25" cy="384.20" r="1.3"/><circle cx="34.29" cy="382.74" r="1.3"/><circle cx="35.38" cy="382.72" r="1.3"/><circle cx="36.41" cy="383.08" r="1.3"/><circle cx="37.69" cy="382.63" r="1.3"/><circle cx="39.02" cy="383.34" r="1.3"/><circle cx="40.03" cy="384.61" r="1.3"/><circle cx="41.13" cy="382.71" r="1.3"/><circle cx="42.34" cy="384.63" r="1.3"/><circle cx="43.47" cy="384.78" r="1.3"/><circle cx="44.65" cy="382.21" r="1.3"/><circle cx="45.63" cy="383.10" r="1.3"/><circle cx="46.76" cy="383.78" r="1.3"/><circle cx="47.86" cy="383.14" r="1.3"/><circle cx="49.33" cy="382.99" r="1.3"/><circle cx="50.15" cy="385.68" r="1.3"/><circle cx="51.40" cy="384.16" r="1.3"/><circle cx="52.68" cy="385.46" r="1.3"/><circle cx="53.80" cy="383.90" r="1.3"/><circle cx="55.11" cy="384.85" r="1.3"/><circle cx="55.99" cy="382.42" r="1.3"/><circle cx="57.10" cy="383.42" r="1.3"/><circle cx="58.26" cy="385.02" r="1.3"/><circle cx="59.55" cy="384.07" r="1.3"/><circle cx="60.62" cy="385.50" r="1.3"/><circle cx="61.83" cy="384.00" r="1.3"/><circle cx="63.08" cy="383.39" r="1.3"/><circle cx="64.08" cy="383.73" r="1.3"/><circle cx="65.37" cy="386.36" r="1.3"/><circle cx="66.26" cy="384.45" r="1.3"/><circle cx="67.62" cy="383.44" r="1.3"/><circle cx="68.91" cy="383.68" r="1.3"/><circle cx="70.07" cy="382.66" r="1.3"/><circle cx="71.08" cy="385.59" r="1.3"/><circle cx="72.39" cy="383.42" r="1.3"/><circle cx="73.24" cy="384.83" r="1.3"/><circle cx="74.42" cy="383.81" r="1.3"/><circle cx="75.63" cy="383.56" r="1.3"/><circle cx="76.80" cy="383.22" r="1.3"/><circle cx="78.08" cy="384.74" r="1.3"/><circle cx="79.08" cy="383.82" r="1.3"/><circle cx="80.07" cy="385.45" r="1.3"/><circle cx="81.48" cy="385.74" r="1.3"/><circle cx="82.44" cy="383.38" r="1.3"/><circle cx="83.85" cy="384.11" r="1.3"/><circle cx="84.73" cy="385.99" r="1.3"/><circle cx="85.92" cy="385.07" r="1.3"/><circle cx="87.00" cy="384.02" r="1.3"/><circle cx="88.22" cy="382.18" r="1.3"/><circle cx="89.49" cy="384.45" r="1.3"/><circle cx="90.51" cy="383.09" r="1.3"/><circle cx="91.57" cy="386.19" r="1.3"/><circle cx="92.93" cy="384.16" r="1.3"/><circle cx="94.14" cy="383.47" r="1.3"/><circle cx="95.04" cy="383.57" r="1.3"/><circle cx="96.32" cy="383.55" r="1.3"/><circle cx="97.33" cy="384.32" r="1.3"/><circle cx="98.46" cy="381.94" r="1.3"/><circle cx="99.75" cy="382.27" r="1.3"/><circle cx="100.86" cy="384.16" r="1.3"/><circle cx="102.25" cy="385.22" r="1.3"/><circle cx="103.06" cy="381.58" r="1.3"/><circle cx="104.46" cy="384.71" r="1.3"/><circle cx="105.64" cy="382.61" r="1.3"/><circle cx="106.67" cy="381.75" r="1.3"/><circle cx="107.85" cy="385.18" r="1.3"/><circle cx="108.90" cy="383.69" r="1.3"/><circle cx="110.05" cy="384.46" r="1.3"/><circle cx="111.12" cy="383.43" r="1.3"/><circle cx="112.61" cy="383.66" r="1.3"/><circle cx="113.41" cy="381.71" r="1.3"/><circle cx="114.60" cy="383.33" r="1.3"/><circle cx="115.99" cy="384.05" r="1.3"/><circle cx="117.03" cy="382.69" r="1.3"/><circle cx="118.20" cy="384.37" r="1.3"/><circle cx="119.27" cy="384.48" r="1.3"/><circle cx="120.36" cy="381.35" r="1.3"/><circle cx="121.77" cy="385.03" r="1.3"/><circle cx="122.65" cy="384.63" r="1.3"/><circle cx="123.87" cy="383.99" r="1.3"/><circle cx="125.20" cy="385.31" r="1.3"/><circle cx="126.17" cy="386.57" r="1.3"/><circle cx="127.58" cy="382.77" r="1.3"/><circle cx="128.42" cy="384.98" r="1.3"/><circle cx="129.71" cy="384.69" r="1.3"/><circle cx="130.87" cy="384.49" r="1.3"/><circle cx="132.00" cy="385.22" r="1.3"/><circle cx="133.26" cy="385.33" r="1.3"/><circle cx="134.12" cy="383.85" r="1.3"/><circle cx="135.47" cy="381.16" r="1.3"/><circle cx="136.72" cy="383.15" r="1.3"/><circle cx="137.57" cy="383.14" r="1.3"/><circle cx="138.92" cy="385.85" r="1.3"/><circle cx="140.03" cy="384.07" r="1.3"/><circle cx="141.16" cy="385.46" r="1.3"/><circle cx="142.37" cy="383.11" r="1.3"/><circle cx="143.55" cy="384.31" r="1.3"/><circle cx="144.73" cy="383.99" r="1.3"/><circle cx="145.96" cy="384.14" r="1.3"/><circle cx="147.01" cy="384.74" r="1.3"/><circle cx="148.30" cy="385.86" r="1.3"/><circle cx="149.32" cy="383.34" r="1.3"/><circle cx="150.31" cy="385.70" r="1.3"/><circle cx="151.41" cy="385.45" r="1.3"/><circle cx="152.53" cy="384.39" r="1.3"/><circle cx="153.76" cy="384.88" r="1.3"/><circle cx="154.85" cy="383.72" r="1.3"/><circle cx="156.22" cy="382.82" r="1.3"/><circle cx="157.38" cy="383.74" r="1.3"/><circle cx="158.49" cy="383.80" r="1.3"/><circle cx="159.55" cy="384.01" r="1.3"/><circle cx="160.74" cy="383.00" r="1.3"/><circle cx="161.80" cy="386.25" r="1.3"/><circle cx="163.22" cy="383.59" r="1.3"/><circle cx="164.01" cy="385.15" r="1.3"/><circle cx="165.28" cy="385.51" r="1.3"/><circle cx="166.53" cy="384.03" r="1.3"/><circle cx="167.52" cy="384.50" r="1.3"/><circle cx="168.94" cy="383.33" r="1.3"/><circle cx="169.94" cy="382.71" r="1.3"/><circle cx="171.05" cy="386.82" r="1.3"/><circle cx="172.08" cy="384.12" r="1.3"/><circle cx="173.31" cy="381.68" r="1.3"/><circle cx="174.59" cy="382.99" r="1.3"/><circle cx="175.61" cy="382.29" r="1.3"/><circle cx="176.67" cy="383.91" r="1.3"/><circle cx="178.03" cy="385.75" r="1.3"/><circle cx="179.07" cy="385.38" r="1.3"/><circle cx="180.44" cy="383.17" r="1.3"/><circle cx="181.53" cy="382.88" r="1.3"/><circle cx="182.69" cy="386.51" r="1.3"/><circle cx="183.91" cy="384.35" r="1.3"/><circle cx="185.02" cy="383.71" r="1.3"/><circle cx="185.98" cy="386.13" r="1.3"/><circle cx="187.23" cy="384.45" r="1.3"/><circle cx="188.25" cy="382.08" r="1.3"/><circle cx="189.38" cy="381.40" r="1.3"/><circle cx="190.53" cy="384.16" r="1.3"/><circle cx="191.64" cy="381.83" r="1.3"/><circle cx="192.85" cy="384.66" r="1.3"/><circle cx="193.99" cy="385.00" r="1.3"/><circle cx="195.32" cy="386.71" r="1.3"/><circle cx="196.30" cy="382.87" r="1.3"/><circle cx="197.37" cy="384.47" r="1.3"/><circle cx="198.67" cy="381.21" r="1.3"/><circle cx="199.73" cy="383.62" r="1.3"/><circle cx="201.08" cy="383.80" r="1.3"/><circle cx="202.04" cy="386.19" r="1.3"/><circle cx="203.32" cy="382.22" r="1.3"/><circle cx="204.32" cy="384.46" r="1.3"/><circle cx="205.59" cy="384.21" r="1.3"/><circle cx="206.90" cy="386.67" r="1.3"/><circle cx="207.82" cy="382.91" r="1.3"/><circle cx="209.06" cy="382.83" r="1.3"/><circle cx="210.18" cy="384.74" r="1.3"/><circle cx="211.18" cy="383.90" r="1.3"/><circle cx="212.31" cy="383.54" r="1.3"/><circle cx="213.79" cy="382.86" r="1.3"/><circle cx="214.74" cy="383.89" r="1.3"/><circle cx="216.02" cy="381.94" r="1.3"/><circle cx="217.07" cy="384.30" r="1.3"/><circle cx="218.39" cy="384.74" r="1.3"/><circle cx="219.28" cy="384.57" r="1.3"/><circle cx="220.54" cy="387.06" r="1.3"/><circle cx="221.72" cy="384.98" r="1.3"/><circle cx="222.97" cy="382.80" r="1.3"/><circle cx="223.81" cy="383.69" r="1.3"/><circle cx="225.09" cy="384.99" r="1.3"/><circle cx="226.29" cy="383.59" r="1.3"/><circle cx="227.49" cy="386.43" r="1.3"/><circle cx="228.46" cy="384.35" r="1.3"/><circle cx="229.77" cy="383.37" r="1.3"/><circle cx="230.98" cy="383.17" r="1.3"/><circle cx="232.14" cy="384.93" r="1.3"/><circle cx="233.09" cy="382.91" r="1.3"/><circle cx="234.33" cy="381.76" r="1.3"/><circle cx="235.42" cy="384.51" r="1.3"/><circle cx="236.61" cy="383.11" r="1.3"/><circle cx="237.75" cy="385.87" r="1.3"/><circle cx="239.13" cy="386.36" r="1.3"/><circle cx="239.91" cy="383.67" r="1.3"/><circle cx="241.43" cy="383.94" r="1.3"/><circle cx="242.21" cy="383.76" r="1.3"/><circle cx="243.38" cy="384.70" r="1.3"/><circle cx="244.58" cy="384.35" r="1.3"/><circle cx="245.76" cy="383.02" r="1.3"/><circle cx="247.14" cy="381.93" r="1.3"/><circle cx="248.29" cy="384.25" r="1.3"/><circle cx="249.47" cy="385.97" r="1.3"/><circle cx="250.41" cy="382.46" r="1.3"/><circle cx="251.41" cy="383.26" r="1.3"/><circle cx="252.80" cy="383.17" r="1.3"/><circle cx="254.06" cy="383.77" r="1.3"/><circle cx="254.89" cy="381.19" r="1.3"/><circle cx="256.33" cy="383.89" r="1.3"/><circle cx="257.15" cy="383.36" r="1.3"/><circle cx="258.59" cy="386.21" r="1.3"/><circle cx="259.65" cy="384.68" r="1.3"/><circle cx="260.96" cy="384.81" r="1.3"/><circle cx="262.10" cy="384.01" r="1.3"/><circle cx="262.92" cy="383.56" r="1.3"/><circle cx="264.25" cy="384.88" r="1.3"/><circle cx="265.30" cy="381.90" r="1.3"/><circle cx="266.53" cy="385.26" r="1.3"/><circle cx="267.53" cy="384.52" r="1.3"/><circle cx="268.79" cy="383.69" r="1.3"/><circle cx="269.96" cy="385.48" r="1.3"/><circle cx="270.95" cy="383.28" r="1.3"/><circle cx="272.29" cy="383.21" r="1.3"/><circle cx="273.61" cy="384.32" r="1.3"/><circle cx="274.42" cy="381.67" r="1.3"/><circle cx="275.93" cy="383.87" r="1.3"/><circle cx="276.90" cy="383.63" r="1.3"/><circle cx="277.93" cy="385.12" r="1.3"/><circle cx="279.39" cy="385.98" r="1.3"/><circle cx="280.34" cy="384.72" r="1.3"/><circle cx="281.47" cy="384.35" r="1.3"/><circle cx="282.60" cy="384.51" r="1.3"/><circle cx="283.95" cy="383.03" r="1.3"/><circle cx="284.80" cy="386.83" r="1.3"/><circle cx="285.98" cy="382.26" r="1.3"/><circle cx="287.16" cy="386.15" r="1.3"/><circle cx="288.22" cy="382.34" r="1.3"/><circle cx="289.69" cy="384.63" r="1.3"/><circle cx="290.70" cy="384.57" r="1.3"/><circle cx="291.89" cy="385.27" r="1.3"/><circle cx="293.15" cy="382.86" r="1.3"/><circle cx="294.15" cy="384.44" r="1.3"/><circle cx="295.21" cy="383.68" r="1.3"/><circle cx="296.46" cy="386.39" r="1.3"/><circle cx="297.60" cy="382.53" r="1.3"/><circle cx="298.67" cy="383.46" r="1.3"/><circle cx="299.79" cy="383.27" r="1.3"/><circle cx="300.99" cy="382.45" r="1.3"/><circle cx="302.29" cy="384.16" r="1.3"/><circle cx="303.22" cy="384.13" r="1.3"/><circle cx="304.70" cy="383.06" r="1.3"/><circle cx="305.54" cy="383.41" r="1.3"/><circle cx="306.71" cy="384.22" r="1.3"/><circle cx="307.80" cy="383.87" r="1.3"/><circle cx="309.06" cy="384.52" r="1.3"/><circle cx="310.20" cy="383.05" r="1.3"/><circle cx="311.47" cy="382.78" r="1.3"/><circle cx="312.71" cy="383.89" r="1.3"/><circle cx="313.60" cy="381.62" r="1.3"/><circle cx="314.97" cy="385.72" r="1.3"/><circle cx="315.92" cy="384.14" r="1.3"/><circle cx="317.11" cy="381.77" r="1.3"/><circle cx="318.15" cy="384.31" r="1.3"/><circle cx="319.61" cy="385.68" r="1.3"/><circle cx="320.55" cy="382.02" r="1.3"/><circle cx="321.83" cy="382.97" r="1.3"/><circle cx="322.71" cy="385.01" r="1.3"/><circle cx="324.13" cy="382.49" r="1.3"/><circle cx="325.09" cy="384.57" r="1.3"/><circle cx="326.33" cy="384.79" r="1.3"/><circle cx="327.57" cy="383.13" r="1.3"/><circle cx="328.52" cy="383.35" r="1.3"/><circle cx="329.81" cy="383.82" r="1.3"/><circle cx="331.08" cy="382.58" r="1.3"/><circle cx="331.97" cy="383.13" r="1.3"/><circle cx="333.24" cy="381.40" r="1.3"/><circle cx="334.27" cy="381.15" r="1.3"/><circle cx="335.41" cy="379.76" r="1.3"/><circle cx="336.70" cy="380.03" r="1.3"/><circle cx="337.83" cy="381.51" r="1.3"/><circle cx="339.06" cy="381.06" r="1.3"/><circle cx="340.29" cy="379.24" r="1.3"/><circle cx="341.38" cy="376.56" r="1.3"/><circle cx="342.38" cy="377.18" r="1.3"/><circle cx="343.59" cy="378.86" r="1.3"/><circle cx="344.82" cy="376.56" r="1.3"/><circle cx="346.04" cy="379.22" r="1.3"/><circle cx="347.12" cy="376.44" r="1.3"/><circle cx="348.20" cy="378.22" r="1.3"/><circle cx="349.20" cy="376.85" r="1.3"/><circle cx="350.65" cy="377.42" r="1.3"/><circle cx="351.56" cy="378.92" r="1.3"/><circle cx="352.76" cy="378.60" r="1.3"/><circle cx="354.10" cy="381.00" r="1.3"/><circle cx="354.98" cy="380.12" r="1.3"/><circle cx="356.42" cy="379.30" r="1.3"/><circle cx="357.29" cy="375.89" r="1.3"/><circle cx="358.38" cy="380.62" r="1.3"/><circle cx="359.71" cy="381.88" r="1.3"/><circle cx="360.97" cy="383.63" r="1.3"/><circle cx="361.96" cy="381.34" r="1.3"/><circle cx="363.29" cy="384.96" r="1.3"/><circle cx="364.26" cy="384.08" r="1.3"/><circle cx="365.58" cy="382.83" r="1.3"/><circle cx="366.45" cy="384.82" r="1.3"/><circle cx="367.66" cy="381.57" r="1.3"/><circle cx="368.75" cy="382.17" r="1.3"/><circle cx="370.15" cy="384.23" r="1.3"/><circle cx="371.19" cy="384.23" r="1.3"/><circle cx="372.41" cy="385.17" r="1.3"/><circle cx="373.40" cy="385.27" r="1.3"/><circle cx="374.74" cy="383.02" r="1.3"/><circle cx="376.00" cy="382.79" r="1.3"/><circle cx="376.78" cy="383.11" r="1.3"/><circle cx="378.03" cy="383.19" r="1.3"/><circle cx="379.40" cy="384.17" r="1.3"/><circle cx="380.54" cy="383.02" r="1.3"/><circle cx="381.70" cy="385.22" r="1.3"/><circle cx="382.59" cy="383.39" r="1.3"/><circle cx="383.88" cy="381.56" r="1.3"/><circle cx="384.83" cy="381.70" r="1.3"/><circle cx="386.12" cy="383.81" r="1.3"/><circle cx="387.33" cy="383.58" r="1.3"/><circle cx="388.35" cy="383.11" r="1.3"/><circle cx="389.57" cy="380.77" r="1.3"/><circle cx="390.70" cy="384.64" r="1.3"/><circle cx="391.73" cy="383.12" r="1.3"/><circle cx="392.88" cy="381.96" r="1.3"/><circle cx="394.31" cy="379.99" r="1.3"/><circle cx="395.15" cy="379.80" r="1.3"/><circle cx="396.69" cy="377.23" r="1.3"/><circle cx="397.81" cy="374.68" r="1.3"/><circle cx="398.99" cy="367.54" r="1.3"/><circle cx="400.06" cy="372.35" r="1.3"/><circle cx="400.90" cy="376.99" r="1.3"/><circle cx="402.10" cy="380.06" r="1.3"/><circle cx="403.33" cy="379.71" r="1.3"/><circle cx="404.42" cy="380.86" r="1.3"/><circle cx="405.52" cy="383.44" r="1.3"/><circle cx="407.02" cy="382.11" r="1.3"/><circle cx="408.16" cy="384.16" r="1.3"/><circle cx="409.26" cy="383.51" r="1.3"/><circle cx="410.20" cy="384.21" r="1.3"/><circle cx="411.59" cy="384.27" r="1.3"/><circle cx="412.73" cy="383.48" r="1.3"/><circle cx="413.68" cy="383.83" r="1.3"/><circle cx="414.75" cy="381.95" r="1.3"/><circle cx="415.90" cy="381.58" r="1.3"/><circle cx="417.16" cy="382.81" r="1.3"/><circle cx="418.48" cy="383.84" r="1.3"/><circle cx="419.33" cy="381.42" r="1.3"/><circle cx="420.62" cy="384.84" r="1.3"/><circle cx="421.74" cy="384.66" r="1.3"/><circle cx="423.11" cy="381.26" r="1.3"/><circle cx="423.96" cy="381.28" r="1.3"/><circle cx="425.31" cy="380.76" r="1.3"/><circle cx="426.33" cy="382.14" r="1.3"/><circle cx="427.61" cy="383.31" r="1.3"/><circle cx="428.83" cy="382.22" r="1.3"/><circle cx="429.98" cy="380.72" r="1.3"/><circle cx="431.14" cy="382.22" r="1.3"/><circle cx="432.07" cy="381.99" r="1.3"/><circle cx="433.21" cy="382.67" r="1.3"/><circle cx="434.30" cy="382.16" r="1.3"/><circle cx="435.50" cy="379.34" r="1.3"/><circle cx="436.60" cy="379.55" r="1.3"/><circle cx="438.01" cy="381.23" r="1.3"/><circle cx="438.87" cy="380.85" r="1.3"/><circle cx="440.08" cy="379.75" r="1.3"/><circle cx="441.47" cy="377.71" r="1.3"/><circle cx="442.61" cy="379.41" r="1.3"/><circle cx="443.84" cy="377.39" r="1.3"/><circle cx="444.75" cy="379.46" r="1.3"/><circle cx="445.77" cy="377.51" r="1.3"/><circle cx="447.22" cy="373.90" r="1.3"/><circle cx="448.16" cy="372.21" r="1.3"/><circle cx="449.51" cy="373.42" r="1.3"/><circle cx="450.36" cy="371.58" r="1.3"/><circle cx="451.51" cy="367.13" r="1.3"/><circle cx="452.89" cy="365.83" r="1.3"/><circle cx="454.07" cy="362.73" r="1.3"/><circle cx="455.17" cy="357.09" r="1.3"/><circle cx="456.31" cy="352.77" r="1.3"/><circle cx="457.49" cy="344.91" r="1.3"/><circle cx="458.45" cy="339.68" r="1.3"/><circle cx="467.71" cy="342.28" r="1.3"/><circle cx="469.12" cy="350.42" r="1.3"/><circle cx="470.28" cy="356.16" r="1.3"/><circle cx="471.07" cy="361.60" r="1.3"/><circle cx="472.39" cy="365.13" r="1.3"/><circle cx="473.45" cy="364.57" r="1.3"/><circle cx="474.63" cy="370.60" r="1.3"/><circle cx="475.66" cy="368.00" r="1.3"/><circle cx="476.83" cy="369.98" r="1.3"/><circle cx="477.96" cy="370.94" r="1.3"/><circle cx="479.15" cy="369.65" r="1.3"/><circle cx="480.51" cy="368.34" r="1.3"/><circle cx="481.43" cy="365.37" r="1.3"/><circle cx="482.90" cy="362.89" r="1.3"/><circle cx="484.02" cy="357.06" r="1.3"/><circle cx="484.96" cy="352.40" r="1.3"/><circle cx="486.28" cy="346.45" r="1.3"/><circle cx="487.53" cy="353.55" r="1.3"/><circle cx="488.35" cy="361.62" r="1.3"/><circle cx="489.67" cy="367.40" r="1.3"/><circle cx="490.79" cy="371.92" r="1.3"/><circle cx="491.87" cy="373.59" r="1.3"/><circle cx="493.02" cy="375.29" r="1.3"/><circle cx="494.08" cy="373.83" r="1.3"/><circle cx="495.46" cy="380.52" r="1.3"/><circle cx="496.43" cy="377.38" r="1.3"/><circle cx="497.67" cy="378.76" r="1.3"/><circle cx="499.02" cy="380.70" r="1.3"/><circle cx="499.94" cy="380.21" r="1.3"/><circle cx="501.08" cy="380.86" r="1.3"/><circle cx="502.47" cy="380.31" r="1.3"/><circle cx="503.48" cy="379.13" r="1.3"/><circle cx="504.63" cy="382.31" r="1.3"/><circle cx="505.64" cy="378.57" r="1.3"/><circle cx="506.96" cy="380.43" r="1.3"/><circle cx="508.00" cy="377.61" r="1.3"/><circle cx="509.22" cy="378.27" r="1.3"/><circle cx="510.31" cy="376.11" r="1.3"/><circle cx="511.33" cy="375.40" r="1.3"/><circle cx="512.80" cy="370.48" r="1.3"/><circle cx="513.88" cy="366.09" r="1.3"/><circle cx="515.13" cy="354.57" r="1.3"/><circle cx="516.02" cy="337.66" r="1.3"/><circle cx="517.16" cy="328.33" r="1.3"/><circle cx="459.66" cy="330.27" r="1.2"/><circle cx="459.80" cy="320.74" r="1.2"/><circle cx="459.88" cy="311.21" r="1.2"/><circle cx="459.86" cy="301.68" r="1.2"/><circle cx="459.56" cy="292.15" r="1.2"/><circle cx="459.65" cy="282.62" r="1.2"/><circle cx="459.92" cy="273.09" r="1.2"/><circle cx="459.65" cy="263.56" r="1.2"/><circle cx="459.83" cy="254.04" r="1.2"/><circle cx="459.66" cy="244.51" r="1.2"/><circle cx="459.85" cy="234.98" r="1.2"/><circle cx="459.39" cy="225.45" r="1.2"/><circle cx="459.35" cy="215.92" r="1.2"/><circle cx="459.40" cy="206.39" r="1.2"/><circle cx="459.61" cy="196.86" r="1.2"/><circle cx="459.57" cy="187.33" r="1.2"/><circle cx="459.93" cy="177.81" r="1.2"/><circle cx="459.95" cy="168.28" r="1.2"/><circle cx="459.43" cy="158.75" r="1.2"/><circle cx="459.85" cy="149.22" r="1.2"/><circle cx="459.66" cy="139.69" r="1.2"/><circle cx="459.85" cy="130.16" r="1.2"/><circle cx="467.11" cy="334.27" r="1.2"/><circle cx="466.65" cy="325.79" r="1.2"/><circle cx="466.93" cy="317.32" r="1.2"/><circle cx="466.85" cy="308.84" r="1.2"/><circle cx="466.80" cy="300.36" r="1.2"/><circle cx="466.83" cy="291.89" r="1.2"/><circle cx="466.90" cy="283.41" r="1.2"/><circle cx="466.95" cy="274.93" r="1.2"/><circle cx="466.96" cy="266.46" r="1.2"/><circle cx="467.09" cy="257.98" r="1.2"/><circle cx="467.15" cy="249.50" r="1.2"/><circle cx="467.23" cy="241.03" r="1.2"/><circle cx="467.05" cy="232.55" r="1.2"/><circle cx="466.80" cy="224.07" r="1.2"/><circle cx="467.00" cy="215.60" r="1.2"/><circle cx="466.91" cy="207.12" r="1.2"/><circle cx="466.79" cy="198.64" r="1.2"/><circle cx="466.85" cy="190.17" r="1.2"/><circle cx="466.79" cy="181.69" r="1.2"/><circle cx="466.97" cy="173.21" r="1.2"/><circle cx="466.69" cy="164.74" r="1.2"/><circle cx="466.98" cy="156.26" r="1.2"/><circle cx="466.90" cy="147.78" r="1.2"/><circle cx="466.65" cy="139.31" r="1.2"/><circle cx="466.82" cy="130.83" r="1.2"/></g>
</g>
<g clip-path="url(#pb)">
<path d="M16.50,214.48 L17.00,214.48 L17.50,214.48 L18.00,214.48 L18.50,214.48 L19.00,214.48 L19.50,214.48 L20.00,214.48 L20.50,214.48 L21.00,214.48 L21.50,214.48 L22.00,214.48 L22.50,214.48 L23.00,214.48 L23.50,214.48 L24.00,214.48 L24.50,214.48 L25.00,214.48 L25.50,214.48 L26.00,214.48 L26.50,214.48 L27.00,214.48 L27.50,214.48 L28.00,214.48 L28.50,214.48 L29.00,214.48 L29.50,214.48 L30.00,214.48 L30.50,214.48 L31.00,214.48 L31.50,214.48 L32.00,214.48 L32.50,214.48 L33.00,214.48 L33.50,214.48 L34.00,214.48 L34.50,214.48 L35.00,214.48 L35.50,214.48 L36.00,214.48 L36.50,214.48 L37.00,214.48 L37.50,214.48 L38.00,214.48 L38.50,214.48 L39.00,214.48 L39.50,214.48 L40.00,214.48 L40.50,214.48 L41.00,214.48 L41.50,214.48 L42.00,214.48 L42.50,214.48 L43.00,214.48 L43.50,214.48 L44.00,214.48 L44.50,214.48 L45.00,214.48 L45.50,214.48 L46.00,214.48 L46.50,214.48 L47.00,214.48 L47.50,214.48 L48.00,214.48 L48.50,214.48 L49.00,214.48 L49.50,214.48 L50.00,214.48 L50.50,214.48 L51.00,214.48 L51.50,214.48 L52.00,214.48 L52.50,214.48 L53.00,214.48 L53.50,214.48 L54.00,214.48 L54.50,214.48 L55.00,214.48 L55.50,214.48 L56.00,214.48 L56.50,214.48 L57.00,214.48 L57.50,214.48 L58.00,214.48 L58.50,214.48 L59.00,214.48 L59.50,214.48 L60.00,214.48 L60.50,214.48 L61.00,214.48 L61.50,214.48 L62.00,214.48 L62.50,214.48 L63.00,214.48 L63.50,214.48 L64.00,214.48 L64.50,214.48 L65.00,214.48 L65.50,214.48 L66.00,214.48 L66.50,214.48 L67.00,214.48 L67.50,214.48 L68.00,214.48 L68.50,214.48 L69.00,214.48 L69.50,214.48 L70.00,214.48 L70.50,214.48 L71.00,214.48 L71.50,214.48 L72.00,214.48 L72.50,214.48 L73.00,214.48 L73.50,214.48 L74.00,214.48 L74.50,214.48 L75.00,214.48 L75.50,214.48 L76.00,214.48 L76.50,214.48 L77.00,214.48 L77.50,214.48 L78.00,214.48 L78.50,214.48 L79.00,214.48 L79.50,214.48 L80.00,214.48 L80.50,214.48 L81.00,214.48 L81.50,214.48 L82.00,214.48 L82.50,214.48 L83.00,214.48 L83.50,214.48 L84.00,214.48 L84.50,214.48 L85.00,214.48 L85.50,214.48 L86.00,214.48 L86.50,214.48 L87.00,214.48 L87.50,214.48 L88.00,214.48 L88.50,214.48 L89.00,214.48 L89.50,214.48 L90.00,214.48 L90.50,214.48 L91.00,214.48 L91.50,214.48 L92.00,214.48 L92.50,214.48 L93.00,214.48 L93.50,214.48 L94.00,214.48 L94.50,214.48 L95.00,214.48 L95.50,214.48 L96.00,214.48 L96.50,214.48 L97.00,214.48 L97.50,214.48 L98.00,214.48 L98.50,214.48 L99.00,214.48 L99.50,214.48 L100.00,214.48 L100.50,214.48 L101.00,214.48 L101.50,214.47 L102.00,214.47 L102.50,214.47 L103.00,214.47 L103.50,214.47 L104.00,214.47 L104.50,214.47 L105.00,214.47 L105.50,214.47 L106.00,214.47 L106.50,214.47 L107.00,214.47 L107.50,214.47 L108.00,214.47 L108.50,214.47 L109.00,214.47 L109.50,214.47 L110.00,214.47 L110.50,214.47 L111.00,214.47 L111.50,214.47 L112.00,214.47 L112.50,214.47 L113.00,214.47 L113.50,214.47 L114.00,214.47 L114.50,214.47 L115.00,214.47 L115.50,214.47 L116.00,214.47 L116.50,214.47 L117.00,214.47 L117.50,214.47 L118.00,214.47 L118.50,214.47 L119.00,214.47 L119.50,214.47 L120.00,214.47 L120.50,214.47 L121.00,214.47 L121.50,214.47 L122.00,214.47 L122.50,214.47 L123.00,214.47 L123.50,214.47 L124.00,214.47 L124.50,214.47 L125.00,214.47 L125.50,214.47 L126.00,214.47 L126.50,214.47 L127.00,214.47 L127.50,214.47 L128.00,214.47 L128.50,214.47 L129.00,214.47 L129.50,214.47 L130.00,214.47 L130.50,214.47 L131.00,214.47 L131.50,214.47 L132.00,214.47 L132.50,214.47 L133.00,214.47 L133.50,214.47 L134.00,214.47 L134.50,214.47 L135.00,214.47 L135.50,214.47 L136.00,214.47 L136.50,214.47 L137.00,214.47 L137.50,214.47 L138.00,214.47 L138.50,214.47 L139.00,214.47 L139.50,214.47 L140.00,214.47 L140.50,214.47 L141.00,214.47 L141.50,214.47 L142.00,214.47 L142.50,214.47 L143.00,214.47 L143.50,214.47 L144.00,214.47 L144.50,214.47 L145.00,214.47 L145.50,214.47 L146.00,214.47 L146.50,214.47 L147.00,214.47 L147.50,214.47 L148.00,214.47 L148.50,214.47 L149.00,214.47 L149.50,214.47 L150.00,214.47 L150.50,214.47 L151.00,214.47 L151.50,214.47 L152.00,214.47 L152.50,214.47 L153.00,214.47 L153.50,214.47 L154.00,214.47 L154.50,214.47 L155.00,214.47 L155.50,214.47 L156.00,214.47 L156.50,214.47 L157.00,214.47 L157.50,214.47 L158.00,214.46 L158.50,214.46 L159.00,214.46 L159.50,214.46 L160.00,214.46 L160.50,214.46 L161.00,214.46 L161.50,214.46 L162.00,214.46 L162.50,214.46 L163.00,214.46 L163.50,214.46 L164.00,214.46 L164.50,214.46 L165.00,214.46 L165.50,214.46 L166.00,214.46 L166.50,214.46 L167.00,214.46 L167.50,214.46 L168.00,214.46 L168.50,214.46 L169.00,214.46 L169.50,214.46 L170.00,214.46 L170.50,214.46 L171.00,214.46 L171.50,214.46 L172.00,214.46 L172.50,214.46 L173.00,214.46 L173.50,214.46 L174.00,214.46 L174.50,214.46 L175.00,214.46 L175.50,214.46 L176.00,214.46 L176.50,214.46 L177.00,214.46 L177.50,214.46 L178.00,214.46 L178.50,214.46 L179.00,214.46 L179.50,214.46 L180.00,214.46 L180.50,214.46 L181.00,214.46 L181.50,214.46 L182.00,214.46 L182.50,214.46 L183.00,214.46 L183.50,214.46 L184.00,214.46 L184.50,214.46 L185.00,214.46 L185.50,214.46 L186.00,214.46 L186.50,214.46 L187.00,214.46 L187.50,214.46 L188.00,214.46 L188.50,214.46 L189.00,214.46 L189.50,214.46 L190.00,214.46 L190.50,214.46 L191.00,214.46 L191.50,214.46 L192.00,214.46 L192.50,214.46 L193.00,214.46 L193.50,214.46 L194.00,214.46 L194.50,214.45 L195.00,214.45 L195.50,214.45 L196.00,214.45 L196.50,214.45 L197.00,214.45 L197.50,214.45 L198.00,214.45 L198.50,214.45 L199.00,214.45 L199.50,214.45 L200.00,214.45 L200.50,214.45 L201.00,214.45 L201.50,214.45 L202.00,214.45 L202.50,214.45 L203.00,214.45 L203.50,214.45 L204.00,214.45 L204.50,214.45 L205.00,214.45 L205.50,214.45 L206.00,214.45 L206.50,214.45 L207.00,214.45 L207.50,214.45 L208.00,214.45 L208.50,214.45 L209.00,214.45 L209.50,214.45 L210.00,214.45 L210.50,214.45 L211.00,214.45 L211.50,214.45 L212.00,214.45 L212.50,214.45 L213.00,214.45 L213.50,214.45 L214.00,214.45 L214.50,214.45 L215.00,214.45 L215.50,214.45 L216.00,214.45 L216.50,214.45 L217.00,214.45 L217.50,214.45 L218.00,214.45 L218.50,214.45 L219.00,214.45 L219.50,214.45 L220.00,214.45 L220.50,214.44 L221.00,214.44 L221.50,214.44 L222.00,214.44 L222.50,214.44 L223.00,214.44 L223.50,214.44 L224.00,214.44 L224.50,214.44 L225.00,214.44 L225.50,214.44 L226.00,214.44 L226.50,214.44 L227.00,214.44 L227.50,214.44 L228.00,214.44 L228.50,214.44 L229.00,214.44 L229.50,214.44 L230.00,214.44 L230.50,214.44 L231.00,214.44 L231.50,214.44 L232.00,214.44 L232.50,214.44 L233.00,214.44 L233.50,214.44 L234.00,214.44 L234.50,214.44 L235.00,214.44 L235.50,214.44 L236.00,214.44 L236.50,214.44 L237.00,214.44 L237.50,214.44 L238.00,214.44 L238.50,214.44 L239.00,214.44 L239.50,214.44 L240.00,214.43 L240.50,214.43 L241.00,214.43 L241.50,214.43 L242.00,214.43 L242.50,214.43 L243.00,214.43 L243.50,214.43 L244.00,214.43 L244.50,214.43 L245.00,214.43 L245.50,214.43 L246.00,214.43 L246.50,214.43 L247.00,214.43 L247.50,214.43 L248.00,214.43 L248.50,214.43 L249.00,214.43 L249.50,214.43 L250.00,214.43 L250.50,214.43 L251.00,214.43 L251.50,214.43 L252.00,214.43 L252.50,214.43 L253.00,214.43 L253.50,214.43 L254.00,214.43 L254.50,214.43 L255.00,214.43 L255.50,214.42 L256.00,214.42 L256.50,214.42 L257.00,214.42 L257.50,214.42 L258.00,214.42 L258.50,214.42 L259.00,214.42 L259.50,214.42 L260.00,214.42 L260.50,214.42 L261.00,214.42 L261.50,214.42 L262.00,214.42 L262.50,214.42 L263.00,214.42 L263.50,214.42 L264.00,214.42 L264.50,214.42 L265.00,214.42 L265.50,214.42 L266.00,214.42 L266.50,214.42 L267.00,214.42 L267.50,214.42 L268.00,214.41 L268.50,214.41 L269.00,214.41 L269.50,214.41 L270.00,214.41 L270.50,214.41 L271.00,214.41 L271.50,214.41 L272.00,214.41 L272.50,214.41 L273.00,214.41 L273.50,214.41 L274.00,214.41 L274.50,214.41 L275.00,214.41 L275.50,214.41 L276.00,214.41 L276.50,214.41 L277.00,214.41 L277.50,214.41 L278.00,214.41 L278.50,214.41 L279.00,214.40 L279.50,214.40 L280.00,214.40 L280.50,214.40 L281.00,214.40 L281.50,214.40 L282.00,214.40 L282.50,214.40 L283.00,214.40 L283.50,214.40 L284.00,214.40 L284.50,214.40 L285.00,214.40 L285.50,214.40 L286.00,214.40 L286.50,214.40 L287.00,214.40 L287.50,214.40 L288.00,214.39 L288.50,214.39 L289.00,214.39 L289.50,214.39 L290.00,214.39 L290.50,214.39 L291.00,214.39 L291.50,214.39 L292.00,214.39 L292.50,214.39 L293.00,214.39 L293.50,214.39 L294.00,214.39 L294.50,214.39 L295.00,214.39 L295.50,214.38 L296.00,214.38 L296.50,214.38 L297.00,214.38 L297.50,214.38 L298.00,214.38 L298.50,214.38 L299.00,214.38 L299.50,214.38 L300.00,214.38 L300.50,214.38 L301.00,214.38 L301.50,214.38 L302.00,214.38 L302.50,214.37 L303.00,214.37 L303.50,214.37 L304.00,214.37 L304.50,214.37 L305.00,214.37 L305.50,214.37 L306.00,214.37 L306.50,214.37 L307.00,214.37 L307.50,214.37 L308.00,214.37 L308.50,214.36 L309.00,214.36 L309.50,214.36 L310.00,214.36 L310.50,214.36 L311.00,214.36 L311.50,214.36 L312.00,214.36 L312.50,214.36 L313.00,214.36 L313.50,214.35 L314.00,214.35 L314.50,214.35 L315.00,214.35 L315.50,214.35 L316.00,214.35 L316.50,214.35 L317.00,214.34 L317.50,214.34 L318.00,214.34 L318.50,214.34 L319.00,214.33 L319.50,214.33 L320.00,214.33 L320.50,214.32 L321.00,214.32 L321.50,214.31 L322.00,214.31 L322.50,214.30 L323.00,214.29 L323.50,214.28 L324.00,214.28 L324.50,214.26 L325.00,214.25 L325.50,214.24 L326.00,214.22 L326.50,214.21 L327.00,214.19 L327.50,214.16 L328.00,214.14 L328.50,214.11 L329.00,214.08 L329.50,214.05 L330.00,214.01 L330.50,213.97 L331.00,213.92 L331.50,213.87 L332.00,213.81 L332.50,213.75 L333.00,213.69 L333.50,213.61 L334.00,213.53 L334.50,213.45 L335.00,213.35 L335.50,213.25 L336.00,213.15 L336.50,213.03 L337.00,212.91 L337.50,212.78 L338.00,212.64 L338.50,212.50 L339.00,212.34 L339.50,212.18 L340.00,212.01 L340.50,211.84 L341.00,211.65 L341.50,211.47 L342.00,211.27 L342.50,211.07 L343.00,210.87 L343.50,210.66 L344.00,210.45 L344.50,210.23 L345.00,210.02 L345.50,209.81 L346.00,209.59 L346.50,209.38 L347.00,209.17 L347.50,208.97 L348.00,208.77 L348.50,208.58 L349.00,208.40 L349.50,208.23 L350.00,208.07 L350.50,207.92 L351.00,207.78 L351.50,207.65 L352.00,207.54 L352.50,207.45 L353.00,207.37 L353.50,207.30 L354.00,207.26 L354.50,207.23 L355.00,207.22 L355.50,207.23 L356.00,207.28 L356.50,207.37 L357.00,207.49 L357.50,207.64 L358.00,207.81 L358.50,208.02 L359.00,208.25 L359.50,208.50 L360.00,208.76 L360.50,209.04 L361.00,209.33 L361.50,209.63 L362.00,209.93 L362.50,210.23 L363.00,210.52 L363.50,210.81 L364.00,211.09 L364.50,211.37 L365.00,211.63 L365.50,211.87 L366.00,212.10 L366.50,212.32 L367.00,212.52 L367.50,212.71 L368.00,212.87 L368.50,213.03 L369.00,213.17 L369.50,213.29 L370.00,213.40 L370.50,213.49 L371.00,213.58 L371.50,213.65 L372.00,213.71 L372.50,213.77 L373.00,213.81 L373.50,213.85 L374.00,213.88 L374.50,213.90 L375.00,213.92 L375.50,213.94 L376.00,213.95 L376.50,213.95 L377.00,213.96 L377.50,213.96 L378.00,213.96 L378.50,213.96 L379.00,213.95 L379.50,213.95 L380.00,213.94 L380.50,213.93 L381.00,213.92 L381.50,213.91 L382.00,213.90 L382.50,213.88 L383.00,213.87 L383.50,213.85 L384.00,213.84 L384.50,213.82 L385.00,213.80 L385.50,213.78 L386.00,213.75 L386.50,213.72 L387.00,213.70 L387.50,213.66 L388.00,213.63 L388.50,213.59 L389.00,213.54 L389.50,213.49 L390.00,213.43 L390.50,213.36 L391.00,213.28 L391.50,213.19 L392.00,213.07 L392.50,212.93 L393.00,212.77 L393.50,212.56 L394.00,212.29 L394.50,211.95 L395.00,211.50 L395.50,210.91 L396.00,210.13 L396.50,209.08 L397.00,207.73 L397.50,206.14 L398.00,204.63 L398.50,203.82 L399.00,204.17 L399.50,205.46 L400.00,207.05 L400.50,208.49 L401.00,209.64 L401.50,210.50 L402.00,211.14 L402.50,211.62 L403.00,211.98 L403.50,212.25 L404.00,212.46 L404.50,212.62 L405.00,212.74 L405.50,212.84 L406.00,212.92 L406.50,212.99 L407.00,213.04 L407.50,213.08 L408.00,213.11 L408.50,213.13 L409.00,213.15 L409.50,213.16 L410.00,213.17 L410.50,213.18 L411.00,213.18 L411.50,213.18 L412.00,213.18 L412.50,213.17 L413.00,213.16 L413.50,213.15 L414.00,213.14 L414.50,213.13 L415.00,213.11 L415.50,213.10 L416.00,213.08 L416.50,213.06 L417.00,213.04 L417.50,213.02 L418.00,212.99 L418.50,212.97 L419.00,212.94 L419.50,212.91 L420.00,212.88 L420.50,212.85 L421.00,212.82 L421.50,212.79 L422.00,212.76 L422.50,212.72 L423.00,212.68 L423.50,212.64 L424.00,212.60 L424.50,212.56 L425.00,212.51 L425.50,212.47 L426.00,212.42 L426.50,212.37 L427.00,212.32 L427.50,212.26 L428.00,212.20 L428.50,212.14 L429.00,212.08 L429.50,212.02 L430.00,211.95 L430.50,211.88 L431.00,211.80 L431.50,211.73 L432.00,211.65 L432.50,211.56 L433.00,211.47 L433.50,211.38 L434.00,211.28 L434.50,211.18 L435.00,211.07 L435.50,210.96 L436.00,210.84 L436.50,210.71 L437.00,210.58 L437.50,210.44 L438.00,210.30 L438.50,210.14 L439.00,209.98 L439.50,209.80 L440.00,209.62 L440.50,209.43 L441.00,209.22 L441.50,209.00 L442.00,208.77 L442.50,208.53 L443.00,208.26 L443.50,207.98 L444.00,207.69 L444.50,207.37 L445.00,207.02 L445.50,206.66 L446.00,206.27 L446.50,205.84 L447.00,205.39 L447.50,204.90 L448.00,204.37 L448.50,203.80 L449.00,203.19 L449.50,202.52 L450.00,201.79 L450.50,201.00 L451.00,200.15 L451.50,199.21 L452.00,198.19 L452.50,197.08 L453.00,195.86 L453.50,194.53 L454.00,193.07 L454.50,191.48 L455.00,189.73 L455.50,187.83 L456.00,185.74 L456.50,183.48 L457.00,181.02 L457.50,178.37 L458.00,175.54 L458.50,172.53 L459.00,169.39 L459.50,166.15 L459.65,165.17 L459.65,100.00 L466.95,100.00 L466.95,167.17 L467.00,167.54 L467.50,171.17 L468.00,174.62 L468.50,177.85 L469.00,180.82 L469.50,183.52 L470.00,185.96 L470.50,188.16 L471.00,190.12 L471.50,191.87 L472.00,193.43 L472.50,194.81 L473.00,196.03 L473.50,197.10 L474.00,198.03 L474.50,198.85 L475.00,199.54 L475.50,200.13 L476.00,200.61 L476.50,200.99 L477.00,201.27 L477.50,201.45 L478.00,201.52 L478.50,201.48 L479.00,201.31 L479.50,201.00 L480.00,200.54 L480.50,199.89 L481.00,199.03 L481.50,197.93 L482.00,196.55 L482.50,194.85 L483.00,192.82 L483.50,190.48 L484.00,187.91 L484.50,185.32 L485.00,183.04 L485.50,181.48 L486.00,181.01 L486.50,181.78 L487.00,183.64 L487.50,186.22 L488.00,189.12 L488.50,191.99 L489.00,194.66 L489.50,197.02 L490.00,199.06 L490.50,200.80 L491.00,202.27 L491.50,203.51 L492.00,204.57 L492.50,205.47 L493.00,206.23 L493.50,206.89 L494.00,207.45 L494.50,207.94 L495.00,208.37 L495.50,208.74 L496.00,209.07 L496.50,209.35 L497.00,209.61 L497.50,209.83 L498.00,210.02 L498.50,210.19 L499.00,210.35 L499.50,210.48 L500.00,210.59 L500.50,210.69 L501.00,210.77 L501.50,210.83 L502.00,210.89 L502.50,210.92 L503.00,210.95 L503.50,210.96 L504.00,210.95 L504.50,210.92 L505.00,210.88 L505.50,210.82 L506.00,210.74 L506.50,210.63 L507.00,210.50 L507.50,210.33 L508.00,210.12 L508.50,209.86 L509.00,209.55 L509.50,209.17 L510.00,208.70 L510.50,208.12 L511.00,207.40 L511.50,206.50 L512.00,205.35 L512.50,203.89 L513.00,201.99 L513.50,199.49 L514.00,196.18 L514.50,191.80 L515.00,186.08 L515.50,178.94 L516.00,171.01 L516.50,164.21 L517.00,161.45 L517.50,164.26 L530.00,212.55 L530.00,100.00" fill="none" stroke="#111" stroke-width="1.15"/>
<path d="M16.50,271.28 L17.00,271.28 L17.50,271.28 L18.00,271.28 L18.50,271.28 L19.00,271.28 L19.50,271.28 L20.00,271.28 L20.50,271.28 L21.00,271.28 L21.50,271.28 L22.00,271.28 L22.50,271.28 L23.00,271.28 L23.50,271.28 L24.00,271.28 L24.50,271.28 L25.00,271.28 L25.50,271.28 L26.00,271.28 L26.50,271.28 L27.00,271.28 L27.50,271.28 L28.00,271.28 L28.50,271.28 L29.00,271.28 L29.50,271.28 L30.00,271.28 L30.50,271.28 L31.00,271.28 L31.50,271.28 L32.00,271.28 L32.50,271.28 L33.00,271.28 L33.50,271.28 L34.00,271.28 L34.50,271.28 L35.00,271.28 L35.50,271.28 L36.00,271.28 L36.50,271.28 L37.00,271.28 L37.50,271.28 L38.00,271.28 L38.50,271.28 L39.00,271.28 L39.50,271.28 L40.00,271.28 L40.50,271.28 L41.00,271.28 L41.50,271.28 L42.00,271.28 L42.50,271.28 L43.00,271.28 L43.50,271.28 L44.00,271.28 L44.50,271.28 L45.00,271.28 L45.50,271.28 L46.00,271.28 L46.50,271.28 L47.00,271.28 L47.50,271.28 L48.00,271.28 L48.50,271.28 L49.00,271.28 L49.50,271.28 L50.00,271.28 L50.50,271.28 L51.00,271.28 L51.50,271.28 L52.00,271.28 L52.50,271.28 L53.00,271.28 L53.50,271.28 L54.00,271.28 L54.50,271.28 L55.00,271.28 L55.50,271.28 L56.00,271.28 L56.50,271.28 L57.00,271.28 L57.50,271.28 L58.00,271.28 L58.50,271.28 L59.00,271.28 L59.50,271.28 L60.00,271.28 L60.50,271.28 L61.00,271.28 L61.50,271.28 L62.00,271.28 L62.50,271.28 L63.00,271.28 L63.50,271.28 L64.00,271.28 L64.50,271.28 L65.00,271.28 L65.50,271.28 L66.00,271.28 L66.50,271.28 L67.00,271.28 L67.50,271.28 L68.00,271.28 L68.50,271.28 L69.00,271.28 L69.50,271.28 L70.00,271.28 L70.50,271.28 L71.00,271.28 L71.50,271.28 L72.00,271.28 L72.50,271.28 L73.00,271.28 L73.50,271.28 L74.00,271.28 L74.50,271.28 L75.00,271.28 L75.50,271.28 L76.00,271.28 L76.50,271.28 L77.00,271.28 L77.50,271.28 L78.00,271.28 L78.50,271.28 L79.00,271.28 L79.50,271.28 L80.00,271.28 L80.50,271.28 L81.00,271.28 L81.50,271.28 L82.00,271.28 L82.50,271.28 L83.00,271.28 L83.50,271.28 L84.00,271.28 L84.50,271.28 L85.00,271.28 L85.50,271.28 L86.00,271.28 L86.50,271.28 L87.00,271.28 L87.50,271.28 L88.00,271.28 L88.50,271.28 L89.00,271.28 L89.50,271.28 L90.00,271.28 L90.50,271.28 L91.00,271.28 L91.50,271.28 L92.00,271.28 L92.50,271.28 L93.00,271.28 L93.50,271.28 L94.00,271.28 L94.50,271.28 L95.00,271.28 L95.50,271.28 L96.00,271.28 L96.50,271.28 L97.00,271.28 L97.50,271.28 L98.00,271.28 L98.50,271.28 L99.00,271.28 L99.50,271.28 L100.00,271.28 L100.50,271.28 L101.00,271.28 L101.50,271.27 L102.00,271.27 L102.50,271.27 L103.00,271.27 L103.50,271.27 L104.00,271.27 L104.50,271.27 L105.00,271.27 L105.50,271.27 L106.00,271.27 L106.50,271.27 L107.00,271.27 L107.50,271.27 L108.00,271.27 L108.50,271.27 L109.00,271.27 L109.50,271.27 L110.00,271.27 L110.50,271.27 L111.00,271.27 L111.50,271.27 L112.00,271.27 L112.50,271.27 L113.00,271.27 L113.50,271.27 L114.00,271.27 L114.50,271.27 L115.00,271.27 L115.50,271.27 L116.00,271.27 L116.50,271.27 L117.00,271.27 L117.50,271.27 L118.00,271.27 L118.50,271.27 L119.00,271.27 L119.50,271.27 L120.00,271.27 L120.50,271.27 L121.00,271.27 L121.50,271.27 L122.00,271.27 L122.50,271.27 L123.00,271.27 L123.50,271.27 L124.00,271.27 L124.50,271.27 L125.00,271.27 L125.50,271.27 L126.00,271.27 L126.50,271.27 L127.00,271.27 L127.50,271.27 L128.00,271.27 L128.50,271.27 L129.00,271.27 L129.50,271.27 L130.00,271.27 L130.50,271.27 L131.00,271.27 L131.50,271.27 L132.00,271.27 L132.50,271.27 L133.00,271.27 L133.50,271.27 L134.00,271.27 L134.50,271.27 L135.00,271.27 L135.50,271.27 L136.00,271.27 L136.50,271.27 L137.00,271.27 L137.50,271.27 L138.00,271.27 L138.50,271.27 L139.00,271.27 L139.50,271.27 L140.00,271.27 L140.50,271.27 L141.00,271.27 L141.50,271.27 L142.00,271.27 L142.50,271.27 L143.00,271.27 L143.50,271.27 L144.00,271.27 L144.50,271.27 L145.00,271.27 L145.50,271.27 L146.00,271.27 L146.50,271.27 L147.00,271.27 L147.50,271.27 L148.00,271.27 L148.50,271.27 L149.00,271.27 L149.50,271.27 L150.00,271.27 L150.50,271.27 L151.00,271.27 L151.50,271.27 L152.00,271.27 L152.50,271.27 L153.00,271.27 L153.50,271.27 L154.00,271.27 L154.50,271.27 L155.00,271.27 L155.50,271.27 L156.00,271.27 L156.50,271.27 L157.00,271.27 L157.50,271.27 L158.00,271.26 L158.50,271.26 L159.00,271.26 L159.50,271.26 L160.00,271.26 L160.50,271.26 L161.00,271.26 L161.50,271.26 L162.00,271.26 L162.50,271.26 L163.00,271.26 L163.50,271.26 L164.00,271.26 L164.50,271.26 L165.00,271.26 L165.50,271.26 L166.00,271.26 L166.50,271.26 L167.00,271.26 L167.50,271.26 L168.00,271.26 L168.50,271.26 L169.00,271.26 L169.50,271.26 L170.00,271.26 L170.50,271.26 L171.00,271.26 L171.50,271.26 L172.00,271.26 L172.50,271.26 L173.00,271.26 L173.50,271.26 L174.00,271.26 L174.50,271.26 L175.00,271.26 L175.50,271.26 L176.00,271.26 L176.50,271.26 L177.00,271.26 L177.50,271.26 L178.00,271.26 L178.50,271.26 L179.00,271.26 L179.50,271.26 L180.00,271.26 L180.50,271.26 L181.00,271.26 L181.50,271.26 L182.00,271.26 L182.50,271.26 L183.00,271.26 L183.50,271.26 L184.00,271.26 L184.50,271.26 L185.00,271.26 L185.50,271.26 L186.00,271.26 L186.50,271.26 L187.00,271.26 L187.50,271.26 L188.00,271.26 L188.50,271.26 L189.00,271.26 L189.50,271.26 L190.00,271.26 L190.50,271.26 L191.00,271.26 L191.50,271.26 L192.00,271.26 L192.50,271.26 L193.00,271.26 L193.50,271.26 L194.00,271.26 L194.50,271.25 L195.00,271.25 L195.50,271.25 L196.00,271.25 L196.50,271.25 L197.00,271.25 L197.50,271.25 L198.00,271.25 L198.50,271.25 L199.00,271.25 L199.50,271.25 L200.00,271.25 L200.50,271.25 L201.00,271.25 L201.50,271.25 L202.00,271.25 L202.50,271.25 L203.00,271.25 L203.50,271.25 L204.00,271.25 L204.50,271.25 L205.00,271.25 L205.50,271.25 L206.00,271.25 L206.50,271.25 L207.00,271.25 L207.50,271.25 L208.00,271.25 L208.50,271.25 L209.00,271.25 L209.50,271.25 L210.00,271.25 L210.50,271.25 L211.00,271.25 L211.50,271.25 L212.00,271.25 L212.50,271.25 L213.00,271.25 L213.50,271.25 L214.00,271.25 L214.50,271.25 L215.00,271.25 L215.50,271.25 L216.00,271.25 L216.50,271.25 L217.00,271.25 L217.50,271.25 L218.00,271.25 L218.50,271.25 L219.00,271.25 L219.50,271.25 L220.00,271.25 L220.50,271.24 L221.00,271.24 L221.50,271.24 L222.00,271.24 L222.50,271.24 L223.00,271.24 L223.50,271.24 L224.00,271.24 L224.50,271.24 L225.00,271.24 L225.50,271.24 L226.00,271.24 L226.50,271.24 L227.00,271.24 L227.50,271.24 L228.00,271.24 L228.50,271.24 L229.00,271.24 L229.50,271.24 L230.00,271.24 L230.50,271.24 L231.00,271.24 L231.50,271.24 L232.00,271.24 L232.50,271.24 L233.00,271.24 L233.50,271.24 L234.00,271.24 L234.50,271.24 L235.00,271.24 L235.50,271.24 L236.00,271.24 L236.50,271.24 L237.00,271.24 L237.50,271.24 L238.00,271.24 L238.50,271.24 L239.00,271.24 L239.50,271.24 L240.00,271.23 L240.50,271.23 L241.00,271.23 L241.50,271.23 L242.00,271.23 L242.50,271.23 L243.00,271.23 L243.50,271.23 L244.00,271.23 L244.50,271.23 L245.00,271.23 L245.50,271.23 L246.00,271.23 L246.50,271.23 L247.00,271.23 L247.50,271.23 L248.00,271.23 L248.50,271.23 L249.00,271.23 L249.50,271.23 L250.00,271.23 L250.50,271.23 L251.00,271.23 L251.50,271.23 L252.00,271.23 L252.50,271.23 L253.00,271.23 L253.50,271.23 L254.00,271.23 L254.50,271.23 L255.00,271.23 L255.50,271.22 L256.00,271.22 L256.50,271.22 L257.00,271.22 L257.50,271.22 L258.00,271.22 L258.50,271.22 L259.00,271.22 L259.50,271.22 L260.00,271.22 L260.50,271.22 L261.00,271.22 L261.50,271.22 L262.00,271.22 L262.50,271.22 L263.00,271.22 L263.50,271.22 L264.00,271.22 L264.50,271.22 L265.00,271.22 L265.50,271.22 L266.00,271.22 L266.50,271.22 L267.00,271.22 L267.50,271.22 L268.00,271.22 L268.50,271.21 L269.00,271.21 L269.50,271.21 L270.00,271.21 L270.50,271.21 L271.00,271.21 L271.50,271.21 L272.00,271.21 L272.50,271.21 L273.00,271.21 L273.50,271.21 L274.00,271.21 L274.50,271.21 L275.00,271.21 L275.50,271.21 L276.00,271.21 L276.50,271.21 L277.00,271.21 L277.50,271.21 L278.00,271.21 L278.50,271.21 L279.00,271.20 L279.50,271.20 L280.00,271.20 L280.50,271.20 L281.00,271.20 L281.50,271.20 L282.00,271.20 L282.50,271.20 L283.00,271.20 L283.50,271.20 L284.00,271.20 L284.50,271.20 L285.00,271.20 L285.50,271.20 L286.00,271.20 L286.50,271.20 L287.00,271.20 L287.50,271.20 L288.00,271.19 L288.50,271.19 L289.00,271.19 L289.50,271.19 L290.00,271.19 L290.50,271.19 L291.00,271.19 L291.50,271.19 L292.00,271.19 L292.50,271.19 L293.00,271.19 L293.50,271.19 L294.00,271.19 L294.50,271.19 L295.00,271.19 L295.50,271.19 L296.00,271.18 L296.50,271.18 L297.00,271.18 L297.50,271.18 L298.00,271.18 L298.50,271.18 L299.00,271.18 L299.50,271.18 L300.00,271.18 L300.50,271.18 L301.00,271.18 L301.50,271.18 L302.00,271.18 L302.50,271.17 L303.00,271.17 L303.50,271.17 L304.00,271.17 L304.50,271.17 L305.00,271.17 L305.50,271.17 L306.00,271.17 L306.50,271.17 L307.00,271.17 L307.50,271.17 L308.00,271.17 L308.50,271.16 L309.00,271.16 L309.50,271.16 L310.00,271.16 L310.50,271.16 L311.00,271.16 L311.50,271.16 L312.00,271.16 L312.50,271.16 L313.00,271.16 L313.50,271.16 L314.00,271.15 L314.50,271.15 L315.00,271.15 L315.50,271.15 L316.00,271.15 L316.50,271.15 L317.00,271.15 L317.50,271.14 L318.00,271.14 L318.50,271.14 L319.00,271.14 L319.50,271.14 L320.00,271.13 L320.50,271.13 L321.00,271.13 L321.50,271.12 L322.00,271.12 L322.50,271.11 L323.00,271.11 L323.50,271.10 L324.00,271.10 L324.50,271.09 L325.00,271.08 L325.50,271.07 L326.00,271.06 L326.50,271.05 L327.00,271.03 L327.50,271.01 L328.00,271.00 L328.50,270.98 L329.00,270.95 L329.50,270.93 L330.00,270.90 L330.50,270.86 L331.00,270.83 L331.50,270.78 L332.00,270.74 L332.50,270.69 L333.00,270.63 L333.50,270.57 L334.00,270.50 L334.50,270.43 L335.00,270.35 L335.50,270.26 L336.00,270.16 L336.50,270.06 L337.00,269.95 L337.50,269.82 L338.00,269.69 L338.50,269.56 L339.00,269.41 L339.50,269.25 L340.00,269.08 L340.50,268.91 L341.00,268.72 L341.50,268.52 L342.00,268.32 L342.50,268.11 L343.00,267.88 L343.50,267.66 L344.00,267.42 L344.50,267.18 L345.00,266.93 L345.50,266.68 L346.00,266.42 L346.50,266.16 L347.00,265.90 L347.50,265.64 L348.00,265.38 L348.50,265.13 L349.00,264.88 L349.50,264.63 L350.00,264.39 L350.50,264.16 L351.00,263.94 L351.50,263.73 L352.00,263.53 L352.50,263.35 L353.00,263.18 L353.50,263.03 L354.00,262.90 L354.50,262.78 L355.00,262.69 L355.50,262.61 L356.00,262.56 L356.50,262.52 L357.00,262.51 L357.50,262.53 L358.00,262.60 L358.50,262.72 L359.00,262.89 L359.50,263.10 L360.00,263.35 L360.50,263.63 L361.00,263.95 L361.50,264.29 L362.00,264.65 L362.50,265.03 L363.00,265.42 L363.50,265.81 L364.00,266.20 L364.50,266.59 L365.00,266.97 L365.50,267.33 L366.00,267.68 L366.50,268.02 L367.00,268.33 L367.50,268.62 L368.00,268.89 L368.50,269.14 L369.00,269.37 L369.50,269.57 L370.00,269.75 L370.50,269.92 L371.00,270.06 L371.50,270.18 L372.00,270.29 L372.50,270.38 L373.00,270.46 L373.50,270.53 L374.00,270.58 L374.50,270.63 L375.00,270.66 L375.50,270.69 L376.00,270.71 L376.50,270.73 L377.00,270.74 L377.50,270.75 L378.00,270.75 L378.50,270.75 L379.00,270.75 L379.50,270.75 L380.00,270.74 L380.50,270.74 L381.00,270.73 L381.50,270.72 L382.00,270.71 L382.50,270.69 L383.00,270.68 L383.50,270.67 L384.00,270.65 L384.50,270.63 L385.00,270.61 L385.50,270.59 L386.00,270.57 L386.50,270.55 L387.00,270.52 L387.50,270.49 L388.00,270.46 L388.50,270.42 L389.00,270.38 L389.50,270.33 L390.00,270.28 L390.50,270.21 L391.00,270.14 L391.50,270.06 L392.00,269.96 L392.50,269.83 L393.00,269.69 L393.50,269.50 L394.00,269.27 L394.50,268.98 L395.00,268.60 L395.50,268.10 L396.00,267.43 L396.50,266.54 L397.00,265.38 L397.50,263.94 L398.00,262.41 L398.50,261.30 L399.00,261.18 L399.50,262.11 L400.00,263.58 L400.50,265.03 L401.00,266.24 L401.50,267.16 L402.00,267.85 L402.50,268.35 L403.00,268.73 L403.50,269.02 L404.00,269.24 L404.50,269.41 L405.00,269.54 L405.50,269.64 L406.00,269.72 L406.50,269.79 L407.00,269.84 L407.50,269.88 L408.00,269.91 L408.50,269.94 L409.00,269.96 L409.50,269.97 L410.00,269.98 L410.50,269.98 L411.00,269.99 L411.50,269.98 L412.00,269.98 L412.50,269.97 L413.00,269.97 L413.50,269.96 L414.00,269.94 L414.50,269.93 L415.00,269.92 L415.50,269.90 L416.00,269.88 L416.50,269.86 L417.00,269.84 L417.50,269.82 L418.00,269.80 L418.50,269.77 L419.00,269.74 L419.50,269.72 L420.00,269.69 L420.50,269.66 L421.00,269.63 L421.50,269.59 L422.00,269.56 L422.50,269.52 L423.00,269.48 L423.50,269.44 L424.00,269.40 L424.50,269.36 L425.00,269.32 L425.50,269.27 L426.00,269.22 L426.50,269.17 L427.00,269.12 L427.50,269.06 L428.00,269.01 L428.50,268.95 L429.00,268.88 L429.50,268.82 L430.00,268.75 L430.50,268.68 L431.00,268.61 L431.50,268.53 L432.00,268.45 L432.50,268.36 L433.00,268.27 L433.50,268.18 L434.00,268.08 L434.50,267.98 L435.00,267.87 L435.50,267.76 L436.00,267.64 L436.50,267.51 L437.00,267.38 L437.50,267.24 L438.00,267.10 L438.50,266.94 L439.00,266.78 L439.50,266.61 L440.00,266.42 L440.50,266.23 L441.00,266.02 L441.50,265.81 L442.00,265.57 L442.50,265.33 L443.00,265.06 L443.50,264.78 L444.00,264.49 L444.50,264.17 L445.00,263.82 L445.50,263.46 L446.00,263.07 L446.50,262.64 L447.00,262.19 L447.50,261.70 L448.00,261.17 L448.50,260.60 L449.00,259.99 L449.50,259.32 L450.00,258.59 L450.50,257.80 L451.00,256.95 L451.50,256.01 L452.00,254.99 L452.50,253.88 L453.00,252.66 L453.50,251.33 L454.00,249.87 L454.50,248.28 L455.00,246.53 L455.50,244.63 L456.00,242.54 L456.50,240.28 L457.00,237.82 L457.50,235.17 L458.00,232.34 L458.50,229.33 L459.00,226.19 L459.50,222.95 L459.65,221.97 L459.65,100.00 L466.95,100.00 L466.95,223.97 L467.00,224.34 L467.50,227.97 L468.00,231.42 L468.50,234.65 L469.00,237.62 L469.50,240.32 L470.00,242.76 L470.50,244.96 L471.00,246.92 L471.50,248.67 L472.00,250.23 L472.50,251.61 L473.00,252.83 L473.50,253.90 L474.00,254.83 L474.50,255.65 L475.00,256.34 L475.50,256.93 L476.00,257.41 L476.50,257.79 L477.00,258.07 L477.50,258.25 L478.00,258.32 L478.50,258.28 L479.00,258.11 L479.50,257.80 L480.00,257.34 L480.50,256.69 L481.00,255.83 L481.50,254.73 L482.00,253.35 L482.50,251.65 L483.00,249.62 L483.50,247.28 L484.00,244.71 L484.50,242.12 L485.00,239.84 L485.50,238.28 L486.00,237.81 L486.50,238.58 L487.00,240.44 L487.50,243.02 L488.00,245.92 L488.50,248.80 L489.00,251.46 L489.50,253.82 L490.00,255.86 L490.50,257.60 L491.00,259.07 L491.50,260.31 L492.00,261.37 L492.50,262.27 L493.00,263.03 L493.50,263.69 L494.00,264.25 L494.50,264.74 L495.00,265.17 L495.50,265.54 L496.00,265.87 L496.50,266.15 L497.00,266.41 L497.50,266.63 L498.00,266.82 L498.50,266.99 L499.00,267.15 L499.50,267.28 L500.00,267.39 L500.50,267.49 L501.00,267.57 L501.50,267.64 L502.00,267.69 L502.50,267.72 L503.00,267.75 L503.50,267.76 L504.00,267.75 L504.50,267.72 L505.00,267.68 L505.50,267.62 L506.00,267.54 L506.50,267.43 L507.00,267.30 L507.50,267.13 L508.00,266.92 L508.50,266.66 L509.00,266.35 L509.50,265.97 L510.00,265.50 L510.50,264.92 L511.00,264.20 L511.50,263.30 L512.00,262.15 L512.50,260.69 L513.00,258.79 L513.50,256.29 L514.00,252.98 L514.50,248.60 L515.00,242.88 L515.50,235.74 L516.00,227.81 L516.50,221.01 L517.00,218.25 L517.50,221.06 L530.00,269.35 L530.00,100.00" fill="none" stroke="#111" stroke-width="1.15"/>
<path d="M16.50,328.58 L17.00,328.58 L17.50,328.58 L18.00,328.58 L18.50,328.58 L19.00,328.58 L19.50,328.58 L20.00,328.58 L20.50,328.58 L21.00,328.58 L21.50,328.58 L22.00,328.58 L22.50,328.58 L23.00,328.58 L23.50,328.58 L24.00,328.58 L24.50,328.58 L25.00,328.58 L25.50,328.58 L26.00,328.58 L26.50,328.58 L27.00,328.58 L27.50,328.58 L28.00,328.58 L28.50,328.58 L29.00,328.58 L29.50,328.58 L30.00,328.58 L30.50,328.58 L31.00,328.58 L31.50,328.58 L32.00,328.58 L32.50,328.58 L33.00,328.58 L33.50,328.58 L34.00,328.58 L34.50,328.58 L35.00,328.58 L35.50,328.58 L36.00,328.58 L36.50,328.58 L37.00,328.58 L37.50,328.58 L38.00,328.58 L38.50,328.58 L39.00,328.58 L39.50,328.58 L40.00,328.58 L40.50,328.58 L41.00,328.58 L41.50,328.58 L42.00,328.58 L42.50,328.58 L43.00,328.58 L43.50,328.58 L44.00,328.58 L44.50,328.58 L45.00,328.58 L45.50,328.58 L46.00,328.58 L46.50,328.58 L47.00,328.58 L47.50,328.58 L48.00,328.58 L48.50,328.58 L49.00,328.58 L49.50,328.58 L50.00,328.58 L50.50,328.58 L51.00,328.58 L51.50,328.58 L52.00,328.58 L52.50,328.58 L53.00,328.58 L53.50,328.58 L54.00,328.58 L54.50,328.58 L55.00,328.58 L55.50,328.58 L56.00,328.58 L56.50,328.58 L57.00,328.58 L57.50,328.58 L58.00,328.58 L58.50,328.58 L59.00,328.58 L59.50,328.58 L60.00,328.58 L60.50,328.58 L61.00,328.58 L61.50,328.58 L62.00,328.58 L62.50,328.58 L63.00,328.58 L63.50,328.58 L64.00,328.58 L64.50,328.58 L65.00,328.58 L65.50,328.58 L66.00,328.58 L66.50,328.58 L67.00,328.58 L67.50,328.58 L68.00,328.58 L68.50,328.58 L69.00,328.58 L69.50,328.58 L70.00,328.58 L70.50,328.58 L71.00,328.58 L71.50,328.58 L72.00,328.58 L72.50,328.58 L73.00,328.58 L73.50,328.58 L74.00,328.58 L74.50,328.58 L75.00,328.58 L75.50,328.58 L76.00,328.58 L76.50,328.58 L77.00,328.58 L77.50,328.58 L78.00,328.58 L78.50,328.58 L79.00,328.58 L79.50,328.58 L80.00,328.58 L80.50,328.58 L81.00,328.58 L81.50,328.58 L82.00,328.58 L82.50,328.58 L83.00,328.58 L83.50,328.58 L84.00,328.58 L84.50,328.58 L85.00,328.58 L85.50,328.58 L86.00,328.58 L86.50,328.58 L87.00,328.58 L87.50,328.58 L88.00,328.58 L88.50,328.58 L89.00,328.58 L89.50,328.58 L90.00,328.58 L90.50,328.58 L91.00,328.58 L91.50,328.58 L92.00,328.58 L92.50,328.58 L93.00,328.58 L93.50,328.58 L94.00,328.58 L94.50,328.58 L95.00,328.58 L95.50,328.58 L96.00,328.58 L96.50,328.58 L97.00,328.58 L97.50,328.58 L98.00,328.58 L98.50,328.58 L99.00,328.58 L99.50,328.58 L100.00,328.58 L100.50,328.58 L101.00,328.57 L101.50,328.57 L102.00,328.57 L102.50,328.57 L103.00,328.57 L103.50,328.57 L104.00,328.57 L104.50,328.57 L105.00,328.57 L105.50,328.57 L106.00,328.57 L106.50,328.57 L107.00,328.57 L107.50,328.57 L108.00,328.57 L108.50,328.57 L109.00,328.57 L109.50,328.57 L110.00,328.57 L110.50,328.57 L111.00,328.57 L111.50,328.57 L112.00,328.57 L112.50,328.57 L113.00,328.57 L113.50,328.57 L114.00,328.57 L114.50,328.57 L115.00,328.57 L115.50,328.57 L116.00,328.57 L116.50,328.57 L117.00,328.57 L117.50,328.57 L118.00,328.57 L118.50,328.57 L119.00,328.57 L119.50,328.57 L120.00,328.57 L120.50,328.57 L121.00,328.57 L121.50,328.57 L122.00,328.57 L122.50,328.57 L123.00,328.57 L123.50,328.57 L124.00,328.57 L124.50,328.57 L125.00,328.57 L125.50,328.57 L126.00,328.57 L126.50,328.57 L127.00,328.57 L127.50,328.57 L128.00,328.57 L128.50,328.57 L129.00,328.57 L129.50,328.57 L130.00,328.57 L130.50,328.57 L131.00,328.57 L131.50,328.57 L132.00,328.57 L132.50,328.57 L133.00,328.57 L133.50,328.57 L134.00,328.57 L134.50,328.57 L135.00,328.57 L135.50,328.57 L136.00,328.57 L136.50,328.57 L137.00,328.57 L137.50,328.57 L138.00,328.57 L138.50,328.57 L139.00,328.57 L139.50,328.57 L140.00,328.57 L140.50,328.57 L141.00,328.57 L141.50,328.57 L142.00,328.57 L142.50,328.57 L143.00,328.57 L143.50,328.57 L144.00,328.57 L144.50,328.57 L145.00,328.57 L145.50,328.57 L146.00,328.57 L146.50,328.57 L147.00,328.57 L147.50,328.57 L148.00,328.57 L148.50,328.57 L149.00,328.57 L149.50,328.57 L150.00,328.57 L150.50,328.57 L151.00,328.57 L151.50,328.57 L152.00,328.57 L152.50,328.57 L153.00,328.57 L153.50,328.57 L154.00,328.57 L154.50,328.57 L155.00,328.57 L155.50,328.57 L156.00,328.57 L156.50,328.57 L157.00,328.57 L157.50,328.56 L158.00,328.56 L158.50,328.56 L159.00,328.56 L159.50,328.56 L160.00,328.56 L160.50,328.56 L161.00,328.56 L161.50,328.56 L162.00,328.56 L162.50,328.56 L163.00,328.56 L163.50,328.56 L164.00,328.56 L164.50,328.56 L165.00,328.56 L165.50,328.56 L166.00,328.56 L166.50,328.56 L167.00,328.56 L167.50,328.56 L168.00,328.56 L168.50,328.56 L169.00,328.56 L169.50,328.56 L170.00,328.56 L170.50,328.56 L171.00,328.56 L171.50,328.56 L172.00,328.56 L172.50,328.56 L173.00,328.56 L173.50,328.56 L174.00,328.56 L174.50,328.56 L175.00,328.56 L175.50,328.56 L176.00,328.56 L176.50,328.56 L177.00,328.56 L177.50,328.56 L178.00,328.56 L178.50,328.56 L179.00,328.56 L179.50,328.56 L180.00,328.56 L180.50,328.56 L181.00,328.56 L181.50,328.56 L182.00,328.56 L182.50,328.56 L183.00,328.56 L183.50,328.56 L184.00,328.56 L184.50,328.56 L185.00,328.56 L185.50,328.56 L186.00,328.56 L186.50,328.56 L187.00,328.56 L187.50,328.56 L188.00,328.56 L188.50,328.56 L189.00,328.56 L189.50,328.56 L190.00,328.56 L190.50,328.56 L191.00,328.56 L191.50,328.56 L192.00,328.56 L192.50,328.56 L193.00,328.56 L193.50,328.56 L194.00,328.55 L194.50,328.55 L195.00,328.55 L195.50,328.55 L196.00,328.55 L196.50,328.55 L197.00,328.55 L197.50,328.55 L198.00,328.55 L198.50,328.55 L199.00,328.55 L199.50,328.55 L200.00,328.55 L200.50,328.55 L201.00,328.55 L201.50,328.55 L202.00,328.55 L202.50,328.55 L203.00,328.55 L203.50,328.55 L204.00,328.55 L204.50,328.55 L205.00,328.55 L205.50,328.55 L206.00,328.55 L206.50,328.55 L207.00,328.55 L207.50,328.55 L208.00,328.55 L208.50,328.55 L209.00,328.55 L209.50,328.55 L210.00,328.55 L210.50,328.55 L211.00,328.55 L211.50,328.55 L212.00,328.55 L212.50,328.55 L213.00,328.55 L213.50,328.55 L214.00,328.55 L214.50,328.55 L215.00,328.55 L215.50,328.55 L216.00,328.55 L216.50,328.55 L217.00,328.55 L217.50,328.55 L218.00,328.55 L218.50,328.55 L219.00,328.55 L219.50,328.55 L220.00,328.54 L220.50,328.54 L221.00,328.54 L221.50,328.54 L222.00,328.54 L222.50,328.54 L223.00,328.54 L223.50,328.54 L224.00,328.54 L224.50,328.54 L225.00,328.54 L225.50,328.54 L226.00,328.54 L226.50,328.54 L227.00,328.54 L227.50,328.54 L228.00,328.54 L228.50,328.54 L229.00,328.54 L229.50,328.54 L230.00,328.54 L230.50,328.54 L231.00,328.54 L231.50,328.54 L232.00,328.54 L232.50,328.54 L233.00,328.54 L233.50,328.54 L234.00,328.54 L234.50,328.54 L235.00,328.54 L235.50,328.54 L236.00,328.54 L236.50,328.54 L237.00,328.54 L237.50,328.54 L238.00,328.54 L238.50,328.54 L239.00,328.54 L239.50,328.53 L240.00,328.53 L240.50,328.53 L241.00,328.53 L241.50,328.53 L242.00,328.53 L242.50,328.53 L243.00,328.53 L243.50,328.53 L244.00,328.53 L244.50,328.53 L245.00,328.53 L245.50,328.53 L246.00,328.53 L246.50,328.53 L247.00,328.53 L247.50,328.53 L248.00,328.53 L248.50,328.53 L249.00,328.53 L249.50,328.53 L250.00,328.53 L250.50,328.53 L251.00,328.53 L251.50,328.53 L252.00,328.53 L252.50,328.53 L253.00,328.53 L253.50,328.53 L254.00,328.53 L254.50,328.53 L255.00,328.52 L255.50,328.52 L256.00,328.52 L256.50,328.52 L257.00,328.52 L257.50,328.52 L258.00,328.52 L258.50,328.52 L259.00,328.52 L259.50,328.52 L260.00,328.52 L260.50,328.52 L261.00,328.52 L261.50,328.52 L262.00,328.52 L262.50,328.52 L263.00,328.52 L263.50,328.52 L264.00,328.52 L264.50,328.52 L265.00,328.52 L265.50,328.52 L266.00,328.52 L266.50,328.52 L267.00,328.52 L267.50,328.52 L268.00,328.51 L268.50,328.51 L269.00,328.51 L269.50,328.51 L270.00,328.51 L270.50,328.51 L271.00,328.51 L271.50,328.51 L272.00,328.51 L272.50,328.51 L273.00,328.51 L273.50,328.51 L274.00,328.51 L274.50,328.51 L275.00,328.51 L275.50,328.51 L276.00,328.51 L276.50,328.51 L277.00,328.51 L277.50,328.51 L278.00,328.51 L278.50,328.50 L279.00,328.50 L279.50,328.50 L280.00,328.50 L280.50,328.50 L281.00,328.50 L281.50,328.50 L282.00,328.50 L282.50,328.50 L283.00,328.50 L283.50,328.50 L284.00,328.50 L284.50,328.50 L285.00,328.50 L285.50,328.50 L286.00,328.50 L286.50,328.50 L287.00,328.50 L287.50,328.49 L288.00,328.49 L288.50,328.49 L289.00,328.49 L289.50,328.49 L290.00,328.49 L290.50,328.49 L291.00,328.49 L291.50,328.49 L292.00,328.49 L292.50,328.49 L293.00,328.49 L293.50,328.49 L294.00,328.49 L294.50,328.49 L295.00,328.49 L295.50,328.48 L296.00,328.48 L296.50,328.48 L297.00,328.48 L297.50,328.48 L298.00,328.48 L298.50,328.48 L299.00,328.48 L299.50,328.48 L300.00,328.48 L300.50,328.48 L301.00,328.48 L301.50,328.48 L302.00,328.48 L302.50,328.47 L303.00,328.47 L303.50,328.47 L304.00,328.47 L304.50,328.47 L305.00,328.47 L305.50,328.47 L306.00,328.47 L306.50,328.47 L307.00,328.47 L307.50,328.47 L308.00,328.46 L308.50,328.46 L309.00,328.46 L309.50,328.46 L310.00,328.46 L310.50,328.46 L311.00,328.46 L311.50,328.46 L312.00,328.46 L312.50,328.45 L313.00,328.45 L313.50,328.45 L314.00,328.45 L314.50,328.45 L315.00,328.45 L315.50,328.44 L316.00,328.44 L316.50,328.44 L317.00,328.44 L317.50,328.43 L318.00,328.43 L318.50,328.42 L319.00,328.42 L319.50,328.41 L320.00,328.41 L320.50,328.40 L321.00,328.39 L321.50,328.39 L322.00,328.38 L322.50,328.37 L323.00,328.35 L323.50,328.34 L324.00,328.33 L324.50,328.31 L325.00,328.29 L325.50,328.27 L326.00,328.25 L326.50,328.22 L327.00,328.19 L327.50,328.16 L328.00,328.13 L328.50,328.09 L329.00,328.05 L329.50,328.00 L330.00,327.95 L330.50,327.89 L331.00,327.83 L331.50,327.77 L332.00,327.69 L332.50,327.61 L333.00,327.53 L333.50,327.44 L334.00,327.34 L334.50,327.23 L335.00,327.12 L335.50,326.99 L336.00,326.86 L336.50,326.72 L337.00,326.58 L337.50,326.42 L338.00,326.25 L338.50,326.08 L339.00,325.90 L339.50,325.71 L340.00,325.51 L340.50,325.30 L341.00,325.08 L341.50,324.86 L342.00,324.63 L342.50,324.39 L343.00,324.15 L343.50,323.90 L344.00,323.64 L344.50,323.39 L345.00,323.13 L345.50,322.86 L346.00,322.60 L346.50,322.33 L347.00,322.07 L347.50,321.81 L348.00,321.55 L348.50,321.30 L349.00,321.05 L349.50,320.81 L350.00,320.58 L350.50,320.36 L351.00,320.15 L351.50,319.95 L352.00,319.76 L352.50,319.59 L353.00,319.43 L353.50,319.29 L354.00,319.17 L354.50,319.06 L355.00,318.97 L355.50,318.90 L356.00,318.85 L356.50,318.82 L357.00,318.80 L357.50,318.83 L358.00,318.91 L358.50,319.04 L359.00,319.23 L359.50,319.47 L360.00,319.74 L360.50,320.06 L361.00,320.42 L361.50,320.80 L362.00,321.20 L362.50,321.63 L363.00,322.06 L363.50,322.50 L364.00,322.94 L364.50,323.37 L365.00,323.79 L365.50,324.20 L366.00,324.60 L366.50,324.97 L367.00,325.32 L367.50,325.65 L368.00,325.95 L368.50,326.23 L369.00,326.48 L369.50,326.71 L370.00,326.91 L370.50,327.09 L371.00,327.25 L371.50,327.39 L372.00,327.51 L372.50,327.62 L373.00,327.70 L373.50,327.78 L374.00,327.84 L374.50,327.89 L375.00,327.93 L375.50,327.96 L376.00,327.99 L376.50,328.01 L377.00,328.02 L377.50,328.03 L378.00,328.03 L378.50,328.04 L379.00,328.04 L379.50,328.03 L380.00,328.03 L380.50,328.02 L381.00,328.01 L381.50,328.00 L382.00,327.99 L382.50,327.98 L383.00,327.96 L383.50,327.94 L384.00,327.93 L384.50,327.91 L385.00,327.89 L385.50,327.87 L386.00,327.84 L386.50,327.82 L387.00,327.79 L387.50,327.75 L388.00,327.72 L388.50,327.68 L389.00,327.63 L389.50,327.58 L390.00,327.53 L390.50,327.46 L391.00,327.38 L391.50,327.29 L392.00,327.18 L392.50,327.05 L393.00,326.90 L393.50,326.70 L394.00,326.46 L394.50,326.16 L395.00,325.76 L395.50,325.24 L396.00,324.56 L396.50,323.64 L397.00,322.42 L397.50,320.87 L398.00,319.10 L398.50,317.54 L399.00,316.88 L399.50,317.52 L400.00,319.06 L400.50,320.81 L401.00,322.34 L401.50,323.53 L402.00,324.43 L402.50,325.09 L403.00,325.59 L403.50,325.96 L404.00,326.25 L404.50,326.46 L405.00,326.63 L405.50,326.77 L406.00,326.88 L406.50,326.96 L407.00,327.03 L407.50,327.08 L408.00,327.12 L408.50,327.16 L409.00,327.18 L409.50,327.21 L410.00,327.22 L410.50,327.23 L411.00,327.24 L411.50,327.24 L412.00,327.24 L412.50,327.24 L413.00,327.23 L413.50,327.22 L414.00,327.21 L414.50,327.20 L415.00,327.19 L415.50,327.17 L416.00,327.16 L416.50,327.14 L417.00,327.12 L417.50,327.10 L418.00,327.08 L418.50,327.05 L419.00,327.03 L419.50,327.00 L420.00,326.97 L420.50,326.94 L421.00,326.91 L421.50,326.88 L422.00,326.85 L422.50,326.81 L423.00,326.77 L423.50,326.73 L424.00,326.69 L424.50,326.65 L425.00,326.61 L425.50,326.56 L426.00,326.51 L426.50,326.46 L427.00,326.41 L427.50,326.35 L428.00,326.30 L428.50,326.24 L429.00,326.18 L429.50,326.11 L430.00,326.04 L430.50,325.97 L431.00,325.90 L431.50,325.82 L432.00,325.74 L432.50,325.66 L433.00,325.57 L433.50,325.47 L434.00,325.38 L434.50,325.27 L435.00,325.17 L435.50,325.05 L436.00,324.93 L436.50,324.81 L437.00,324.68 L437.50,324.54 L438.00,324.39 L438.50,324.24 L439.00,324.07 L439.50,323.90 L440.00,323.72 L440.50,323.53 L441.00,323.32 L441.50,323.10 L442.00,322.87 L442.50,322.62 L443.00,322.36 L443.50,322.08 L444.00,321.78 L444.50,321.46 L445.00,321.12 L445.50,320.76 L446.00,320.36 L446.50,319.94 L447.00,319.49 L447.50,319.00 L448.00,318.47 L448.50,317.90 L449.00,317.28 L449.50,316.62 L450.00,315.89 L450.50,315.10 L451.00,314.24 L451.50,313.31 L452.00,312.29 L452.50,311.18 L453.00,309.96 L453.50,308.63 L454.00,307.17 L454.50,305.58 L455.00,303.83 L455.50,301.92 L456.00,299.84 L456.50,297.58 L457.00,295.12 L457.50,292.47 L458.00,289.64 L458.50,286.63 L459.00,283.48 L459.50,280.25 L459.65,279.27 L459.65,100.00 L466.95,100.00 L466.95,281.27 L467.00,281.64 L467.50,285.27 L468.00,288.72 L468.50,291.95 L469.00,294.92 L469.50,297.62 L470.00,300.06 L470.50,302.26 L471.00,304.22 L471.50,305.97 L472.00,307.53 L472.50,308.91 L473.00,310.13 L473.50,311.20 L474.00,312.13 L474.50,312.94 L475.00,313.64 L475.50,314.23 L476.00,314.71 L476.50,315.09 L477.00,315.37 L477.50,315.55 L478.00,315.62 L478.50,315.58 L479.00,315.41 L479.50,315.10 L480.00,314.64 L480.50,313.99 L481.00,313.13 L481.50,312.03 L482.00,310.65 L482.50,308.95 L483.00,306.92 L483.50,304.58 L484.00,302.01 L484.50,299.42 L485.00,297.14 L485.50,295.58 L486.00,295.11 L486.50,295.88 L487.00,297.74 L487.50,300.32 L488.00,303.22 L488.50,306.09 L489.00,308.76 L489.50,311.12 L490.00,313.16 L490.50,314.90 L491.00,316.37 L491.50,317.61 L492.00,318.67 L492.50,319.57 L493.00,320.33 L493.50,320.99 L494.00,321.55 L494.50,322.04 L495.00,322.47 L495.50,322.84 L496.00,323.17 L496.50,323.45 L497.00,323.71 L497.50,323.93 L498.00,324.12 L498.50,324.29 L499.00,324.44 L499.50,324.58 L500.00,324.69 L500.50,324.79 L501.00,324.87 L501.50,324.93 L502.00,324.99 L502.50,325.02 L503.00,325.05 L503.50,325.06 L504.00,325.05 L504.50,325.02 L505.00,324.98 L505.50,324.92 L506.00,324.84 L506.50,324.73 L507.00,324.60 L507.50,324.43 L508.00,324.22 L508.50,323.96 L509.00,323.65 L509.50,323.27 L510.00,322.80 L510.50,322.22 L511.00,321.50 L511.50,320.60 L512.00,319.45 L512.50,317.99 L513.00,316.09 L513.50,313.59 L514.00,310.28 L514.50,305.90 L515.00,300.18 L515.50,293.04 L516.00,285.11 L516.50,278.31 L517.00,275.55 L517.50,278.36 L530.00,326.65 L530.00,100.00" fill="none" stroke="#111" stroke-width="1.15"/>
<path d="M16.50,385.58 L17.00,385.58 L17.50,385.58 L18.00,385.58 L18.50,385.58 L19.00,385.58 L19.50,385.58 L20.00,385.58 L20.50,385.58 L21.00,385.58 L21.50,385.58 L22.00,385.58 L22.50,385.58 L23.00,385.58 L23.50,385.58 L24.00,385.58 L24.50,385.58 L25.00,385.58 L25.50,385.58 L26.00,385.58 L26.50,385.58 L27.00,385.58 L27.50,385.58 L28.00,385.58 L28.50,385.58 L29.00,385.58 L29.50,385.58 L30.00,385.58 L30.50,385.58 L31.00,385.58 L31.50,385.58 L32.00,385.58 L32.50,385.58 L33.00,385.58 L33.50,385.58 L34.00,385.58 L34.50,385.58 L35.00,385.58 L35.50,385.58 L36.00,385.58 L36.50,385.58 L37.00,385.58 L37.50,385.58 L38.00,385.58 L38.50,385.58 L39.00,385.58 L39.50,385.58 L40.00,385.58 L40.50,385.58 L41.00,385.58 L41.50,385.58 L42.00,385.58 L42.50,385.58 L43.00,385.58 L43.50,385.58 L44.00,385.58 L44.50,385.58 L45.00,385.58 L45.50,385.58 L46.00,385.58 L46.50,385.58 L47.00,385.58 L47.50,385.58 L48.00,385.58 L48.50,385.58 L49.00,385.58 L49.50,385.58 L50.00,385.58 L50.50,385.58 L51.00,385.58 L51.50,385.58 L52.00,385.58 L52.50,385.58 L53.00,385.58 L53.50,385.58 L54.00,385.58 L54.50,385.58 L55.00,385.58 L55.50,385.58 L56.00,385.58 L56.50,385.58 L57.00,385.58 L57.50,385.58 L58.00,385.58 L58.50,385.58 L59.00,385.58 L59.50,385.58 L60.00,385.58 L60.50,385.58 L61.00,385.58 L61.50,385.58 L62.00,385.58 L62.50,385.58 L63.00,385.58 L63.50,385.58 L64.00,385.58 L64.50,385.58 L65.00,385.58 L65.50,385.58 L66.00,385.58 L66.50,385.58 L67.00,385.58 L67.50,385.58 L68.00,385.58 L68.50,385.58 L69.00,385.58 L69.50,385.58 L70.00,385.58 L70.50,385.58 L71.00,385.58 L71.50,385.58 L72.00,385.58 L72.50,385.58 L73.00,385.58 L73.50,385.58 L74.00,385.58 L74.50,385.58 L75.00,385.58 L75.50,385.58 L76.00,385.58 L76.50,385.58 L77.00,385.58 L77.50,385.58 L78.00,385.58 L78.50,385.58 L79.00,385.58 L79.50,385.58 L80.00,385.58 L80.50,385.58 L81.00,385.58 L81.50,385.58 L82.00,385.58 L82.50,385.58 L83.00,385.58 L83.50,385.58 L84.00,385.58 L84.50,385.58 L85.00,385.58 L85.50,385.58 L86.00,385.58 L86.50,385.58 L87.00,385.58 L87.50,385.58 L88.00,385.58 L88.50,385.58 L89.00,385.58 L89.50,385.58 L90.00,385.58 L90.50,385.58 L91.00,385.58 L91.50,385.58 L92.00,385.58 L92.50,385.58 L93.00,385.58 L93.50,385.58 L94.00,385.58 L94.50,385.58 L95.00,385.58 L95.50,385.58 L96.00,385.58 L96.50,385.58 L97.00,385.58 L97.50,385.58 L98.00,385.58 L98.50,385.58 L99.00,385.58 L99.50,385.58 L100.00,385.58 L100.50,385.57 L101.00,385.57 L101.50,385.57 L102.00,385.57 L102.50,385.57 L103.00,385.57 L103.50,385.57 L104.00,385.57 L104.50,385.57 L105.00,385.57 L105.50,385.57 L106.00,385.57 L106.50,385.57 L107.00,385.57 L107.50,385.57 L108.00,385.57 L108.50,385.57 L109.00,385.57 L109.50,385.57 L110.00,385.57 L110.50,385.57 L111.00,385.57 L111.50,385.57 L112.00,385.57 L112.50,385.57 L113.00,385.57 L113.50,385.57 L114.00,385.57 L114.50,385.57 L115.00,385.57 L115.50,385.57 L116.00,385.57 L116.50,385.57 L117.00,385.57 L117.50,385.57 L118.00,385.57 L118.50,385.57 L119.00,385.57 L119.50,385.57 L120.00,385.57 L120.50,385.57 L121.00,385.57 L121.50,385.57 L122.00,385.57 L122.50,385.57 L123.00,385.57 L123.50,385.57 L124.00,385.57 L124.50,385.57 L125.00,385.57 L125.50,385.57 L126.00,385.57 L126.50,385.57 L127.00,385.57 L127.50,385.57 L128.00,385.57 L128.50,385.57 L129.00,385.57 L129.50,385.57 L130.00,385.57 L130.50,385.57 L131.00,385.57 L131.50,385.57 L132.00,385.57 L132.50,385.57 L133.00,385.57 L133.50,385.57 L134.00,385.57 L134.50,385.57 L135.00,385.57 L135.50,385.57 L136.00,385.57 L136.50,385.57 L137.00,385.57 L137.50,385.57 L138.00,385.57 L138.50,385.57 L139.00,385.57 L139.50,385.57 L140.00,385.57 L140.50,385.57 L141.00,385.57 L141.50,385.57 L142.00,385.57 L142.50,385.57 L143.00,385.57 L143.50,385.57 L144.00,385.57 L144.50,385.57 L145.00,385.57 L145.50,385.57 L146.00,385.57 L146.50,385.57 L147.00,385.57 L147.50,385.57 L148.00,385.57 L148.50,385.57 L149.00,385.57 L149.50,385.57 L150.00,385.57 L150.50,385.57 L151.00,385.57 L151.50,385.57 L152.00,385.57 L152.50,385.57 L153.00,385.57 L153.50,385.57 L154.00,385.57 L154.50,385.57 L155.00,385.57 L155.50,385.57 L156.00,385.57 L156.50,385.57 L157.00,385.57 L157.50,385.56 L158.00,385.56 L158.50,385.56 L159.00,385.56 L159.50,385.56 L160.00,385.56 L160.50,385.56 L161.00,385.56 L161.50,385.56 L162.00,385.56 L162.50,385.56 L163.00,385.56 L163.50,385.56 L164.00,385.56 L164.50,385.56 L165.00,385.56 L165.50,385.56 L166.00,385.56 L166.50,385.56 L167.00,385.56 L167.50,385.56 L168.00,385.56 L168.50,385.56 L169.00,385.56 L169.50,385.56 L170.00,385.56 L170.50,385.56 L171.00,385.56 L171.50,385.56 L172.00,385.56 L172.50,385.56 L173.00,385.56 L173.50,385.56 L174.00,385.56 L174.50,385.56 L175.00,385.56 L175.50,385.56 L176.00,385.56 L176.50,385.56 L177.00,385.56 L177.50,385.56 L178.00,385.56 L178.50,385.56 L179.00,385.56 L179.50,385.56 L180.00,385.56 L180.50,385.56 L181.00,385.56 L181.50,385.56 L182.00,385.56 L182.50,385.56 L183.00,385.56 L183.50,385.56 L184.00,385.56 L184.50,385.56 L185.00,385.56 L185.50,385.56 L186.00,385.56 L186.50,385.56 L187.00,385.56 L187.50,385.56 L188.00,385.56 L188.50,385.56 L189.00,385.56 L189.50,385.56 L190.00,385.56 L190.50,385.56 L191.00,385.56 L191.50,385.56 L192.00,385.56 L192.50,385.56 L193.00,385.56 L193.50,385.56 L194.00,385.55 L194.50,385.55 L195.00,385.55 L195.50,385.55 L196.00,385.55 L196.50,385.55 L197.00,385.55 L197.50,385.55 L198.00,385.55 L198.50,385.55 L199.00,385.55 L199.50,385.55 L200.00,385.55 L200.50,385.55 L201.00,385.55 L201.50,385.55 L202.00,385.55 L202.50,385.55 L203.00,385.55 L203.50,385.55 L204.00,385.55 L204.50,385.55 L205.00,385.55 L205.50,385.55 L206.00,385.55 L206.50,385.55 L207.00,385.55 L207.50,385.55 L208.00,385.55 L208.50,385.55 L209.00,385.55 L209.50,385.55 L210.00,385.55 L210.50,385.55 L211.00,385.55 L211.50,385.55 L212.00,385.55 L212.50,385.55 L213.00,385.55 L213.50,385.55 L214.00,385.55 L214.50,385.55 L215.00,385.55 L215.50,385.55 L216.00,385.55 L216.50,385.55 L217.00,385.55 L217.50,385.55 L218.00,385.55 L218.50,385.55 L219.00,385.55 L219.50,385.54 L220.00,385.54 L220.50,385.54 L221.00,385.54 L221.50,385.54 L222.00,385.54 L222.50,385.54 L223.00,385.54 L223.50,385.54 L224.00,385.54 L224.50,385.54 L225.00,385.54 L225.50,385.54 L226.00,385.54 L226.50,385.54 L227.00,385.54 L227.50,385.54 L228.00,385.54 L228.50,385.54 L229.00,385.54 L229.50,385.54 L230.00,385.54 L230.50,385.54 L231.00,385.54 L231.50,385.54 L232.00,385.54 L232.50,385.54 L233.00,385.54 L233.50,385.54 L234.00,385.54 L234.50,385.54 L235.00,385.54 L235.50,385.54 L236.00,385.54 L236.50,385.54 L237.00,385.54 L237.50,385.54 L238.00,385.54 L238.50,385.54 L239.00,385.54 L239.50,385.53 L240.00,385.53 L240.50,385.53 L241.00,385.53 L241.50,385.53 L242.00,385.53 L242.50,385.53 L243.00,385.53 L243.50,385.53 L244.00,385.53 L244.50,385.53 L245.00,385.53 L245.50,385.53 L246.00,385.53 L246.50,385.53 L247.00,385.53 L247.50,385.53 L248.00,385.53 L248.50,385.53 L249.00,385.53 L249.50,385.53 L250.00,385.53 L250.50,385.53 L251.00,385.53 L251.50,385.53 L252.00,385.53 L252.50,385.53 L253.00,385.53 L253.50,385.53 L254.00,385.53 L254.50,385.53 L255.00,385.52 L255.50,385.52 L256.00,385.52 L256.50,385.52 L257.00,385.52 L257.50,385.52 L258.00,385.52 L258.50,385.52 L259.00,385.52 L259.50,385.52 L260.00,385.52 L260.50,385.52 L261.00,385.52 L261.50,385.52 L262.00,385.52 L262.50,385.52 L263.00,385.52 L263.50,385.52 L264.00,385.52 L264.50,385.52 L265.00,385.52 L265.50,385.52 L266.00,385.52 L266.50,385.52 L267.00,385.52 L267.50,385.51 L268.00,385.51 L268.50,385.51 L269.00,385.51 L269.50,385.51 L270.00,385.51 L270.50,385.51 L271.00,385.51 L271.50,385.51 L272.00,385.51 L272.50,385.51 L273.00,385.51 L273.50,385.51 L274.00,385.51 L274.50,385.51 L275.00,385.51 L275.50,385.51 L276.00,385.51 L276.50,385.51 L277.00,385.51 L277.50,385.51 L278.00,385.51 L278.50,385.50 L279.00,385.50 L279.50,385.50 L280.00,385.50 L280.50,385.50 L281.00,385.50 L281.50,385.50 L282.00,385.50 L282.50,385.50 L283.00,385.50 L283.50,385.50 L284.00,385.50 L284.50,385.50 L285.00,385.50 L285.50,385.50 L286.00,385.50 L286.50,385.50 L287.00,385.50 L287.50,385.49 L288.00,385.49 L288.50,385.49 L289.00,385.49 L289.50,385.49 L290.00,385.49 L290.50,385.49 L291.00,385.49 L291.50,385.49 L292.00,385.49 L292.50,385.49 L293.00,385.49 L293.50,385.49 L294.00,385.49 L294.50,385.49 L295.00,385.48 L295.50,385.48 L296.00,385.48 L296.50,385.48 L297.00,385.48 L297.50,385.48 L298.00,385.48 L298.50,385.48 L299.00,385.48 L299.50,385.48 L300.00,385.48 L300.50,385.48 L301.00,385.48 L301.50,385.48 L302.00,385.47 L302.50,385.47 L303.00,385.47 L303.50,385.47 L304.00,385.47 L304.50,385.47 L305.00,385.47 L305.50,385.47 L306.00,385.47 L306.50,385.47 L307.00,385.46 L307.50,385.46 L308.00,385.46 L308.50,385.46 L309.00,385.46 L309.50,385.46 L310.00,385.45 L310.50,385.45 L311.00,385.45 L311.50,385.45 L312.00,385.44 L312.50,385.44 L313.00,385.44 L313.50,385.43 L314.00,385.43 L314.50,385.42 L315.00,385.42 L315.50,385.41 L316.00,385.40 L316.50,385.39 L317.00,385.38 L317.50,385.37 L318.00,385.36 L318.50,385.34 L319.00,385.32 L319.50,385.31 L320.00,385.28 L320.50,385.26 L321.00,385.23 L321.50,385.20 L322.00,385.17 L322.50,385.14 L323.00,385.10 L323.50,385.05 L324.00,385.01 L324.50,384.95 L325.00,384.90 L325.50,384.83 L326.00,384.76 L326.50,384.69 L327.00,384.61 L327.50,384.53 L328.00,384.43 L328.50,384.34 L329.00,384.23 L329.50,384.12 L330.00,384.00 L330.50,383.88 L331.00,383.74 L331.50,383.61 L332.00,383.46 L332.50,383.31 L333.00,383.15 L333.50,382.99 L334.00,382.83 L334.50,382.65 L335.00,382.48 L335.50,382.30 L336.00,382.12 L336.50,381.94 L337.00,381.75 L337.50,381.57 L338.00,381.39 L338.50,381.21 L339.00,381.03 L339.50,380.86 L340.00,380.69 L340.50,380.52 L341.00,380.37 L341.50,380.22 L342.00,380.08 L342.50,379.95 L343.00,379.83 L343.50,379.73 L344.00,379.63 L344.50,379.55 L345.00,379.48 L345.50,379.43 L346.00,379.39 L346.50,379.36 L347.00,379.35 L347.50,379.36 L348.00,379.40 L348.50,379.45 L349.00,379.53 L349.50,379.63 L350.00,379.75 L350.50,379.89 L351.00,380.04 L351.50,380.21 L352.00,380.39 L352.50,380.59 L353.00,380.80 L353.50,381.01 L354.00,381.23 L354.50,381.45 L355.00,381.67 L355.50,381.90 L356.00,382.12 L356.50,382.34 L357.00,382.55 L357.50,382.76 L358.00,382.96 L358.50,383.16 L359.00,383.34 L359.50,383.52 L360.00,383.68 L360.50,383.83 L361.00,383.98 L361.50,384.11 L362.00,384.23 L362.50,384.35 L363.00,384.45 L363.50,384.54 L364.00,384.62 L364.50,384.70 L365.00,384.77 L365.50,384.82 L366.00,384.88 L366.50,384.92 L367.00,384.96 L367.50,385.00 L368.00,385.02 L368.50,385.05 L369.00,385.07 L369.50,385.08 L370.00,385.10 L370.50,385.11 L371.00,385.12 L371.50,385.12 L372.00,385.12 L372.50,385.13 L373.00,385.13 L373.50,385.13 L374.00,385.12 L374.50,385.12 L375.00,385.12 L375.50,385.11 L376.00,385.10 L376.50,385.10 L377.00,385.09 L377.50,385.08 L378.00,385.07 L378.50,385.06 L379.00,385.05 L379.50,385.04 L380.00,385.03 L380.50,385.02 L381.00,385.01 L381.50,384.99 L382.00,384.98 L382.50,384.96 L383.00,384.95 L383.50,384.93 L384.00,384.91 L384.50,384.89 L385.00,384.87 L385.50,384.85 L386.00,384.82 L386.50,384.79 L387.00,384.76 L387.50,384.73 L388.00,384.69 L388.50,384.64 L389.00,384.60 L389.50,384.54 L390.00,384.48 L390.50,384.41 L391.00,384.32 L391.50,384.22 L392.00,384.11 L392.50,383.97 L393.00,383.80 L393.50,383.59 L394.00,383.32 L394.50,382.99 L395.00,382.56 L395.50,382.00 L396.00,381.25 L396.50,380.25 L397.00,378.92 L397.50,377.23 L398.00,375.30 L398.50,373.60 L399.00,372.88 L399.50,373.58 L400.00,375.26 L400.50,377.17 L401.00,378.84 L401.50,380.14 L402.00,381.12 L402.50,381.85 L403.00,382.39 L403.50,382.80 L404.00,383.11 L404.50,383.35 L405.00,383.53 L405.50,383.68 L406.00,383.80 L406.50,383.89 L407.00,383.97 L407.50,384.03 L408.00,384.08 L408.50,384.12 L409.00,384.15 L409.50,384.17 L410.00,384.19 L410.50,384.20 L411.00,384.21 L411.50,384.21 L412.00,384.22 L412.50,384.22 L413.00,384.21 L413.50,384.21 L414.00,384.20 L414.50,384.19 L415.00,384.17 L415.50,384.16 L416.00,384.14 L416.50,384.13 L417.00,384.11 L417.50,384.09 L418.00,384.07 L418.50,384.04 L419.00,384.02 L419.50,383.99 L420.00,383.96 L420.50,383.93 L421.00,383.90 L421.50,383.87 L422.00,383.84 L422.50,383.80 L423.00,383.77 L423.50,383.73 L424.00,383.69 L424.50,383.64 L425.00,383.60 L425.50,383.55 L426.00,383.51 L426.50,383.46 L427.00,383.40 L427.50,383.35 L428.00,383.29 L428.50,383.23 L429.00,383.17 L429.50,383.11 L430.00,383.04 L430.50,382.97 L431.00,382.90 L431.50,382.82 L432.00,382.74 L432.50,382.65 L433.00,382.56 L433.50,382.47 L434.00,382.37 L434.50,382.27 L435.00,382.16 L435.50,382.05 L436.00,381.93 L436.50,381.81 L437.00,381.67 L437.50,381.54 L438.00,381.39 L438.50,381.23 L439.00,381.07 L439.50,380.90 L440.00,380.72 L440.50,380.52 L441.00,380.32 L441.50,380.10 L442.00,379.87 L442.50,379.62 L443.00,379.36 L443.50,379.08 L444.00,378.78 L444.50,378.46 L445.00,378.12 L445.50,377.75 L446.00,377.36 L446.50,376.94 L447.00,376.49 L447.50,376.00 L448.00,375.47 L448.50,374.90 L449.00,374.28 L449.50,373.61 L450.00,372.89 L450.50,372.10 L451.00,371.24 L451.50,370.31 L452.00,369.29 L452.50,368.18 L453.00,366.96 L453.50,365.63 L454.00,364.17 L454.50,362.58 L455.00,360.83 L455.50,358.92 L456.00,356.84 L456.50,354.57 L457.00,352.12 L457.50,349.47 L458.00,346.63 L458.50,343.63 L459.00,340.48 L459.50,337.25 L459.65,336.27 L459.65,100.00 L466.95,100.00 L466.95,338.27 L467.00,338.64 L467.50,342.27 L468.00,345.72 L468.50,348.95 L469.00,351.91 L469.50,354.62 L470.00,357.06 L470.50,359.26 L471.00,361.22 L471.50,362.97 L472.00,364.53 L472.50,365.91 L473.00,367.13 L473.50,368.20 L474.00,369.13 L474.50,369.94 L475.00,370.64 L475.50,371.23 L476.00,371.71 L476.50,372.09 L477.00,372.37 L477.50,372.55 L478.00,372.62 L478.50,372.57 L479.00,372.41 L479.50,372.10 L480.00,371.64 L480.50,370.99 L481.00,370.13 L481.50,369.03 L482.00,367.65 L482.50,365.95 L483.00,363.92 L483.50,361.58 L484.00,359.01 L484.50,356.42 L485.00,354.14 L485.50,352.58 L486.00,352.11 L486.50,352.88 L487.00,354.74 L487.50,357.32 L488.00,360.21 L488.50,363.09 L489.00,365.76 L489.50,368.12 L490.00,370.16 L490.50,371.90 L491.00,373.37 L491.50,374.61 L492.00,375.67 L492.50,376.56 L493.00,377.33 L493.50,377.99 L494.00,378.55 L494.50,379.04 L495.00,379.47 L495.50,379.84 L496.00,380.17 L496.50,380.45 L497.00,380.70 L497.50,380.93 L498.00,381.12 L498.50,381.29 L499.00,381.44 L499.50,381.58 L500.00,381.69 L500.50,381.79 L501.00,381.87 L501.50,381.93 L502.00,381.99 L502.50,382.02 L503.00,382.05 L503.50,382.05 L504.00,382.05 L504.50,382.02 L505.00,381.98 L505.50,381.92 L506.00,381.84 L506.50,381.73 L507.00,381.59 L507.50,381.43 L508.00,381.22 L508.50,380.96 L509.00,380.65 L509.50,380.27 L510.00,379.80 L510.50,379.22 L511.00,378.50 L511.50,377.60 L512.00,376.45 L512.50,374.99 L513.00,373.08 L513.50,370.59 L514.00,367.28 L514.50,362.90 L515.00,357.17 L515.50,350.04 L516.00,342.11 L516.50,335.31 L517.00,332.55 L517.50,335.36 L530.00,383.64 L530.00,100.00" fill="none" stroke="#111" stroke-width="1.15"/>
</g>
<line x1="16.5" y1="385.6" x2="517.5" y2="385.6" stroke="#111" stroke-width="1.4"/>
<line x1="32.20" y1="385.6" x2="32.20" y2="389" stroke="#222" stroke-width="1"/>
<line x1="48.96" y1="385.6" x2="48.96" y2="389" stroke="#222" stroke-width="1"/>
<line x1="65.72" y1="385.6" x2="65.72" y2="389" stroke="#222" stroke-width="1"/>
<line x1="82.48" y1="385.6" x2="82.48" y2="389" stroke="#222" stroke-width="1"/>
<line x1="99.24" y1="385.6" x2="99.24" y2="389" stroke="#222" stroke-width="1"/>
<line x1="116.00" y1="385.6" x2="116.00" y2="389" stroke="#222" stroke-width="1"/>
<line x1="132.76" y1="385.6" x2="132.76" y2="389" stroke="#222" stroke-width="1"/>
<line x1="149.52" y1="385.6" x2="149.52" y2="389" stroke="#222" stroke-width="1"/>
<line x1="166.28" y1="385.6" x2="166.28" y2="389" stroke="#222" stroke-width="1"/>
<line x1="183.04" y1="385.6" x2="183.04" y2="389" stroke="#222" stroke-width="1"/>
<line x1="199.80" y1="385.6" x2="199.80" y2="389" stroke="#222" stroke-width="1"/>
<line x1="216.56" y1="385.6" x2="216.56" y2="389" stroke="#222" stroke-width="1"/>
<line x1="233.32" y1="385.6" x2="233.32" y2="389" stroke="#222" stroke-width="1"/>
<line x1="250.08" y1="385.6" x2="250.08" y2="389" stroke="#222" stroke-width="1"/>
<line x1="266.84" y1="385.6" x2="266.84" y2="389" stroke="#222" stroke-width="1"/>
<line x1="283.60" y1="385.6" x2="283.60" y2="389" stroke="#222" stroke-width="1"/>
<line x1="300.36" y1="385.6" x2="300.36" y2="389" stroke="#222" stroke-width="1"/>
<line x1="317.12" y1="385.6" x2="317.12" y2="389" stroke="#222" stroke-width="1"/>
<line x1="333.88" y1="385.6" x2="333.88" y2="389" stroke="#222" stroke-width="1"/>
<line x1="350.64" y1="385.6" x2="350.64" y2="389" stroke="#222" stroke-width="1"/>
<line x1="367.40" y1="385.6" x2="367.40" y2="389" stroke="#222" stroke-width="1"/>
<line x1="384.16" y1="385.6" x2="384.16" y2="389" stroke="#222" stroke-width="1"/>
<line x1="400.92" y1="385.6" x2="400.92" y2="389" stroke="#222" stroke-width="1"/>
<line x1="417.68" y1="385.6" x2="417.68" y2="389" stroke="#222" stroke-width="1"/>
<line x1="434.44" y1="385.6" x2="434.44" y2="389" stroke="#222" stroke-width="1"/>
<line x1="451.20" y1="385.6" x2="451.20" y2="389" stroke="#222" stroke-width="1"/>
<line x1="467.96" y1="385.6" x2="467.96" y2="389" stroke="#222" stroke-width="1"/>
<line x1="484.72" y1="385.6" x2="484.72" y2="389" stroke="#222" stroke-width="1"/>
<line x1="501.48" y1="385.6" x2="501.48" y2="389" stroke="#222" stroke-width="1"/>
<line x1="16.5" y1="485.30" x2="517.5" y2="485.30" stroke="#555" stroke-width="1"/>
<g fill="#929230"><circle cx="17.28" cy="474.12" r="1.35"/><circle cx="18.60" cy="490.82" r="1.35"/><circle cx="19.76" cy="482.77" r="1.35"/><circle cx="20.52" cy="479.09" r="1.35"/><circle cx="21.69" cy="473.41" r="1.35"/><circle cx="23.26" cy="471.52" r="1.35"/><circle cx="23.84" cy="482.90" r="1.35"/><circle cx="24.98" cy="484.68" r="1.35"/><circle cx="26.57" cy="477.18" r="1.35"/><circle cx="27.47" cy="482.30" r="1.35"/><circle cx="28.42" cy="481.97" r="1.35"/><circle cx="29.61" cy="473.21" r="1.35"/><circle cx="30.80" cy="470.21" r="1.35"/><circle cx="31.67" cy="476.26" r="1.35"/><circle cx="32.68" cy="481.22" r="1.35"/><circle cx="34.17" cy="476.41" r="1.35"/><circle cx="35.20" cy="491.90" r="1.35"/><circle cx="36.21" cy="480.12" r="1.35"/><circle cx="37.49" cy="486.69" r="1.35"/><circle cx="38.43" cy="470.21" r="1.35"/><circle cx="39.79" cy="475.47" r="1.35"/><circle cx="40.42" cy="491.72" r="1.35"/><circle cx="41.73" cy="481.23" r="1.35"/><circle cx="42.79" cy="495.85" r="1.35"/><circle cx="43.81" cy="475.51" r="1.35"/><circle cx="45.05" cy="470.20" r="1.35"/><circle cx="45.94" cy="484.60" r="1.35"/><circle cx="47.38" cy="475.70" r="1.35"/><circle cx="48.52" cy="475.45" r="1.35"/><circle cx="49.18" cy="489.76" r="1.35"/><circle cx="50.48" cy="474.11" r="1.35"/><circle cx="51.47" cy="471.47" r="1.35"/><circle cx="52.45" cy="478.56" r="1.35"/><circle cx="54.04" cy="480.40" r="1.35"/><circle cx="54.86" cy="475.03" r="1.35"/><circle cx="55.79" cy="489.70" r="1.35"/><circle cx="57.20" cy="479.41" r="1.35"/><circle cx="58.02" cy="473.35" r="1.35"/><circle cx="59.54" cy="487.82" r="1.35"/><circle cx="60.23" cy="473.74" r="1.35"/><circle cx="61.22" cy="482.63" r="1.35"/><circle cx="62.42" cy="493.10" r="1.35"/><circle cx="63.61" cy="480.66" r="1.35"/><circle cx="64.78" cy="486.11" r="1.35"/><circle cx="66.14" cy="477.98" r="1.35"/><circle cx="67.12" cy="487.37" r="1.35"/><circle cx="68.00" cy="473.37" r="1.35"/><circle cx="68.91" cy="484.64" r="1.35"/><circle cx="70.10" cy="477.74" r="1.35"/><circle cx="71.70" cy="483.73" r="1.35"/><circle cx="72.48" cy="482.02" r="1.35"/><circle cx="73.71" cy="472.48" r="1.35"/><circle cx="74.43" cy="478.63" r="1.35"/><circle cx="75.52" cy="482.47" r="1.35"/><circle cx="77.11" cy="487.87" r="1.35"/><circle cx="78.05" cy="472.67" r="1.35"/><circle cx="78.99" cy="475.36" r="1.35"/><circle cx="80.09" cy="482.04" r="1.35"/><circle cx="81.05" cy="478.45" r="1.35"/><circle cx="82.20" cy="486.46" r="1.35"/><circle cx="83.21" cy="486.37" r="1.35"/><circle cx="84.80" cy="485.18" r="1.35"/><circle cx="85.68" cy="477.75" r="1.35"/><circle cx="86.58" cy="478.11" r="1.35"/><circle cx="88.04" cy="484.67" r="1.35"/><circle cx="88.82" cy="475.32" r="1.35"/><circle cx="89.84" cy="475.03" r="1.35"/><circle cx="91.26" cy="478.88" r="1.35"/><circle cx="92.54" cy="473.43" r="1.35"/><circle cx="93.12" cy="481.78" r="1.35"/><circle cx="94.68" cy="480.68" r="1.35"/><circle cx="95.41" cy="476.99" r="1.35"/><circle cx="96.46" cy="480.18" r="1.35"/><circle cx="97.51" cy="474.96" r="1.35"/><circle cx="98.78" cy="487.85" r="1.35"/><circle cx="100.14" cy="470.98" r="1.35"/><circle cx="101.10" cy="499.07" r="1.35"/><circle cx="102.41" cy="481.00" r="1.35"/><circle cx="103.13" cy="488.64" r="1.35"/><circle cx="104.29" cy="476.18" r="1.35"/><circle cx="105.35" cy="471.93" r="1.35"/><circle cx="106.89" cy="473.21" r="1.35"/><circle cx="107.96" cy="477.38" r="1.35"/><circle cx="108.70" cy="479.43" r="1.35"/><circle cx="109.86" cy="484.88" r="1.35"/><circle cx="110.89" cy="482.86" r="1.35"/><circle cx="112.25" cy="485.84" r="1.35"/><circle cx="112.92" cy="472.87" r="1.35"/><circle cx="114.04" cy="478.78" r="1.35"/><circle cx="115.34" cy="480.10" r="1.35"/><circle cx="116.35" cy="476.87" r="1.35"/><circle cx="117.81" cy="485.94" r="1.35"/><circle cx="118.85" cy="485.66" r="1.35"/><circle cx="119.83" cy="485.49" r="1.35"/><circle cx="121.00" cy="476.80" r="1.35"/><circle cx="122.12" cy="477.78" r="1.35"/><circle cx="123.27" cy="476.29" r="1.35"/><circle cx="124.46" cy="473.14" r="1.35"/><circle cx="125.09" cy="488.48" r="1.35"/><circle cx="126.48" cy="483.46" r="1.35"/><circle cx="127.29" cy="479.00" r="1.35"/><circle cx="128.57" cy="488.42" r="1.35"/><circle cx="129.87" cy="483.28" r="1.35"/><circle cx="131.04" cy="473.53" r="1.35"/><circle cx="132.06" cy="472.97" r="1.35"/><circle cx="132.72" cy="473.14" r="1.35"/><circle cx="134.02" cy="479.65" r="1.35"/><circle cx="135.00" cy="481.25" r="1.35"/><circle cx="136.60" cy="473.11" r="1.35"/><circle cx="137.19" cy="482.28" r="1.35"/><circle cx="138.35" cy="477.78" r="1.35"/><circle cx="139.51" cy="471.56" r="1.35"/><circle cx="140.44" cy="482.22" r="1.35"/><circle cx="142.02" cy="483.75" r="1.35"/><circle cx="142.98" cy="479.96" r="1.35"/><circle cx="143.80" cy="476.13" r="1.35"/><circle cx="145.10" cy="476.86" r="1.35"/><circle cx="145.95" cy="478.92" r="1.35"/><circle cx="147.37" cy="476.39" r="1.35"/><circle cx="148.24" cy="489.97" r="1.35"/><circle cx="149.22" cy="485.31" r="1.35"/><circle cx="150.37" cy="478.86" r="1.35"/><circle cx="151.73" cy="485.74" r="1.35"/><circle cx="152.88" cy="488.34" r="1.35"/><circle cx="153.79" cy="487.49" r="1.35"/><circle cx="155.09" cy="485.66" r="1.35"/><circle cx="156.01" cy="481.00" r="1.35"/><circle cx="156.98" cy="486.32" r="1.35"/><circle cx="158.19" cy="478.39" r="1.35"/><circle cx="159.34" cy="470.07" r="1.35"/><circle cx="160.75" cy="480.80" r="1.35"/><circle cx="161.37" cy="471.84" r="1.35"/><circle cx="162.45" cy="478.05" r="1.35"/><circle cx="163.84" cy="486.92" r="1.35"/><circle cx="165.18" cy="481.47" r="1.35"/><circle cx="166.24" cy="486.04" r="1.35"/><circle cx="167.22" cy="475.01" r="1.35"/><circle cx="167.94" cy="487.11" r="1.35"/><circle cx="169.48" cy="471.51" r="1.35"/><circle cx="170.51" cy="476.20" r="1.35"/><circle cx="171.29" cy="492.58" r="1.35"/><circle cx="172.58" cy="474.90" r="1.35"/><circle cx="173.43" cy="470.05" r="1.35"/><circle cx="174.98" cy="484.81" r="1.35"/><circle cx="176.03" cy="473.62" r="1.35"/><circle cx="177.18" cy="491.15" r="1.35"/><circle cx="178.26" cy="478.23" r="1.35"/><circle cx="179.06" cy="490.59" r="1.35"/><circle cx="180.47" cy="476.78" r="1.35"/><circle cx="181.25" cy="491.08" r="1.35"/><circle cx="183.53" cy="477.31" r="1.35"/><circle cx="184.70" cy="470.00" r="1.35"/><circle cx="185.67" cy="481.80" r="1.35"/><circle cx="186.96" cy="474.56" r="1.35"/><circle cx="188.06" cy="482.28" r="1.35"/><circle cx="188.94" cy="481.82" r="1.35"/><circle cx="190.27" cy="475.90" r="1.35"/><circle cx="191.21" cy="469.98" r="1.35"/><circle cx="192.54" cy="491.58" r="1.35"/><circle cx="193.37" cy="476.22" r="1.35"/><circle cx="194.78" cy="477.59" r="1.35"/><circle cx="195.65" cy="486.11" r="1.35"/><circle cx="196.83" cy="469.96" r="1.35"/><circle cx="198.00" cy="469.95" r="1.35"/><circle cx="199.01" cy="484.64" r="1.35"/><circle cx="199.95" cy="469.94" r="1.35"/><circle cx="201.49" cy="479.38" r="1.35"/><circle cx="202.06" cy="480.76" r="1.35"/><circle cx="203.29" cy="470.26" r="1.35"/><circle cx="204.53" cy="478.29" r="1.35"/><circle cx="205.32" cy="477.68" r="1.35"/><circle cx="206.49" cy="476.30" r="1.35"/><circle cx="207.98" cy="471.59" r="1.35"/><circle cx="209.07" cy="474.07" r="1.35"/><circle cx="210.08" cy="488.52" r="1.35"/><circle cx="211.34" cy="489.59" r="1.35"/><circle cx="212.35" cy="472.59" r="1.35"/><circle cx="213.18" cy="485.51" r="1.35"/><circle cx="214.49" cy="478.73" r="1.35"/><circle cx="215.40" cy="486.43" r="1.35"/><circle cx="216.75" cy="480.81" r="1.35"/><circle cx="217.63" cy="487.70" r="1.35"/><circle cx="218.59" cy="469.84" r="1.35"/><circle cx="220.13" cy="486.05" r="1.35"/><circle cx="221.11" cy="480.39" r="1.35"/><circle cx="222.25" cy="480.80" r="1.35"/><circle cx="223.24" cy="472.01" r="1.35"/><circle cx="224.47" cy="488.55" r="1.35"/><circle cx="225.37" cy="479.81" r="1.35"/><circle cx="226.54" cy="480.90" r="1.35"/><circle cx="227.34" cy="476.24" r="1.35"/><circle cx="228.73" cy="479.71" r="1.35"/><circle cx="229.99" cy="482.48" r="1.35"/><circle cx="231.02" cy="478.04" r="1.35"/><circle cx="232.18" cy="481.90" r="1.35"/><circle cx="233.10" cy="476.58" r="1.35"/><circle cx="234.43" cy="480.17" r="1.35"/><circle cx="235.06" cy="483.64" r="1.35"/><circle cx="236.63" cy="479.67" r="1.35"/><circle cx="237.42" cy="477.20" r="1.35"/><circle cx="238.35" cy="469.68" r="1.35"/><circle cx="239.77" cy="482.56" r="1.35"/><circle cx="240.77" cy="477.52" r="1.35"/><circle cx="241.86" cy="470.23" r="1.35"/><circle cx="243.21" cy="492.52" r="1.35"/><circle cx="243.88" cy="490.40" r="1.35"/><circle cx="245.27" cy="486.89" r="1.35"/><circle cx="246.25" cy="480.11" r="1.35"/><circle cx="247.42" cy="469.58" r="1.35"/><circle cx="248.50" cy="480.55" r="1.35"/><circle cx="249.38" cy="471.74" r="1.35"/><circle cx="250.71" cy="480.73" r="1.35"/><circle cx="252.02" cy="494.83" r="1.35"/><circle cx="252.70" cy="493.88" r="1.35"/><circle cx="253.71" cy="472.87" r="1.35"/><circle cx="254.84" cy="478.10" r="1.35"/><circle cx="256.18" cy="487.42" r="1.35"/><circle cx="257.58" cy="472.18" r="1.35"/><circle cx="258.13" cy="488.91" r="1.35"/><circle cx="259.79" cy="472.03" r="1.35"/><circle cx="260.62" cy="470.02" r="1.35"/><circle cx="261.47" cy="483.97" r="1.35"/><circle cx="262.75" cy="486.10" r="1.35"/><circle cx="263.72" cy="473.78" r="1.35"/><circle cx="265.13" cy="485.97" r="1.35"/><circle cx="266.12" cy="473.62" r="1.35"/><circle cx="267.07" cy="486.55" r="1.35"/><circle cx="268.15" cy="473.91" r="1.35"/><circle cx="269.62" cy="478.37" r="1.35"/><circle cx="270.66" cy="481.66" r="1.35"/><circle cx="271.56" cy="484.55" r="1.35"/><circle cx="272.64" cy="479.66" r="1.35"/><circle cx="273.94" cy="490.76" r="1.35"/><circle cx="275.18" cy="480.54" r="1.35"/><circle cx="275.75" cy="481.27" r="1.35"/><circle cx="276.90" cy="474.47" r="1.35"/><circle cx="278.12" cy="486.60" r="1.35"/><circle cx="279.30" cy="468.85" r="1.35"/><circle cx="280.14" cy="480.58" r="1.35"/><circle cx="281.23" cy="485.75" r="1.35"/><circle cx="282.43" cy="469.79" r="1.35"/><circle cx="283.63" cy="468.67" r="1.35"/><circle cx="284.94" cy="479.59" r="1.35"/><circle cx="285.97" cy="483.97" r="1.35"/><circle cx="286.72" cy="487.00" r="1.35"/><circle cx="287.83" cy="468.46" r="1.35"/><circle cx="289.17" cy="480.14" r="1.35"/><circle cx="290.52" cy="468.31" r="1.35"/><circle cx="291.65" cy="475.53" r="1.35"/><circle cx="292.42" cy="477.02" r="1.35"/><circle cx="293.83" cy="475.63" r="1.35"/><circle cx="294.96" cy="468.00" r="1.35"/><circle cx="295.74" cy="472.31" r="1.35"/><circle cx="297.05" cy="471.92" r="1.35"/><circle cx="297.92" cy="479.67" r="1.35"/><circle cx="298.89" cy="476.53" r="1.35"/><circle cx="300.25" cy="467.54" r="1.35"/><circle cx="301.05" cy="474.15" r="1.35"/><circle cx="302.50" cy="477.67" r="1.35"/><circle cx="303.69" cy="467.15" r="1.35"/><circle cx="304.85" cy="475.82" r="1.35"/><circle cx="305.67" cy="482.55" r="1.35"/><circle cx="306.57" cy="466.76" r="1.35"/><circle cx="308.14" cy="480.46" r="1.35"/><circle cx="309.22" cy="477.51" r="1.35"/><circle cx="310.38" cy="466.13" r="1.35"/><circle cx="311.26" cy="474.32" r="1.35"/><circle cx="312.40" cy="477.81" r="1.35"/><circle cx="313.32" cy="476.05" r="1.35"/><circle cx="314.31" cy="475.85" r="1.35"/><circle cx="315.48" cy="464.99" r="1.35"/><circle cx="316.83" cy="475.46" r="1.35"/><circle cx="317.69" cy="474.11" r="1.35"/><circle cx="319.01" cy="463.91" r="1.35"/><circle cx="320.00" cy="472.92" r="1.35"/><circle cx="321.07" cy="463.13" r="1.35"/><circle cx="322.48" cy="462.52" r="1.35"/><circle cx="323.10" cy="469.02" r="1.35"/><circle cx="324.39" cy="476.42" r="1.35"/><circle cx="325.30" cy="464.21" r="1.35"/><circle cx="326.86" cy="462.08" r="1.35"/><circle cx="327.69" cy="459.79" r="1.35"/><circle cx="328.70" cy="464.87" r="1.35"/><circle cx="329.70" cy="457.85" r="1.35"/><circle cx="331.06" cy="456.58" r="1.35"/><circle cx="332.04" cy="469.61" r="1.35"/><circle cx="332.98" cy="454.47" r="1.35"/><circle cx="334.02" cy="459.97" r="1.35"/><circle cx="335.33" cy="463.10" r="1.35"/><circle cx="336.55" cy="459.90" r="1.35"/><circle cx="337.61" cy="447.57" r="1.35"/><circle cx="338.94" cy="447.82" r="1.35"/><circle cx="340.05" cy="463.20" r="1.35"/><circle cx="341.16" cy="449.15" r="1.35"/><circle cx="342.18" cy="448.40" r="1.35"/><circle cx="343.09" cy="446.67" r="1.35"/><circle cx="344.21" cy="446.41" r="1.35"/><circle cx="345.24" cy="450.30" r="1.35"/><circle cx="346.34" cy="433.77" r="1.35"/><circle cx="347.22" cy="443.86" r="1.35"/><circle cx="348.78" cy="438.91" r="1.35"/><circle cx="349.55" cy="440.16" r="1.35"/><circle cx="350.52" cy="441.18" r="1.35"/><circle cx="351.88" cy="433.15" r="1.35"/><circle cx="353.13" cy="437.39" r="1.35"/><circle cx="354.06" cy="445.92" r="1.35"/><circle cx="355.12" cy="450.03" r="1.35"/><circle cx="356.40" cy="450.15" r="1.35"/><circle cx="357.20" cy="443.10" r="1.35"/><circle cx="358.21" cy="450.89" r="1.35"/><circle cx="359.66" cy="453.64" r="1.35"/><circle cx="360.72" cy="459.53" r="1.35"/><circle cx="362.02" cy="461.76" r="1.35"/><circle cx="362.85" cy="460.35" r="1.35"/><circle cx="364.17" cy="475.63" r="1.35"/><circle cx="364.81" cy="454.90" r="1.35"/><circle cx="365.92" cy="471.68" r="1.35"/><circle cx="367.36" cy="472.26" r="1.35"/><circle cx="368.24" cy="461.34" r="1.35"/><circle cx="369.24" cy="469.53" r="1.35"/><circle cx="370.38" cy="471.87" r="1.35"/><circle cx="371.62" cy="477.02" r="1.35"/><circle cx="372.70" cy="484.14" r="1.35"/><circle cx="373.94" cy="474.16" r="1.35"/><circle cx="375.23" cy="468.76" r="1.35"/><circle cx="376.02" cy="482.51" r="1.35"/><circle cx="377.01" cy="468.90" r="1.35"/><circle cx="378.35" cy="485.39" r="1.35"/><circle cx="379.10" cy="483.33" r="1.35"/><circle cx="380.43" cy="476.20" r="1.35"/><circle cx="381.49" cy="479.88" r="1.35"/><circle cx="382.63" cy="476.01" r="1.35"/><circle cx="383.53" cy="485.39" r="1.35"/><circle cx="384.93" cy="487.69" r="1.35"/><circle cx="386.07" cy="493.30" r="1.35"/><circle cx="387.25" cy="489.42" r="1.35"/><circle cx="388.47" cy="488.88" r="1.35"/><circle cx="389.21" cy="491.23" r="1.35"/><circle cx="390.49" cy="485.72" r="1.35"/><circle cx="391.47" cy="486.73" r="1.35"/><circle cx="392.43" cy="495.16" r="1.35"/><circle cx="393.93" cy="467.07" r="1.35"/><circle cx="394.95" cy="487.99" r="1.35"/><circle cx="396.17" cy="490.63" r="1.35"/><circle cx="397.19" cy="474.87" r="1.35"/><circle cx="398.35" cy="475.26" r="1.35"/><circle cx="398.98" cy="489.81" r="1.35"/><circle cx="400.01" cy="491.74" r="1.35"/><circle cx="401.22" cy="488.61" r="1.35"/><circle cx="402.45" cy="475.03" r="1.35"/><circle cx="403.71" cy="483.91" r="1.35"/><circle cx="404.66" cy="486.88" r="1.35"/><circle cx="405.81" cy="481.76" r="1.35"/><circle cx="407.06" cy="473.77" r="1.35"/><circle cx="407.74" cy="489.97" r="1.35"/><circle cx="409.21" cy="483.35" r="1.35"/><circle cx="409.93" cy="489.50" r="1.35"/><circle cx="411.15" cy="467.48" r="1.35"/><circle cx="412.53" cy="468.80" r="1.35"/><circle cx="413.61" cy="474.05" r="1.35"/><circle cx="414.54" cy="477.38" r="1.35"/><circle cx="415.58" cy="475.49" r="1.35"/><circle cx="417.00" cy="492.61" r="1.35"/><circle cx="417.76" cy="477.48" r="1.35"/><circle cx="418.72" cy="487.46" r="1.35"/><circle cx="419.95" cy="487.16" r="1.35"/><circle cx="420.91" cy="483.08" r="1.35"/><circle cx="422.49" cy="480.57" r="1.35"/><circle cx="423.17" cy="474.62" r="1.35"/><circle cx="424.78" cy="473.55" r="1.35"/><circle cx="425.43" cy="476.20" r="1.35"/><circle cx="426.58" cy="483.62" r="1.35"/><circle cx="427.85" cy="473.20" r="1.35"/><circle cx="428.78" cy="478.07" r="1.35"/><circle cx="429.93" cy="469.68" r="1.35"/><circle cx="430.86" cy="482.74" r="1.35"/><circle cx="432.13" cy="494.16" r="1.35"/><circle cx="433.02" cy="484.27" r="1.35"/><circle cx="434.23" cy="466.18" r="1.35"/><circle cx="435.75" cy="474.33" r="1.35"/><circle cx="436.47" cy="477.21" r="1.35"/><circle cx="437.56" cy="470.21" r="1.35"/><circle cx="438.91" cy="472.34" r="1.35"/><circle cx="440.13" cy="472.34" r="1.35"/><circle cx="440.88" cy="478.31" r="1.35"/><circle cx="442.03" cy="474.32" r="1.35"/><circle cx="443.33" cy="473.20" r="1.35"/><circle cx="444.48" cy="478.19" r="1.35"/><circle cx="445.47" cy="480.87" r="1.35"/><circle cx="446.31" cy="472.66" r="1.35"/><circle cx="447.41" cy="467.02" r="1.35"/><circle cx="448.85" cy="468.41" r="1.35"/><circle cx="449.92" cy="468.83" r="1.35"/><circle cx="451.14" cy="468.06" r="1.35"/><circle cx="452.17" cy="458.89" r="1.35"/><circle cx="453.05" cy="475.97" r="1.35"/><circle cx="453.98" cy="459.17" r="1.35"/><circle cx="455.53" cy="455.60" r="1.35"/><circle cx="456.52" cy="466.30" r="1.35"/><circle cx="457.55" cy="463.80" r="1.35"/><circle cx="458.71" cy="457.49" r="1.35"/><circle cx="459.63" cy="452.28" r="1.35"/><circle cx="460.71" cy="461.89" r="1.35"/><circle cx="461.95" cy="457.82" r="1.35"/><circle cx="462.99" cy="458.43" r="1.35"/><circle cx="464.23" cy="465.56" r="1.35"/><circle cx="465.46" cy="450.25" r="1.35"/><circle cx="466.51" cy="458.67" r="1.35"/><circle cx="467.33" cy="468.08" r="1.35"/><circle cx="468.42" cy="458.90" r="1.35"/><circle cx="469.86" cy="470.53" r="1.35"/><circle cx="470.64" cy="467.10" r="1.35"/><circle cx="471.98" cy="462.69" r="1.35"/><circle cx="472.66" cy="469.64" r="1.35"/><circle cx="473.97" cy="459.03" r="1.35"/><circle cx="475.11" cy="476.57" r="1.35"/><circle cx="476.39" cy="467.18" r="1.35"/><circle cx="477.53" cy="472.36" r="1.35"/><circle cx="478.19" cy="461.47" r="1.35"/><circle cx="479.57" cy="466.01" r="1.35"/><circle cx="480.68" cy="471.15" r="1.35"/><circle cx="481.49" cy="472.64" r="1.35"/><circle cx="483.00" cy="474.36" r="1.35"/><circle cx="483.93" cy="467.28" r="1.35"/><circle cx="485.28" cy="479.17" r="1.35"/><circle cx="485.91" cy="472.00" r="1.35"/><circle cx="487.21" cy="476.33" r="1.35"/><circle cx="488.19" cy="474.53" r="1.35"/><circle cx="489.49" cy="478.06" r="1.35"/><circle cx="490.56" cy="466.92" r="1.35"/><circle cx="491.61" cy="481.06" r="1.35"/><circle cx="492.59" cy="475.53" r="1.35"/><circle cx="493.80" cy="475.62" r="1.35"/><circle cx="494.82" cy="473.70" r="1.35"/><circle cx="496.23" cy="474.92" r="1.35"/><circle cx="497.08" cy="475.20" r="1.35"/><circle cx="498.19" cy="471.84" r="1.35"/><circle cx="499.16" cy="487.62" r="1.35"/><circle cx="500.25" cy="478.20" r="1.35"/><circle cx="501.77" cy="486.20" r="1.35"/><circle cx="502.49" cy="477.03" r="1.35"/><circle cx="503.92" cy="486.08" r="1.35"/><circle cx="504.86" cy="484.75" r="1.35"/><circle cx="506.19" cy="479.19" r="1.35"/><circle cx="506.80" cy="470.06" r="1.35"/><circle cx="508.36" cy="475.32" r="1.35"/><circle cx="509.36" cy="477.16" r="1.35"/><circle cx="510.34" cy="470.24" r="1.35"/><circle cx="511.53" cy="485.09" r="1.35"/><circle cx="512.63" cy="492.37" r="1.35"/><circle cx="513.57" cy="481.90" r="1.35"/><circle cx="514.78" cy="481.03" r="1.35"/><circle cx="515.64" cy="469.59" r="1.35"/><circle cx="516.61" cy="469.63" r="1.35"/></g>
<path d="M16.50,485.22 L17.00,485.22 L17.50,485.22 L18.00,485.22 L18.50,485.22 L19.00,485.22 L19.50,485.22 L20.00,485.22 L20.50,485.22 L21.00,485.22 L21.50,485.22 L22.00,485.22 L22.50,485.22 L23.00,485.22 L23.50,485.22 L24.00,485.22 L24.50,485.22 L25.00,485.22 L25.50,485.22 L26.00,485.21 L26.50,485.21 L27.00,485.21 L27.50,485.21 L28.00,485.21 L28.50,485.21 L29.00,485.21 L29.50,485.21 L30.00,485.21 L30.50,485.21 L31.00,485.21 L31.50,485.21 L32.00,485.21 L32.50,485.21 L33.00,485.21 L33.50,485.21 L34.00,485.21 L34.50,485.21 L35.00,485.21 L35.50,485.21 L36.00,485.21 L36.50,485.21 L37.00,485.21 L37.50,485.21 L38.00,485.21 L38.50,485.21 L39.00,485.21 L39.50,485.21 L40.00,485.21 L40.50,485.21 L41.00,485.21 L41.50,485.21 L42.00,485.21 L42.50,485.21 L43.00,485.21 L43.50,485.21 L44.00,485.21 L44.50,485.20 L45.00,485.20 L45.50,485.20 L46.00,485.20 L46.50,485.20 L47.00,485.20 L47.50,485.20 L48.00,485.20 L48.50,485.20 L49.00,485.20 L49.50,485.20 L50.00,485.20 L50.50,485.20 L51.00,485.20 L51.50,485.20 L52.00,485.20 L52.50,485.20 L53.00,485.20 L53.50,485.20 L54.00,485.20 L54.50,485.20 L55.00,485.20 L55.50,485.20 L56.00,485.20 L56.50,485.20 L57.00,485.20 L57.50,485.20 L58.00,485.20 L58.50,485.20 L59.00,485.20 L59.50,485.20 L60.00,485.20 L60.50,485.19 L61.00,485.19 L61.50,485.19 L62.00,485.19 L62.50,485.19 L63.00,485.19 L63.50,485.19 L64.00,485.19 L64.50,485.19 L65.00,485.19 L65.50,485.19 L66.00,485.19 L66.50,485.19 L67.00,485.19 L67.50,485.19 L68.00,485.19 L68.50,485.19 L69.00,485.19 L69.50,485.19 L70.00,485.19 L70.50,485.19 L71.00,485.19 L71.50,485.19 L72.00,485.19 L72.50,485.19 L73.00,485.19 L73.50,485.19 L74.00,485.19 L74.50,485.18 L75.00,485.18 L75.50,485.18 L76.00,485.18 L76.50,485.18 L77.00,485.18 L77.50,485.18 L78.00,485.18 L78.50,485.18 L79.00,485.18 L79.50,485.18 L80.00,485.18 L80.50,485.18 L81.00,485.18 L81.50,485.18 L82.00,485.18 L82.50,485.18 L83.00,485.18 L83.50,485.18 L84.00,485.18 L84.50,485.18 L85.00,485.18 L85.50,485.18 L86.00,485.18 L86.50,485.17 L87.00,485.17 L87.50,485.17 L88.00,485.17 L88.50,485.17 L89.00,485.17 L89.50,485.17 L90.00,485.17 L90.50,485.17 L91.00,485.17 L91.50,485.17 L92.00,485.17 L92.50,485.17 L93.00,485.17 L93.50,485.17 L94.00,485.17 L94.50,485.17 L95.00,485.17 L95.50,485.17 L96.00,485.17 L96.50,485.17 L97.00,485.16 L97.50,485.16 L98.00,485.16 L98.50,485.16 L99.00,485.16 L99.50,485.16 L100.00,485.16 L100.50,485.16 L101.00,485.16 L101.50,485.16 L102.00,485.16 L102.50,485.16 L103.00,485.16 L103.50,485.16 L104.00,485.16 L104.50,485.16 L105.00,485.16 L105.50,485.16 L106.00,485.16 L106.50,485.15 L107.00,485.15 L107.50,485.15 L108.00,485.15 L108.50,485.15 L109.00,485.15 L109.50,485.15 L110.00,485.15 L110.50,485.15 L111.00,485.15 L111.50,485.15 L112.00,485.15 L112.50,485.15 L113.00,485.15 L113.50,485.15 L114.00,485.15 L114.50,485.15 L115.00,485.14 L115.50,485.14 L116.00,485.14 L116.50,485.14 L117.00,485.14 L117.50,485.14 L118.00,485.14 L118.50,485.14 L119.00,485.14 L119.50,485.14 L120.00,485.14 L120.50,485.14 L121.00,485.14 L121.50,485.14 L122.00,485.14 L122.50,485.14 L123.00,485.13 L123.50,485.13 L124.00,485.13 L124.50,485.13 L125.00,485.13 L125.50,485.13 L126.00,485.13 L126.50,485.13 L127.00,485.13 L127.50,485.13 L128.00,485.13 L128.50,485.13 L129.00,485.13 L129.50,485.13 L130.00,485.12 L130.50,485.12 L131.00,485.12 L131.50,485.12 L132.00,485.12 L132.50,485.12 L133.00,485.12 L133.50,485.12 L134.00,485.12 L134.50,485.12 L135.00,485.12 L135.50,485.12 L136.00,485.12 L136.50,485.11 L137.00,485.11 L137.50,485.11 L138.00,485.11 L138.50,485.11 L139.00,485.11 L139.50,485.11 L140.00,485.11 L140.50,485.11 L141.00,485.11 L141.50,485.11 L142.00,485.11 L142.50,485.10 L143.00,485.10 L143.50,485.10 L144.00,485.10 L144.50,485.10 L145.00,485.10 L145.50,485.10 L146.00,485.10 L146.50,485.10 L147.00,485.10 L147.50,485.10 L148.00,485.09 L148.50,485.09 L149.00,485.09 L149.50,485.09 L150.00,485.09 L150.50,485.09 L151.00,485.09 L151.50,485.09 L152.00,485.09 L152.50,485.09 L153.00,485.08 L153.50,485.08 L154.00,485.08 L154.50,485.08 L155.00,485.08 L155.50,485.08 L156.00,485.08 L156.50,485.08 L157.00,485.08 L157.50,485.08 L158.00,485.07 L158.50,485.07 L159.00,485.07 L159.50,485.07 L160.00,485.07 L160.50,485.07 L161.00,485.07 L161.50,485.07 L162.00,485.06 L162.50,485.06 L163.00,485.06 L163.50,485.06 L164.00,485.06 L164.50,485.06 L165.00,485.06 L165.50,485.06 L166.00,485.06 L166.50,485.05 L167.00,485.05 L167.50,485.05 L168.00,485.05 L168.50,485.05 L169.00,485.05 L169.50,485.05 L170.00,485.05 L170.50,485.04 L171.00,485.04 L171.50,485.04 L172.00,485.04 L172.50,485.04 L173.00,485.04 L173.50,485.04 L174.00,485.03 L174.50,485.03 L175.00,485.03 L175.50,485.03 L176.00,485.03 L176.50,485.03 L177.00,485.03 L177.50,485.02 L178.00,485.02 L178.50,485.02 L179.00,485.02 L179.50,485.02 L180.00,485.02 L180.50,485.02 L181.00,485.01 L181.50,485.01 L182.00,485.01 L182.50,485.01 L183.00,485.01 L183.50,485.01 L184.00,485.00 L184.50,485.00 L185.00,485.00 L185.50,485.00 L186.00,485.00 L186.50,485.00 L187.00,484.99 L187.50,484.99 L188.00,484.99 L188.50,484.99 L189.00,484.99 L189.50,484.98 L190.00,484.98 L190.50,484.98 L191.00,484.98 L191.50,484.98 L192.00,484.98 L192.50,484.97 L193.00,484.97 L193.50,484.97 L194.00,484.97 L194.50,484.97 L195.00,484.96 L195.50,484.96 L196.00,484.96 L196.50,484.96 L197.00,484.96 L197.50,484.95 L198.00,484.95 L198.50,484.95 L199.00,484.95 L199.50,484.94 L200.00,484.94 L200.50,484.94 L201.00,484.94 L201.50,484.94 L202.00,484.93 L202.50,484.93 L203.00,484.93 L203.50,484.93 L204.00,484.92 L204.50,484.92 L205.00,484.92 L205.50,484.92 L206.00,484.91 L206.50,484.91 L207.00,484.91 L207.50,484.91 L208.00,484.90 L208.50,484.90 L209.00,484.90 L209.50,484.90 L210.00,484.89 L210.50,484.89 L211.00,484.89 L211.50,484.89 L212.00,484.88 L212.50,484.88 L213.00,484.88 L213.50,484.87 L214.00,484.87 L214.50,484.87 L215.00,484.87 L215.50,484.86 L216.00,484.86 L216.50,484.86 L217.00,484.85 L217.50,484.85 L218.00,484.85 L218.50,484.84 L219.00,484.84 L219.50,484.84 L220.00,484.83 L220.50,484.83 L221.00,484.83 L221.50,484.82 L222.00,484.82 L222.50,484.82 L223.00,484.81 L223.50,484.81 L224.00,484.81 L224.50,484.80 L225.00,484.80 L225.50,484.79 L226.00,484.79 L226.50,484.79 L227.00,484.78 L227.50,484.78 L228.00,484.77 L228.50,484.77 L229.00,484.77 L229.50,484.76 L230.00,484.76 L230.50,484.75 L231.00,484.75 L231.50,484.75 L232.00,484.74 L232.50,484.74 L233.00,484.73 L233.50,484.73 L234.00,484.72 L234.50,484.72 L235.00,484.71 L235.50,484.71 L236.00,484.70 L236.50,484.70 L237.00,484.69 L237.50,484.69 L238.00,484.68 L238.50,484.68 L239.00,484.67 L239.50,484.67 L240.00,484.66 L240.50,484.66 L241.00,484.65 L241.50,484.65 L242.00,484.64 L242.50,484.64 L243.00,484.63 L243.50,484.62 L244.00,484.62 L244.50,484.61 L245.00,484.61 L245.50,484.60 L246.00,484.59 L246.50,484.59 L247.00,484.58 L247.50,484.57 L248.00,484.57 L248.50,484.56 L249.00,484.55 L249.50,484.55 L250.00,484.54 L250.50,484.53 L251.00,484.53 L251.50,484.52 L252.00,484.51 L252.50,484.50 L253.00,484.50 L253.50,484.49 L254.00,484.48 L254.50,484.47 L255.00,484.46 L255.50,484.46 L256.00,484.45 L256.50,484.44 L257.00,484.43 L257.50,484.42 L258.00,484.41 L258.50,484.40 L259.00,484.39 L259.50,484.39 L260.00,484.38 L260.50,484.37 L261.00,484.36 L261.50,484.35 L262.00,484.34 L262.50,484.33 L263.00,484.32 L263.50,484.30 L264.00,484.29 L264.50,484.28 L265.00,484.27 L265.50,484.26 L266.00,484.25 L266.50,484.24 L267.00,484.23 L267.50,484.21 L268.00,484.20 L268.50,484.19 L269.00,484.18 L269.50,484.16 L270.00,484.15 L270.50,484.14 L271.00,484.12 L271.50,484.11 L272.00,484.09 L272.50,484.08 L273.00,484.06 L273.50,484.05 L274.00,484.03 L274.50,484.02 L275.00,484.00 L275.50,483.99 L276.00,483.97 L276.50,483.95 L277.00,483.94 L277.50,483.92 L278.00,483.90 L278.50,483.88 L279.00,483.86 L279.50,483.84 L280.00,483.83 L280.50,483.81 L281.00,483.79 L281.50,483.77 L282.00,483.74 L282.50,483.72 L283.00,483.70 L283.50,483.68 L284.00,483.66 L284.50,483.63 L285.00,483.61 L285.50,483.58 L286.00,483.56 L286.50,483.53 L287.00,483.51 L287.50,483.48 L288.00,483.45 L288.50,483.43 L289.00,483.40 L289.50,483.37 L290.00,483.34 L290.50,483.31 L291.00,483.28 L291.50,483.25 L292.00,483.21 L292.50,483.18 L293.00,483.14 L293.50,483.11 L294.00,483.07 L294.50,483.04 L295.00,483.00 L295.50,482.96 L296.00,482.92 L296.50,482.88 L297.00,482.84 L297.50,482.79 L298.00,482.75 L298.50,482.70 L299.00,482.66 L299.50,482.61 L300.00,482.56 L300.50,482.51 L301.00,482.46 L301.50,482.40 L302.00,482.35 L302.50,482.29 L303.00,482.23 L303.50,482.17 L304.00,482.11 L304.50,482.05 L305.00,481.98 L305.50,481.91 L306.00,481.85 L306.50,481.77 L307.00,481.70 L307.50,481.62 L308.00,481.54 L308.50,481.46 L309.00,481.38 L309.50,481.29 L310.00,481.20 L310.50,481.11 L311.00,481.01 L311.50,480.92 L312.00,480.81 L312.50,480.71 L313.00,480.60 L313.50,480.48 L314.00,480.37 L314.50,480.24 L315.00,480.12 L315.50,479.99 L316.00,479.85 L316.50,479.71 L317.00,479.56 L317.50,479.41 L318.00,479.25 L318.50,479.09 L319.00,478.92 L319.50,478.74 L320.00,478.55 L320.50,478.36 L321.00,478.16 L321.50,477.95 L322.00,477.73 L322.50,477.51 L323.00,477.27 L323.50,477.02 L324.00,476.77 L324.50,476.50 L325.00,476.22 L325.50,475.92 L326.00,475.62 L326.50,475.29 L327.00,474.96 L327.50,474.61 L328.00,474.24 L328.50,473.85 L329.00,473.45 L329.50,473.03 L330.00,472.59 L330.50,472.12 L331.00,471.64 L331.50,471.13 L332.00,470.59 L332.50,470.03 L333.00,469.44 L333.50,468.83 L334.00,468.19 L334.50,467.51 L335.00,466.80 L335.50,466.07 L336.00,465.29 L336.50,464.49 L337.00,463.65 L337.50,462.77 L338.00,461.86 L338.50,460.91 L339.00,459.93 L339.50,458.92 L340.00,457.88 L340.50,456.81 L341.00,455.71 L341.50,454.59 L342.00,453.46 L342.50,452.32 L343.00,451.18 L343.50,450.04 L344.00,448.93 L344.50,447.84 L345.00,446.79 L345.50,445.79 L346.00,444.85 L346.50,444.00 L347.00,443.23 L347.50,442.57 L348.00,442.02 L348.50,441.60 L349.00,441.30 L349.50,441.15 L350.00,441.13 L350.50,441.26 L351.00,441.55 L351.50,441.97 L352.00,442.53 L352.50,443.22 L353.00,444.02 L353.50,444.91 L354.00,445.89 L354.50,446.93 L355.00,448.03 L355.50,449.17 L356.00,450.33 L356.50,451.51 L357.00,452.70 L357.50,453.88 L358.00,455.05 L358.50,456.19 L359.00,457.32 L359.50,458.41 L360.00,459.47 L360.50,460.50 L361.00,461.49 L361.50,462.45 L362.00,463.36 L362.50,464.24 L363.00,465.08 L363.50,465.88 L364.00,466.65 L364.50,467.38 L365.00,468.07 L365.50,468.74 L366.00,469.37 L366.50,469.97 L367.00,470.54 L367.50,471.09 L368.00,471.60 L368.50,472.10 L369.00,472.57 L369.50,473.01 L370.00,473.44 L370.50,473.84 L371.00,474.23 L371.50,474.60 L372.00,474.95 L372.50,475.28 L373.00,475.60 L373.50,475.90 L374.00,476.19 L374.50,476.47 L375.00,476.73 L375.50,476.98 L376.00,477.22 L376.50,477.45 L377.00,477.67 L377.50,477.88 L378.00,478.09 L378.50,478.28 L379.00,478.46 L379.50,478.64 L380.00,478.81 L380.50,478.97 L381.00,479.12 L381.50,479.27 L382.00,479.42 L382.50,479.55 L383.00,479.68 L383.50,479.81 L384.00,479.93 L384.50,480.05 L385.00,480.16 L385.50,480.27 L386.00,480.37 L386.50,480.47 L387.00,480.57 L387.50,480.66 L388.00,480.74 L388.50,480.83 L389.00,480.91 L389.50,480.99 L390.00,481.06 L390.50,481.14 L391.00,481.21 L391.50,481.27 L392.00,481.34 L392.50,481.40 L393.00,481.46 L393.50,481.52 L394.00,481.57 L394.50,481.62 L395.00,481.68 L395.50,481.72 L396.00,481.77 L396.50,481.82 L397.00,481.86 L397.50,481.90 L398.00,481.94 L398.50,481.98 L399.00,482.01 L399.50,482.05 L400.00,482.08 L400.50,482.11 L401.00,482.14 L401.50,482.17 L402.00,482.20 L402.50,482.23 L403.00,482.25 L403.50,482.27 L404.00,482.30 L404.50,482.32 L405.00,482.34 L405.50,482.35 L406.00,482.37 L406.50,482.39 L407.00,482.40 L407.50,482.42 L408.00,482.43 L408.50,482.44 L409.00,482.45 L409.50,482.46 L410.00,482.47 L410.50,482.47 L411.00,482.48 L411.50,482.48 L412.00,482.49 L412.50,482.49 L413.00,482.49 L413.50,482.49 L414.00,482.49 L414.50,482.49 L415.00,482.48 L415.50,482.48 L416.00,482.47 L416.50,482.46 L417.00,482.46 L417.50,482.45 L418.00,482.44 L418.50,482.42 L419.00,482.41 L419.50,482.40 L420.00,482.38 L420.50,482.36 L421.00,482.35 L421.50,482.33 L422.00,482.30 L422.50,482.28 L423.00,482.26 L423.50,482.23 L424.00,482.20 L424.50,482.17 L425.00,482.14 L425.50,482.11 L426.00,482.08 L426.50,482.04 L427.00,482.00 L427.50,481.96 L428.00,481.92 L428.50,481.88 L429.00,481.83 L429.50,481.78 L430.00,481.73 L430.50,481.67 L431.00,481.62 L431.50,481.56 L432.00,481.50 L432.50,481.43 L433.00,481.36 L433.50,481.29 L434.00,481.22 L434.50,481.14 L435.00,481.06 L435.50,480.97 L436.00,480.88 L436.50,480.79 L437.00,480.69 L437.50,480.59 L438.00,480.48 L438.50,480.37 L439.00,480.25 L439.50,480.13 L440.00,480.00 L440.50,479.86 L441.00,479.72 L441.50,479.57 L442.00,479.42 L442.50,479.25 L443.00,479.08 L443.50,478.90 L444.00,478.71 L444.50,478.51 L445.00,478.30 L445.50,478.09 L446.00,477.86 L446.50,477.62 L447.00,477.36 L447.50,477.10 L448.00,476.82 L448.50,476.53 L449.00,476.22 L449.50,475.90 L450.00,475.56 L450.50,475.20 L451.00,474.83 L451.50,474.44 L452.00,474.03 L452.50,473.61 L453.00,473.16 L453.50,472.70 L454.00,472.21 L454.50,471.71 L455.00,471.18 L455.50,470.64 L456.00,470.08 L456.50,469.50 L457.00,468.90 L457.50,468.29 L458.00,467.67 L458.50,467.05 L459.00,466.41 L459.50,465.78 L460.00,465.15 L460.50,464.53 L461.00,463.92 L461.50,463.34 L462.00,462.79 L462.50,462.27 L463.00,461.80 L463.50,461.38 L464.00,461.02 L464.50,460.72 L465.00,460.49 L465.50,460.33 L466.00,460.25 L466.50,460.25 L467.00,460.38 L467.50,460.64 L468.00,461.03 L468.50,461.53 L469.00,462.12 L469.50,462.79 L470.00,463.53 L470.50,464.32 L471.00,465.15 L471.50,465.99 L472.00,466.84 L472.50,467.68 L473.00,468.51 L473.50,469.33 L474.00,470.11 L474.50,470.87 L475.00,471.59 L475.50,472.29 L476.00,472.94 L476.50,473.57 L477.00,474.16 L477.50,474.71 L478.00,475.24 L478.50,475.74 L479.00,476.20 L479.50,476.64 L480.00,477.05 L480.50,477.44 L481.00,477.81 L481.50,478.15 L482.00,478.48 L482.50,478.78 L483.00,479.07 L483.50,479.34 L484.00,479.60 L484.50,479.84 L485.00,480.07 L485.50,480.28 L486.00,480.49 L486.50,480.68 L487.00,480.86 L487.50,481.04 L488.00,481.20 L488.50,481.36 L489.00,481.50 L489.50,481.65 L490.00,481.78 L490.50,481.91 L491.00,482.03 L491.50,482.14 L492.00,482.26 L492.50,482.36 L493.00,482.46 L493.50,482.56 L494.00,482.65 L494.50,482.74 L495.00,482.83 L495.50,482.91 L496.00,482.99 L496.50,483.06 L497.00,483.13 L497.50,483.20 L498.00,483.27 L498.50,483.33 L499.00,483.39 L499.50,483.45 L500.00,483.51 L500.50,483.57 L501.00,483.62 L501.50,483.67 L502.00,483.72 L502.50,483.77 L503.00,483.82 L503.50,483.86 L504.00,483.91 L504.50,483.95 L505.00,483.99 L505.50,484.03 L506.00,484.07 L506.50,484.11 L507.00,484.15 L507.50,484.18 L508.00,484.22 L508.50,484.25 L509.00,484.28 L509.50,484.31 L510.00,484.35 L510.50,484.37 L511.00,484.40 L511.50,484.42 L512.00,484.44 L512.50,484.47 L513.00,484.49 L513.50,484.51 L514.00,484.53 L514.50,484.55 L515.00,484.57 L515.50,484.59 L516.00,484.61 L516.50,484.62 L517.00,484.64 L517.50,484.66" fill="none" stroke="#222" stroke-width="1.1"/>
<line x1="16.5" y1="0.8" x2="517.8" y2="0.8" stroke="#3a3a3a" stroke-width="1.8"/>
<line x1="16.6" y1="0" x2="16.6" y2="501.5" stroke="#1a1a1a" stroke-width="1.4"/>
<line x1="517.7" y1="0" x2="517.7" y2="501.5" stroke="#1a1a1a" stroke-width="1.6"/>
<line x1="16" y1="501.2" x2="518.5" y2="501.2" stroke="#1a1a1a" stroke-width="1.4"/>
<line x1="32.20" y1="501.2" x2="32.20" y2="505.70" stroke="#222" stroke-width="1"/>
<line x1="48.96" y1="501.2" x2="48.96" y2="503.70" stroke="#222" stroke-width="1"/>
<line x1="65.72" y1="501.2" x2="65.72" y2="505.70" stroke="#222" stroke-width="1"/>
<line x1="82.48" y1="501.2" x2="82.48" y2="503.70" stroke="#222" stroke-width="1"/>
<line x1="99.24" y1="501.2" x2="99.24" y2="505.70" stroke="#222" stroke-width="1"/>
<line x1="116.00" y1="501.2" x2="116.00" y2="503.70" stroke="#222" stroke-width="1"/>
<line x1="132.76" y1="501.2" x2="132.76" y2="505.70" stroke="#222" stroke-width="1"/>
<line x1="149.52" y1="501.2" x2="149.52" y2="503.70" stroke="#222" stroke-width="1"/>
<line x1="166.28" y1="501.2" x2="166.28" y2="505.70" stroke="#222" stroke-width="1"/>
<line x1="183.04" y1="501.2" x2="183.04" y2="503.70" stroke="#222" stroke-width="1"/>
<line x1="199.80" y1="501.2" x2="199.80" y2="505.70" stroke="#222" stroke-width="1"/>
<line x1="216.56" y1="501.2" x2="216.56" y2="503.70" stroke="#222" stroke-width="1"/>
<line x1="233.32" y1="501.2" x2="233.32" y2="505.70" stroke="#222" stroke-width="1"/>
<line x1="250.08" y1="501.2" x2="250.08" y2="503.70" stroke="#222" stroke-width="1"/>
<line x1="266.84" y1="501.2" x2="266.84" y2="505.70" stroke="#222" stroke-width="1"/>
<line x1="283.60" y1="501.2" x2="283.60" y2="503.70" stroke="#222" stroke-width="1"/>
<line x1="300.36" y1="501.2" x2="300.36" y2="505.70" stroke="#222" stroke-width="1"/>
<line x1="317.12" y1="501.2" x2="317.12" y2="503.70" stroke="#222" stroke-width="1"/>
<line x1="333.88" y1="501.2" x2="333.88" y2="505.70" stroke="#222" stroke-width="1"/>
<line x1="350.64" y1="501.2" x2="350.64" y2="503.70" stroke="#222" stroke-width="1"/>
<line x1="367.40" y1="501.2" x2="367.40" y2="505.70" stroke="#222" stroke-width="1"/>
<line x1="384.16" y1="501.2" x2="384.16" y2="503.70" stroke="#222" stroke-width="1"/>
<line x1="400.92" y1="501.2" x2="400.92" y2="505.70" stroke="#222" stroke-width="1"/>
<line x1="417.68" y1="501.2" x2="417.68" y2="503.70" stroke="#222" stroke-width="1"/>
<line x1="434.44" y1="501.2" x2="434.44" y2="505.70" stroke="#222" stroke-width="1"/>
<line x1="451.20" y1="501.2" x2="451.20" y2="503.70" stroke="#222" stroke-width="1"/>
<line x1="467.96" y1="501.2" x2="467.96" y2="505.70" stroke="#222" stroke-width="1"/>
<line x1="484.72" y1="501.2" x2="484.72" y2="503.70" stroke="#222" stroke-width="1"/>
<line x1="501.48" y1="501.2" x2="501.48" y2="505.70" stroke="#222" stroke-width="1"/>
<text x="37.50" y="521.30" font-size="12.00" font-family="Liberation Sans, sans-serif" font-weight="bold" style="white-space:pre" stroke="#1a1a1a" stroke-width="0.45" fill="#111" text-anchor="middle" textLength="20.00" lengthAdjust="spacingAndGlyphs" >160</text>
<text x="71.02" y="521.30" font-size="12.00" font-family="Liberation Sans, sans-serif" font-weight="bold" style="white-space:pre" stroke="#1a1a1a" stroke-width="0.45" fill="#111" text-anchor="middle" textLength="20.00" lengthAdjust="spacingAndGlyphs" >180</text>
<text x="104.54" y="521.30" font-size="12.00" font-family="Liberation Sans, sans-serif" font-weight="bold" style="white-space:pre" stroke="#1a1a1a" stroke-width="0.45" fill="#111" text-anchor="middle" textLength="20.00" lengthAdjust="spacingAndGlyphs" >200</text>
<text x="138.06" y="521.30" font-size="12.00" font-family="Liberation Sans, sans-serif" font-weight="bold" style="white-space:pre" stroke="#1a1a1a" stroke-width="0.45" fill="#111" text-anchor="middle" textLength="20.00" lengthAdjust="spacingAndGlyphs" >220</text>
<text x="171.58" y="521.30" font-size="12.00" font-family="Liberation Sans, sans-serif" font-weight="bold" style="white-space:pre" stroke="#1a1a1a" stroke-width="0.45" fill="#111" text-anchor="middle" textLength="20.00" lengthAdjust="spacingAndGlyphs" >240</text>
<text x="205.10" y="521.30" font-size="12.00" font-family="Liberation Sans, sans-serif" font-weight="bold" style="white-space:pre" stroke="#1a1a1a" stroke-width="0.45" fill="#111" text-anchor="middle" textLength="20.00" lengthAdjust="spacingAndGlyphs" >260</text>
<text x="238.62" y="521.30" font-size="12.00" font-family="Liberation Sans, sans-serif" font-weight="bold" style="white-space:pre" stroke="#1a1a1a" stroke-width="0.45" fill="#111" text-anchor="middle" textLength="20.00" lengthAdjust="spacingAndGlyphs" >280</text>
<text x="272.14" y="521.30" font-size="12.00" font-family="Liberation Sans, sans-serif" font-weight="bold" style="white-space:pre" stroke="#1a1a1a" stroke-width="0.45" fill="#111" text-anchor="middle" textLength="20.00" lengthAdjust="spacingAndGlyphs" >300</text>
<text x="305.66" y="521.30" font-size="12.00" font-family="Liberation Sans, sans-serif" font-weight="bold" style="white-space:pre" stroke="#1a1a1a" stroke-width="0.45" fill="#111" text-anchor="middle" textLength="20.00" lengthAdjust="spacingAndGlyphs" >320</text>
<text x="339.18" y="521.30" font-size="12.00" font-family="Liberation Sans, sans-serif" font-weight="bold" style="white-space:pre" stroke="#1a1a1a" stroke-width="0.45" fill="#111" text-anchor="middle" textLength="20.00" lengthAdjust="spacingAndGlyphs" >340</text>
<text x="372.70" y="521.30" font-size="12.00" font-family="Liberation Sans, sans-serif" font-weight="bold" style="white-space:pre" stroke="#1a1a1a" stroke-width="0.45" fill="#111" text-anchor="middle" textLength="20.00" lengthAdjust="spacingAndGlyphs" >360</text>
<text x="406.22" y="521.30" font-size="12.00" font-family="Liberation Sans, sans-serif" font-weight="bold" style="white-space:pre" stroke="#1a1a1a" stroke-width="0.45" fill="#111" text-anchor="middle" textLength="20.00" lengthAdjust="spacingAndGlyphs" >380</text>
<text x="439.74" y="521.30" font-size="12.00" font-family="Liberation Sans, sans-serif" font-weight="bold" style="white-space:pre" stroke="#1a1a1a" stroke-width="0.45" fill="#111" text-anchor="middle" textLength="20.00" lengthAdjust="spacingAndGlyphs" >400</text>
<text x="473.26" y="521.30" font-size="12.00" font-family="Liberation Sans, sans-serif" font-weight="bold" style="white-space:pre" stroke="#1a1a1a" stroke-width="0.45" fill="#111" text-anchor="middle" textLength="20.00" lengthAdjust="spacingAndGlyphs" >420</text>
<text x="506.78" y="521.30" font-size="12.00" font-family="Liberation Sans, sans-serif" font-weight="bold" style="white-space:pre" stroke="#1a1a1a" stroke-width="0.45" fill="#111" text-anchor="middle" textLength="20.00" lengthAdjust="spacingAndGlyphs" >440</text>
<text x="227.40" y="538.00" font-size="12.00" font-family="Liberation Sans, sans-serif" font-weight="bold" style="white-space:pre" stroke="#1a1a1a" stroke-width="0.2" fill="#111" text-anchor="start" textLength="95.10" lengthAdjust="spacingAndGlyphs" >Raman Shift (cm<tspan font-size="8" dy="-4.5">-1</tspan><tspan dy="4.5">)</tspan></text>
<text transform="translate(9.50,331.00) rotate(-90)" font-size="12.60" font-family="Liberation Sans, sans-serif" font-weight="bold" style="white-space:pre" stroke="#1a1a1a" stroke-width="0.50" fill="#111" textLength="160.30" lengthAdjust="spacingAndGlyphs">Normalized Intensity (arb. units)</text>
<text x="24.60" y="20.50" font-size="10.80" font-family="Liberation Sans, sans-serif" font-weight="bold" style="white-space:pre" stroke="#1a1a1a" stroke-width="0.2" fill="#111" text-anchor="start" textLength="10.40" lengthAdjust="spacingAndGlyphs" >[a]</text>
<text x="24.00" y="147.80" font-size="10.80" font-family="Liberation Sans, sans-serif" font-weight="bold" style="white-space:pre" stroke="#1a1a1a" stroke-width="0.2" fill="#111" text-anchor="start" textLength="11.00" lengthAdjust="spacingAndGlyphs" >[b]</text>
<text x="25.00" y="409.20" font-size="10.80" font-family="Liberation Sans, sans-serif" font-weight="bold" style="white-space:pre" stroke="#1a1a1a" stroke-width="0.2" fill="#111" text-anchor="start" textLength="10.20" lengthAdjust="spacingAndGlyphs" >[c]</text>
<text x="17.20" y="119.30" font-size="10.80" font-family="Liberation Sans, sans-serif" font-weight="bold" style="white-space:pre" stroke="#1a1a1a" stroke-width="0.2" fill="#111" text-anchor="start" textLength="17.30" lengthAdjust="spacingAndGlyphs" >WS<tspan fill="#22229a" stroke="#22229a" font-size="7.5" dy="2">2</tspan></text>
<text transform="translate(61.10,113.20) rotate(-90)" font-size="10.50" font-family="Liberation Sans, sans-serif" font-weight="bold" style="white-space:pre" stroke="#1a1a1a" stroke-width="0.2" fill="#111" textLength="47.10" lengthAdjust="spacingAndGlyphs">175  LA(M)</text>
<text transform="translate(88.85,120.00) rotate(-90)" font-size="10.50" font-family="Liberation Sans, sans-serif" font-weight="bold" style="white-space:pre" stroke="#1a1a1a" stroke-width="0.2" fill="#111" textLength="80.00" lengthAdjust="spacingAndGlyphs">192  E″(M) - LA(M)</text>
<text transform="translate(106.85,120.00) rotate(-90)" font-size="10.50" font-family="Liberation Sans, sans-serif" font-weight="bold" style="white-space:pre" stroke="#1a1a1a" stroke-width="0.2" fill="#111" textLength="80.00" lengthAdjust="spacingAndGlyphs">202  E″(M) - ZA(M)</text>
<text transform="translate(128.10,120.00) rotate(-90)" font-size="10.50" font-family="Liberation Sans, sans-serif" font-weight="bold" style="white-space:pre" stroke="#1a1a1a" stroke-width="0.2" fill="#111" textLength="80.00" lengthAdjust="spacingAndGlyphs">214  E″(M) - TA(M)</text>
<text transform="translate(153.10,118.75) rotate(-90)" font-size="10.50" font-family="Liberation Sans, sans-serif" font-weight="bold" style="white-space:pre" stroke="#1a1a1a" stroke-width="0.2" fill="#111" textLength="84.25" lengthAdjust="spacingAndGlyphs">230  A′<tspan font-size="7" dy="2">1</tspan><tspan dy="-2">(M) - LA(M)</tspan></text>
<text transform="translate(211.10,122.50) rotate(-90)" font-size="10.50" font-family="Liberation Sans, sans-serif" font-weight="bold" style="white-space:pre" stroke="#1a1a1a" stroke-width="0.2" fill="#111" textLength="93.75" lengthAdjust="spacingAndGlyphs">264  2LA(M) - 3E″(M)</text>
<text transform="translate(253.60,120.00) rotate(-90)" font-size="10.50" font-family="Liberation Sans, sans-serif" font-weight="bold" style="white-space:pre" stroke="#1a1a1a" stroke-width="0.2" fill="#111" textLength="54.00" lengthAdjust="spacingAndGlyphs">293  2ZA(M)</text>
<text transform="translate(265.60,111.00) rotate(-90)" font-size="10.50" font-family="Liberation Sans, sans-serif" font-weight="bold" style="white-space:pre" stroke="#1a1a1a" stroke-width="0.2" fill="#111" textLength="42.25" lengthAdjust="spacingAndGlyphs">297  E″(Γ)</text>
<text transform="translate(309.10,99.50) rotate(-90)" font-size="10.50" font-family="Liberation Sans, sans-serif" font-weight="bold" style="white-space:pre" stroke="#1a1a1a" stroke-width="0.2" fill="#111" textLength="47.00" lengthAdjust="spacingAndGlyphs">325  E″(M)</text>
<text transform="translate(333.10,57.50) rotate(-90)" font-size="10.50" font-family="Liberation Sans, sans-serif" font-weight="bold" style="white-space:pre" stroke="#1a1a1a" stroke-width="0.2" fill="#111" textLength="45.00" lengthAdjust="spacingAndGlyphs">347  E′(M)</text>
<text transform="translate(466.10,101.40) rotate(-90)" font-size="10.50" font-family="Liberation Sans, sans-serif" font-weight="bold" style="white-space:pre" stroke="#1a1a1a" stroke-width="0.2" fill="#111" textLength="86.20" lengthAdjust="spacingAndGlyphs">417  A′<tspan font-size="7" dy="2">1</tspan><tspan dy="-2">(Γ), Sapphire</tspan></text>
<text x="384.90" y="19.70" font-size="11.00" font-family="Liberation Sans, sans-serif" font-weight="bold" style="white-space:pre" stroke="#1a1a1a" stroke-width="0.2" fill="#111" text-anchor="start" textLength="15.60" lengthAdjust="spacingAndGlyphs" >352</text>
<text x="409.10" y="19.70" font-size="11.00" font-family="Liberation Sans, sans-serif" font-weight="bold" style="white-space:pre" stroke="#1a1a1a" stroke-width="0.2" fill="#111" text-anchor="start" textLength="29.40" lengthAdjust="spacingAndGlyphs" >2LA(M)</text>
<text x="386.20" y="63.70" font-size="11.00" font-family="Liberation Sans, sans-serif" font-weight="bold" style="white-space:pre" stroke="#1a1a1a" stroke-width="0.2" fill="#111" text-anchor="start" textLength="16.80" lengthAdjust="spacingAndGlyphs" >357</text>
<text x="410.50" y="63.70" font-size="11.00" font-family="Liberation Sans, sans-serif" font-weight="bold" style="white-space:pre" stroke="#1a1a1a" stroke-width="0.2" fill="#111" text-anchor="start" textLength="17.70" lengthAdjust="spacingAndGlyphs" >E′(Γ)</text>
<line x1="381.00" y1="15.50" x2="361.33" y2="45.01" stroke="#111" stroke-width="1.60"/>
<polygon points="358.00,50.00 359.22,42.40 364.55,45.95" fill="#111"/>
<line x1="381.00" y1="60.00" x2="370.44" y2="78.77" stroke="#111" stroke-width="1.60"/>
<polygon points="367.50,84.00 368.14,76.33 373.72,79.47" fill="#111"/>
<line x1="331.00" y1="65.00" x2="336.58" y2="71.46" stroke="#111" stroke-width="1.60"/>
<polygon points="340.50,76.00 333.50,72.79 338.35,68.61" fill="#111"/>
<text x="22.60" y="201.10" font-size="10.80" font-family="Liberation Sans, sans-serif" font-weight="bold" style="white-space:pre" stroke="#1a1a1a" stroke-width="0.2" fill="#111" text-anchor="start" textLength="143.20" lengthAdjust="spacingAndGlyphs" >Pd / WS<tspan font-size="7.5" dy="2">2</tspan><tspan dy="-2"> / Sapphire – as deposited</tspan></text>
<text x="22.60" y="255.80" font-size="10.80" font-family="Liberation Sans, sans-serif" font-weight="bold" style="white-space:pre" stroke="#1a1a1a" stroke-width="0.2" fill="#111" text-anchor="start" textLength="168.40" lengthAdjust="spacingAndGlyphs" >Pd / WS<tspan font-size="7.5" dy="2">2</tspan><tspan dy="-2"> / Sapphire – annealed @ 100 <tspan font-size="7" dy="-3.5">o</tspan><tspan dy="3.5">C</tspan></tspan></text>
<text x="22.60" y="313.60" font-size="10.80" font-family="Liberation Sans, sans-serif" font-weight="bold" style="white-space:pre" stroke="#1a1a1a" stroke-width="0.2" fill="#111" text-anchor="start" textLength="168.40" lengthAdjust="spacingAndGlyphs" >Pd / WS<tspan font-size="7.5" dy="2">2</tspan><tspan dy="-2"> / Sapphire – annealed @ 200 <tspan font-size="7" dy="-3.5">o</tspan><tspan dy="3.5">C</tspan></tspan></text>
<text x="22.60" y="371.80" font-size="10.80" font-family="Liberation Sans, sans-serif" font-weight="bold" style="white-space:pre" stroke="#1a1a1a" stroke-width="0.2" fill="#111" text-anchor="start" textLength="168.40" lengthAdjust="spacingAndGlyphs" >Pd / WS<tspan font-size="7.5" dy="2">2</tspan><tspan dy="-2"> / Sapphire – annealed @ 300 <tspan font-size="7" dy="-3.5">o</tspan><tspan dy="3.5">C</tspan></tspan></text>
<text transform="translate(361.60,199.50) rotate(-90)" font-size="10.50" font-family="Liberation Sans, sans-serif" font-weight="bold" style="white-space:pre" stroke="#1a1a1a" stroke-width="0.2" fill="#111" textLength="15.70" lengthAdjust="spacingAndGlyphs">352</text>
<text transform="translate(403.00,198.60) rotate(-90)" font-size="10.50" font-family="Liberation Sans, sans-serif" font-weight="bold" style="white-space:pre" stroke="#1a1a1a" stroke-width="0.2" fill="#111" textLength="35.60" lengthAdjust="spacingAndGlyphs">Sapphire</text>
<text x="474.90" y="150.80" font-size="10.80" font-family="Liberation Sans, sans-serif" font-weight="bold" style="white-space:pre" stroke="#1a1a1a" stroke-width="0.2" fill="#111" text-anchor="start" textLength="37.40" lengthAdjust="spacingAndGlyphs" >Sapphire</text>
<line x1="493.50" y1="159.20" x2="475.29" y2="168.07" stroke="#111" stroke-width="1.60"/>
<polygon points="469.90,170.70 474.79,164.76 477.59,170.51" fill="#111"/>
<line x1="493.50" y1="159.20" x2="488.80" y2="177.39" stroke="#111" stroke-width="1.60"/>
<polygon points="487.30,183.20 485.95,175.62 492.15,177.22" fill="#111"/>
<line x1="493.50" y1="159.20" x2="508.67" y2="167.75" stroke="#111" stroke-width="1.60"/>
<polygon points="513.90,170.70 506.23,170.05 509.37,164.47" fill="#111"/>
<text x="22.80" y="445.60" font-size="10.80" font-family="Liberation Sans, sans-serif" font-weight="bold" style="white-space:pre" stroke="#1a1a1a" stroke-width="0.2" fill="#111" text-anchor="start" textLength="82.40" lengthAdjust="spacingAndGlyphs" >Pd / WS<tspan font-size="7.5" dy="2">2</tspan><tspan dy="-2"> - exfoliated</tspan></text>
<text transform="translate(353.20,435.00) rotate(-90)" font-size="10.50" font-family="Liberation Sans, sans-serif" font-weight="bold" style="white-space:pre" stroke="#1a1a1a" stroke-width="0.05" fill="#111" textLength="18.20" lengthAdjust="spacingAndGlyphs">350</text>
<text transform="translate(468.90,442.20) rotate(-90)" font-size="10.50" font-family="Liberation Sans, sans-serif" font-weight="bold" style="white-space:pre" stroke="#1a1a1a" stroke-width="0.05" fill="#111" textLength="17.20" lengthAdjust="spacingAndGlyphs">419</text>
</svg>
</body></html>
